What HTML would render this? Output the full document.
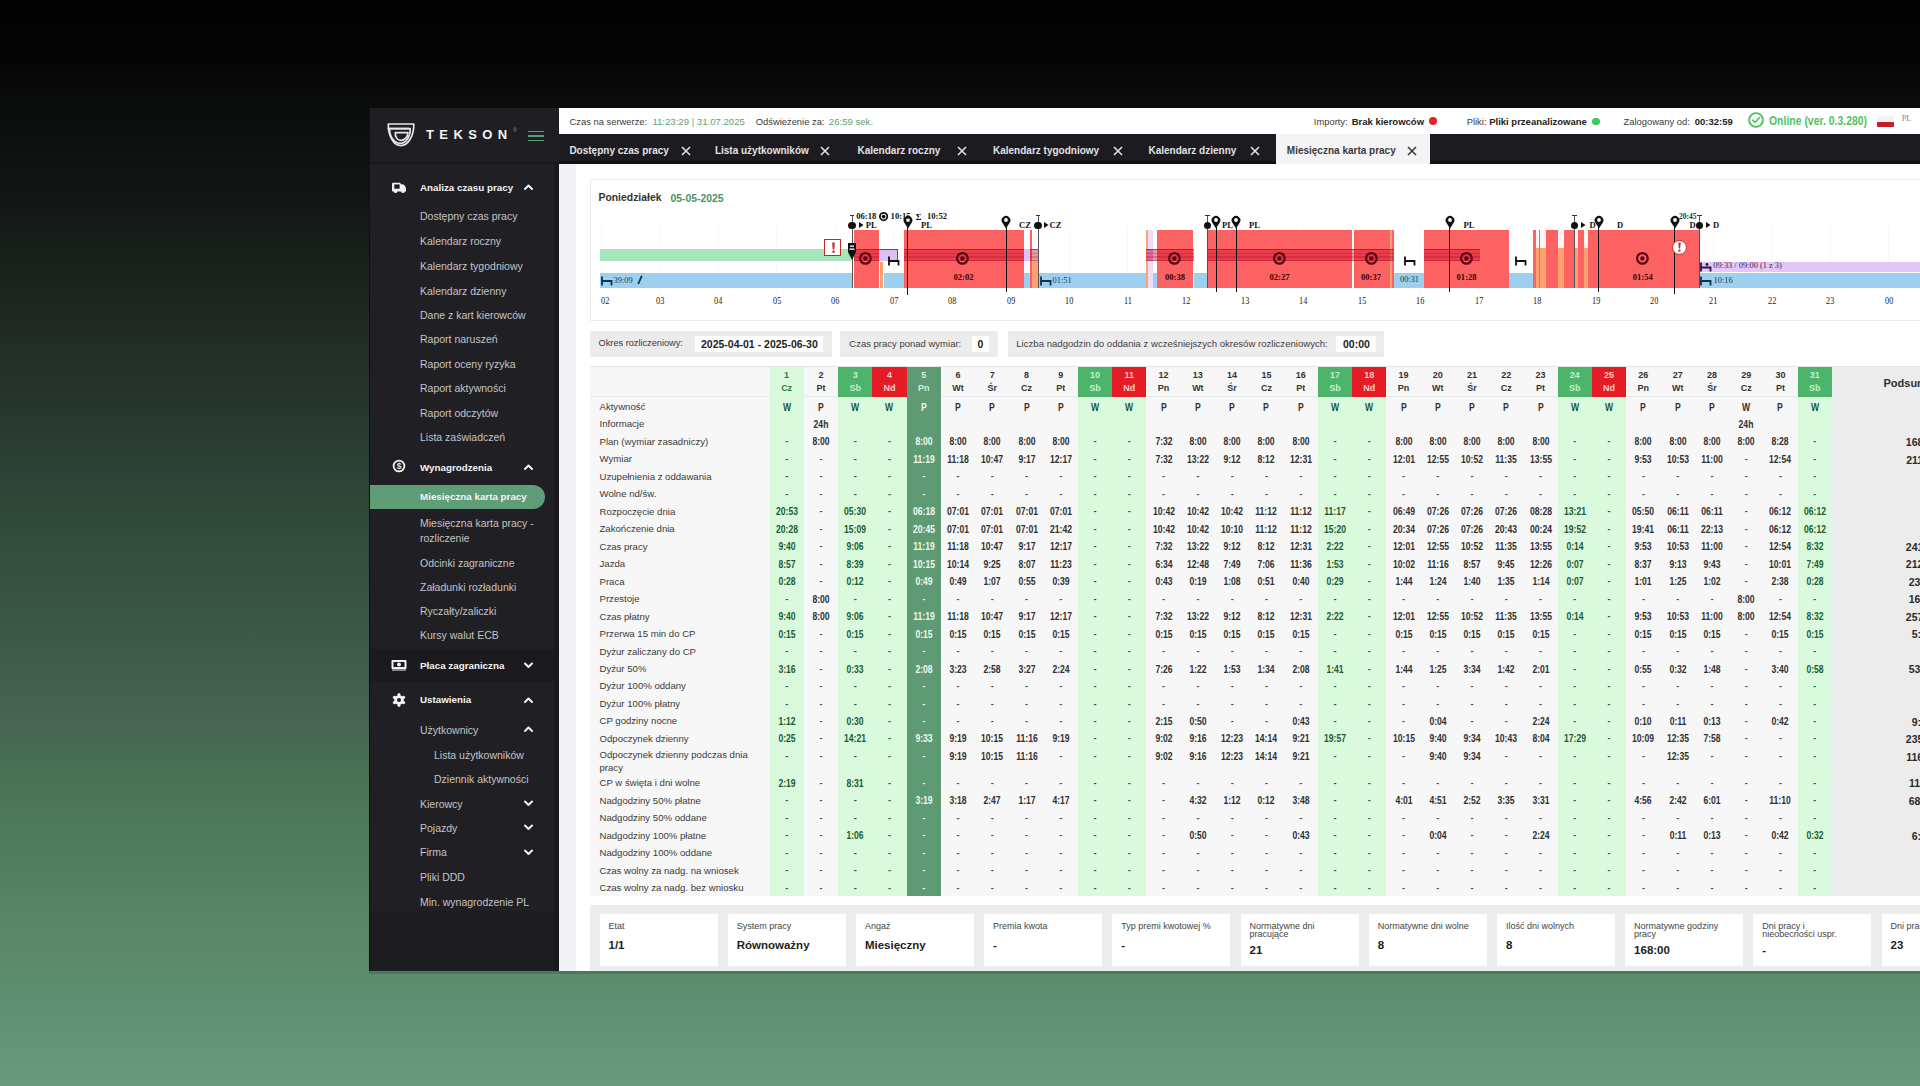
<!DOCTYPE html>
<html><head><meta charset="utf-8"><title>Tekson</title><style>
*{box-sizing:border-box;margin:0;padding:0}
html,body{width:1920px;height:1086px;overflow:hidden}
body{position:relative;font-family:"Liberation Sans",sans-serif;
background:linear-gradient(180deg,#020202 0px,#050505 60px,#0a0b0b 100px,#121714 200px,#1d2620 300px,#26352b 400px,#2f4739 500px,#385444 600px,#476552 725px,#466f53 762px,#4c765a 805px,#568364 900px,#5f8f71 1000px,#68997c 1086px);}
.a{position:absolute}
.t{position:absolute;white-space:nowrap;line-height:1}
</style></head><body>
<div class="a" style="left:369px;top:108px;width:190px;height:863px;background:#201f23"></div>
<div class="a" style="left:369px;top:108px;width:190px;height:55px;background:#1f1e22"></div>
<div class="a" style="left:369px;top:162px;width:190px;height:2px;background:#19181b"></div>
<div class="a" style="left:369px;top:649px;width:190px;height:32px;background:#1b1a1e"></div>
<div class="a" style="left:369px;top:911px;width:190px;height:60px;background:#1d1c20"></div>
<div class="a" style="left:369px;top:108px;width:1px;height:863px;background:#0f0f11"></div>
<div class="a" style="left:555px;top:164px;width:4px;height:807px;background:#19181c"></div>
<svg class="a" style="left:386px;top:121px" width="30" height="28" viewBox="0 0 30 28">
<g fill="none" stroke="#e6e6ea" stroke-width="1.7" stroke-linejoin="round">
<path d="M2.3 3.0 H27.8 C28.1 14.9 22.0 24.6 14.9 24.6 C7.8 24.6 2.0 14.9 2.3 3.0 Z"/>
<path d="M3.6 7.6 H24.2 C24.5 15.7 20.0 22.3 14.2 22.3 C8.4 22.3 3.3 15.7 3.6 7.6 Z"/>
<path d="M9.3 11.6 H21.9 C22.2 15.9 18.3 19.4 14.8 19.4 C11.3 19.4 9.0 15.9 9.3 11.6 Z"/>
<path d="M1.6 7.6 H23"/>
</g></svg>
<div class="t" style="left:426px;top:128px;font-size:13px;font-weight:bold;letter-spacing:5.4px;color:#f4f4f4">TEKSON</div>
<div class="t" style="left:513px;top:128px;font-size:5px;color:#9a9a9a">®</div>
<div class="a" style="left:528px;top:130.5px;width:16px;height:1.5px;background:#5e9c75"></div>
<div class="a" style="left:528px;top:135px;width:16px;height:1.5px;background:#5e9c75"></div>
<div class="a" style="left:528px;top:139.5px;width:16px;height:1.5px;background:#5e9c75"></div>
<svg class="a" style="left:391px;top:181px" width="16" height="13" viewBox="0 0 16 13">
<rect x="1" y="1.8" width="8.6" height="8.6" rx="1" fill="#f2f2f2"/>
<rect x="3.3" y="3.4" width="5.3" height="4.3" fill="#1f1e22"/>
<path d="M9 3.2 H12 Q15 4.8 15 8 V10.4 H9 Z" fill="#f2f2f2"/>
<circle cx="4.6" cy="10.4" r="1.7" fill="#f2f2f2"/>
<circle cx="12" cy="10.4" r="1.7" fill="#f2f2f2"/>
</svg>
<div class="t" style="left:420px;top:182.5px;font-size:9.8px;font-weight:bold;color:#f3f3f3">Analiza czasu pracy</div>
<svg class="a" style="left:523.5px;top:184.0px" width="9" height="7"><path d="M1 5 L4.5 1.5 L8 5" fill="none" stroke="#f0f0f0" stroke-width="2" stroke-linecap="round" stroke-linejoin="round"/></svg>
<div class="t" style="left:420px;top:211.0px;font-size:10.5px;color:#c4c4c6">Dostępny czas pracy</div>
<div class="t" style="left:420px;top:236.0px;font-size:10.5px;color:#c4c4c6">Kalendarz roczny</div>
<div class="t" style="left:420px;top:261.0px;font-size:10.5px;color:#c4c4c6">Kalendarz tygodniowy</div>
<div class="t" style="left:420px;top:285.5px;font-size:10.5px;color:#c4c4c6">Kalendarz dzienny</div>
<div class="t" style="left:420px;top:309.5px;font-size:10.5px;color:#c4c4c6">Dane z kart kierowców</div>
<div class="t" style="left:420px;top:334.3px;font-size:10.5px;color:#c4c4c6">Raport naruszeń</div>
<div class="t" style="left:420px;top:358.7px;font-size:10.5px;color:#c4c4c6">Raport oceny ryzyka</div>
<div class="t" style="left:420px;top:383.2px;font-size:10.5px;color:#c4c4c6">Raport aktywności</div>
<div class="t" style="left:420px;top:407.6px;font-size:10.5px;color:#c4c4c6">Raport odczytów</div>
<div class="t" style="left:420px;top:432.0px;font-size:10.5px;color:#c4c4c6">Lista zaświadczeń</div>
<svg class="a" style="left:391.9px;top:458.8px" width="14" height="14" viewBox="0 0 14 14">
<circle cx="7" cy="7" r="5.4" fill="none" stroke="#f0f0f2" stroke-width="1.8"/>
<text x="7" y="10" text-anchor="middle" font-size="8.5" font-weight="bold" font-family="Liberation Sans" fill="#e6e6e6">$</text>
</svg>
<div class="t" style="left:420px;top:462.5px;font-size:9.8px;font-weight:bold;color:#f3f3f3">Wynagrodzenia</div>
<svg class="a" style="left:523.5px;top:463.5px" width="9" height="7"><path d="M1 5 L4.5 1.5 L8 5" fill="none" stroke="#f0f0f0" stroke-width="2" stroke-linecap="round" stroke-linejoin="round"/></svg>
<div class="a" style="left:370px;top:484.5px;width:174.5px;height:24.5px;background:#5f9d76;border-radius:0 12.5px 12.5px 0"></div>
<div class="t" style="left:420px;top:491.5px;font-size:9.8px;font-weight:bold;color:#f4f4f4">Miesięczna karta pracy</div>
<div class="t" style="left:420px;top:517.5px;font-size:10.5px;color:#c4c4c6">Miesięczna karta pracy -</div>
<div class="t" style="left:420px;top:532.5px;font-size:10.5px;color:#c4c4c6">rozliczenie</div>
<div class="t" style="left:420px;top:557.5px;font-size:10.5px;color:#c4c4c6">Odcinki zagraniczne</div>
<div class="t" style="left:420px;top:581.8px;font-size:10.5px;color:#c4c4c6">Załadunki rozładunki</div>
<div class="t" style="left:420px;top:605.8px;font-size:10.5px;color:#c4c4c6">Ryczałty/zaliczki</div>
<div class="t" style="left:420px;top:630.4px;font-size:10.5px;color:#c4c4c6">Kursy walut ECB</div>
<svg class="a" style="left:391px;top:659px" width="16" height="12" viewBox="0 0 16 12">
<rect x="0.5" y="1" width="15" height="9" rx="1" fill="#f2f2f2"/>
<rect x="2.5" y="3" width="11" height="5" fill="#1b1a1e"/>
<circle cx="8" cy="5.5" r="2" fill="#f2f2f2"/>
<rect x="1" y="10.5" width="14" height="1" fill="#f2f2f2"/>
</svg>
<div class="t" style="left:420px;top:660.5px;font-size:9.8px;font-weight:bold;color:#f3f3f3">Płaca zagraniczna</div>
<svg class="a" style="left:523.5px;top:661.5px" width="9" height="7"><path d="M1 1.5 L4.5 5 L8 1.5" fill="none" stroke="#f0f0f0" stroke-width="2" stroke-linecap="round" stroke-linejoin="round"/></svg>
<svg class="a" style="left:392px;top:693px" width="14" height="14" viewBox="0 0 14 14">
<g fill="#f2f2f2"><circle cx="7" cy="7" r="4.8"/>
<rect x="5.6" y="0.3" width="2.8" height="13.4" rx="0.6"/>
<rect x="5.6" y="0.3" width="2.8" height="13.4" rx="0.6" transform="rotate(60 7 7)"/>
<rect x="5.6" y="0.3" width="2.8" height="13.4" rx="0.6" transform="rotate(120 7 7)"/></g>
<circle cx="7" cy="7" r="2" fill="#201f23"/>
</svg>
<div class="t" style="left:420px;top:695.3px;font-size:9.8px;font-weight:bold;color:#f3f3f3">Ustawienia</div>
<svg class="a" style="left:523.5px;top:696.5px" width="9" height="7"><path d="M1 5 L4.5 1.5 L8 5" fill="none" stroke="#f0f0f0" stroke-width="2" stroke-linecap="round" stroke-linejoin="round"/></svg>
<div class="t" style="left:420px;top:724.5px;font-size:10.5px;color:#c4c4c6">Użytkownicy</div>
<svg class="a" style="left:523.5px;top:725.5px" width="9" height="7"><path d="M1 5 L4.5 1.5 L8 5" fill="none" stroke="#f0f0f0" stroke-width="2" stroke-linecap="round" stroke-linejoin="round"/></svg>
<div class="t" style="left:434px;top:750.0px;font-size:10.5px;color:#c4c4c6">Lista użytkowników</div>
<div class="t" style="left:434px;top:774.2px;font-size:10.5px;color:#c4c4c6">Dziennik aktywności</div>
<div class="t" style="left:420px;top:798.5px;font-size:10.5px;color:#c4c4c6">Kierowcy</div>
<svg class="a" style="left:523.5px;top:799.8px" width="9" height="7"><path d="M1 1.5 L4.5 5 L8 1.5" fill="none" stroke="#f0f0f0" stroke-width="2" stroke-linecap="round" stroke-linejoin="round"/></svg>
<div class="t" style="left:420px;top:823.0px;font-size:10.5px;color:#c4c4c6">Pojazdy</div>
<svg class="a" style="left:523.5px;top:824.3px" width="9" height="7"><path d="M1 1.5 L4.5 5 L8 1.5" fill="none" stroke="#f0f0f0" stroke-width="2" stroke-linecap="round" stroke-linejoin="round"/></svg>
<div class="t" style="left:420px;top:847.2px;font-size:10.5px;color:#c4c4c6">Firma</div>
<svg class="a" style="left:523.5px;top:848.5px" width="9" height="7"><path d="M1 1.5 L4.5 5 L8 1.5" fill="none" stroke="#f0f0f0" stroke-width="2" stroke-linecap="round" stroke-linejoin="round"/></svg>
<div class="t" style="left:420px;top:872.0px;font-size:10.5px;color:#c4c4c6">Pliki DDD</div>
<div class="t" style="left:420px;top:896.7px;font-size:10.5px;color:#c4c4c6">Min. wynagrodzenie PL</div>
<div class="a" style="left:559px;top:108px;width:1361px;height:26px;background:#ffffff"></div>
<div class="t" style="left:569.5px;top:116.5px;font-size:9.4px;color:#3a3a3a">Czas na serwerze:</div>
<div class="t" style="left:652.4px;top:116.5px;font-size:9.6px;color:#5ea377">11:23:29 | 31.07.2025</div>
<div class="t" style="left:755.7px;top:116.5px;font-size:9.4px;color:#3a3a3a">Odświeżenie za:</div>
<div class="t" style="left:828.8px;top:116.5px;font-size:9.6px;color:#5ea377">26:59 sek.</div>
<div class="t" style="left:1313.8px;top:116.5px;font-size:9.4px;color:#3a3a3a">Importy:</div>
<div class="t" style="left:1351.7px;top:116.5px;font-size:9.5px;color:#222;font-weight:bold">Brak kierowców</div>
<div class="a" style="left:1428.5px;top:117.3px;width:8px;height:8px;border-radius:50%;background:#e8202a"></div>
<div class="t" style="left:1466.7px;top:116.5px;font-size:9.4px;color:#3a3a3a">Pliki:</div>
<div class="t" style="left:1489.2px;top:116.5px;font-size:9.5px;color:#222;font-weight:bold">Pliki przeanalizowane</div>
<div class="a" style="left:1592px;top:117.5px;width:7.5px;height:7.5px;border-radius:50%;background:#3cc95a"></div>
<div class="t" style="left:1623.6px;top:116.5px;font-size:9.4px;color:#3a3a3a">Zalogowany od:</div>
<div class="t" style="left:1694.8px;top:116.5px;font-size:9.5px;color:#222;font-weight:bold">00:32:59</div>
<svg class="a" style="left:1748.4px;top:112.4px" width="16" height="16" viewBox="0 0 16 16">
<circle cx="8" cy="8" r="6.9" fill="none" stroke="#4cc25c" stroke-width="1.9"/>
<path d="M4.6 8.2 L7 10.5 L11.4 5.6" fill="none" stroke="#4cc760" stroke-width="1.6" stroke-linecap="round" stroke-linejoin="round"/></svg>
<div class="t" style="left:1769px;top:114.6px;font-size:12px;font-weight:bold;color:#52c262;transform:scaleX(0.87);transform-origin:0 50%">Online (ver. 0.3.280)</div>
<div class="a" style="left:1877px;top:115.5px;width:17px;height:6px;background:#f3f3f3"></div>
<div class="a" style="left:1877px;top:121.5px;width:17px;height:5.8px;background:#c61d2d;border-radius:1px"></div>
<div class="t" style="left:1901.7px;top:115.4px;font-family:'Liberation Serif',serif;font-size:8.4px;color:#8a8a8a">PL</div>
<div class="a" style="left:559px;top:134px;width:1361px;height:30px;background:#1c1b1f"></div>
<div class="a" style="left:559px;top:161px;width:1361px;height:3px;background:#111113"></div>
<div class="a" style="left:1275.5px;top:134px;width:154.5px;height:30px;background:#f4f4f6"></div>
<div class="t" style="left:569.4px;top:146.0px;font-size:10px;font-weight:bold;color:#e2e2e4">Dostępny czas pracy</div>
<svg class="a" style="left:681.3px;top:145.5px" width="10" height="10"><path d="M1 1 L9 9 M9 1 L1 9" stroke="#e2e2e4" stroke-width="1.6"/></svg>
<div class="t" style="left:714.9px;top:146.0px;font-size:10px;font-weight:bold;color:#e2e2e4">Lista użytkowników</div>
<svg class="a" style="left:820.4px;top:145.5px" width="10" height="10"><path d="M1 1 L9 9 M9 1 L1 9" stroke="#e2e2e4" stroke-width="1.6"/></svg>
<div class="t" style="left:857.5px;top:146.0px;font-size:10px;font-weight:bold;color:#e2e2e4">Kalendarz roczny</div>
<svg class="a" style="left:957px;top:145.5px" width="10" height="10"><path d="M1 1 L9 9 M9 1 L1 9" stroke="#e2e2e4" stroke-width="1.6"/></svg>
<div class="t" style="left:993px;top:146.0px;font-size:10px;font-weight:bold;color:#e2e2e4">Kalendarz tygodniowy</div>
<svg class="a" style="left:1112.6px;top:145.5px" width="10" height="10"><path d="M1 1 L9 9 M9 1 L1 9" stroke="#e2e2e4" stroke-width="1.6"/></svg>
<div class="t" style="left:1148.5px;top:146.0px;font-size:10px;font-weight:bold;color:#e2e2e4">Kalendarz dzienny</div>
<svg class="a" style="left:1250.4px;top:145.5px" width="10" height="10"><path d="M1 1 L9 9 M9 1 L1 9" stroke="#e2e2e4" stroke-width="1.6"/></svg>
<div class="t" style="left:1286.8px;top:146.0px;font-size:10px;font-weight:bold;color:#3a3a3c">Miesięczna karta pracy</div>
<svg class="a" style="left:1407px;top:145.5px" width="10" height="10"><path d="M1 1 L9 9 M9 1 L1 9" stroke="#3a3a3c" stroke-width="1.6"/></svg>
<div class="a" style="left:369px;top:971px;width:1551px;height:2.5px;background:rgba(0,20,10,0.16)"></div><div class="a" style="left:559px;top:164px;width:1361px;height:807px;background:#f3f3f5"></div><div class="a" style="left:576px;top:164px;width:1344px;height:807px;background:#ffffff"></div>
<div class="a" style="left:590px;top:179px;width:1340px;height:141.5px;background:#fff;border:1px solid #ececec"></div>
<div class="t" style="left:598.5px;top:193.1px;font-size:10.4px;font-weight:bold;color:#333">Poniedziałek</div>
<div class="t" style="left:670.5px;top:194.0px;font-size:10.4px;font-weight:bold;color:#4f9168">05-05-2025</div>
<div class="a" style="left:601px;top:226px;width:1px;height:66px;background:#f8f8f8;"></div>
<div class="a" style="left:659px;top:226px;width:1px;height:66px;background:#f8f8f8;"></div>
<div class="a" style="left:718px;top:226px;width:1px;height:66px;background:#f8f8f8;"></div>
<div class="a" style="left:776px;top:226px;width:1px;height:66px;background:#f8f8f8;"></div>
<div class="a" style="left:835px;top:226px;width:1px;height:66px;background:#f8f8f8;"></div>
<div class="a" style="left:893px;top:226px;width:1px;height:66px;background:#f8f8f8;"></div>
<div class="a" style="left:952px;top:226px;width:1px;height:66px;background:#f8f8f8;"></div>
<div class="a" style="left:1010px;top:226px;width:1px;height:66px;background:#f8f8f8;"></div>
<div class="a" style="left:1069px;top:226px;width:1px;height:66px;background:#f8f8f8;"></div>
<div class="a" style="left:1127px;top:226px;width:1px;height:66px;background:#f8f8f8;"></div>
<div class="a" style="left:1186px;top:226px;width:1px;height:66px;background:#f8f8f8;"></div>
<div class="a" style="left:1244px;top:226px;width:1px;height:66px;background:#f8f8f8;"></div>
<div class="a" style="left:1303px;top:226px;width:1px;height:66px;background:#f8f8f8;"></div>
<div class="a" style="left:1361px;top:226px;width:1px;height:66px;background:#f8f8f8;"></div>
<div class="a" style="left:1420px;top:226px;width:1px;height:66px;background:#f8f8f8;"></div>
<div class="a" style="left:1478px;top:226px;width:2px;height:66px;background:#f8f8f8;"></div>
<div class="a" style="left:1537px;top:226px;width:1px;height:66px;background:#f8f8f8;"></div>
<div class="a" style="left:1596px;top:226px;width:1px;height:66px;background:#f8f8f8;"></div>
<div class="a" style="left:1654px;top:226px;width:1px;height:66px;background:#f8f8f8;"></div>
<div class="a" style="left:1713px;top:226px;width:1px;height:66px;background:#f8f8f8;"></div>
<div class="a" style="left:1771px;top:226px;width:1px;height:66px;background:#f8f8f8;"></div>
<div class="a" style="left:1830px;top:226px;width:1px;height:66px;background:#f8f8f8;"></div>
<div class="a" style="left:1888px;top:226px;width:1px;height:66px;background:#f8f8f8;"></div>
<div class="a" style="left:600px;top:249px;width:251px;height:12px;background:#a7e6bd;"></div>
<div class="a" style="left:600px;top:273px;width:252px;height:15px;background:#9dd0ef;"></div>
<div class="a" style="left:884px;top:273px;width:20px;height:15px;background:#9dd0ef;"></div>
<div class="a" style="left:1024px;top:273px;width:122px;height:15px;background:#9dd0ef;"></div>
<div class="a" style="left:1153px;top:273px;width:4px;height:15px;background:#9dd0ef;"></div>
<div class="a" style="left:1194px;top:273px;width:14px;height:15px;background:#9dd0ef;"></div>
<div class="a" style="left:1394px;top:273px;width:30px;height:15px;background:#9dd0ef;"></div>
<div class="a" style="left:1509px;top:273px;width:25px;height:15px;background:#9dd0ef;"></div>
<div class="a" style="left:1699px;top:273px;width:221px;height:15px;background:#9dd0ef;"></div>
<div class="a" style="left:1699px;top:262px;width:221px;height:10px;background:#e4c6f9;"></div>
<div class="a" style="left:854px;top:230px;width:25px;height:58px;background:#fd6262;"></div>
<div class="a" style="left:904px;top:230px;width:120px;height:58px;background:#fd6262;"></div>
<div class="a" style="left:1030px;top:230px;width:2px;height:58px;background:#fd6262;"></div>
<div class="a" style="left:1157px;top:230px;width:36px;height:58px;background:#fd6262;"></div>
<div class="a" style="left:1208px;top:230px;width:144px;height:58px;background:#fd6262;"></div>
<div class="a" style="left:1354px;top:230px;width:36px;height:58px;background:#fd6262;"></div>
<div class="a" style="left:1392px;top:230px;width:2px;height:58px;background:#fd6262;"></div>
<div class="a" style="left:1424px;top:230px;width:85px;height:58px;background:#fd6262;"></div>
<div class="a" style="left:1588px;top:230px;width:111px;height:58px;background:#fd6262;"></div>
<div class="a" style="left:1533px;top:230px;width:3px;height:58px;background:#fd6262;"></div>
<div class="a" style="left:1539px;top:230px;width:1px;height:58px;background:#fd6262;"></div>
<div class="a" style="left:1546px;top:230px;width:12px;height:58px;background:#fd6262;"></div>
<div class="a" style="left:1564px;top:230px;width:11px;height:58px;background:#fd6262;"></div>
<div class="a" style="left:1578px;top:230px;width:6px;height:58px;background:#fd6262;"></div>
<div class="a" style="left:1536px;top:230px;width:3px;height:18px;background:#fff4f2;"></div>
<div class="a" style="left:1536px;top:248px;width:3px;height:40px;background:#fea06f;"></div>
<div class="a" style="left:1540px;top:230px;width:6px;height:18px;background:#fff4f2;"></div>
<div class="a" style="left:1540px;top:248px;width:6px;height:40px;background:#fea06f;"></div>
<div class="a" style="left:1558px;top:230px;width:6px;height:18px;background:#fff4f2;"></div>
<div class="a" style="left:1558px;top:248px;width:6px;height:40px;background:#fea06f;"></div>
<div class="a" style="left:1575px;top:230px;width:3px;height:18px;background:#fff4f2;"></div>
<div class="a" style="left:1575px;top:248px;width:3px;height:40px;background:#fea06f;"></div>
<div class="a" style="left:1584px;top:230px;width:4px;height:18px;background:#fff4f2;"></div>
<div class="a" style="left:1584px;top:248px;width:4px;height:40px;background:#fea06f;"></div>
<div class="a" style="left:880px;top:262px;width:3px;height:26px;background:#fea06f;"></div>
<div class="a" style="left:1032px;top:261px;width:6px;height:27px;background:#fea06f;"></div>
<div class="a" style="left:1146px;top:230px;width:2px;height:58px;background:#fea06f;"></div>
<div class="a" style="left:1148px;top:230px;width:5px;height:58px;background:#ecdcf4;"></div>
<div class="a" style="left:1390px;top:230px;width:2px;height:58px;background:#fea06f;"></div>
<div class="a" style="left:879px;top:249px;width:19px;height:12px;background:#dcc0f6;border-top:1.2px solid #6a3aa8;border-right:1.2px solid #6a3aa8"></div>
<div class="a" style="left:1024px;top:249px;width:6px;height:12px;background:#dcc0f6;"></div>
<div class="a" style="left:1148px;top:249px;width:5px;height:12px;background:#d8b0e8;"></div>
<div class="a" style="left:854px;top:249px;width:25px;height:12px;background:rgba(205,10,45,0.42);border-top:1.2px solid rgba(150,0,20,0.55)"></div>
<div class="a" style="left:854px;top:253px;width:25px;height:1px;background:rgba(150,0,20,0.25);"></div>
<div class="a" style="left:854px;top:256px;width:25px;height:2px;background:rgba(150,0,20,0.22);"></div>
<div class="a" style="left:854px;top:260px;width:25px;height:1px;background:rgba(150,0,20,0.35);"></div>
<div class="a" style="left:904px;top:249px;width:120px;height:12px;background:rgba(205,10,45,0.42);border-top:1.2px solid rgba(150,0,20,0.55)"></div>
<div class="a" style="left:904px;top:253px;width:120px;height:1px;background:rgba(150,0,20,0.25);"></div>
<div class="a" style="left:904px;top:256px;width:120px;height:2px;background:rgba(150,0,20,0.22);"></div>
<div class="a" style="left:904px;top:260px;width:120px;height:1px;background:rgba(150,0,20,0.35);"></div>
<div class="a" style="left:1030px;top:249px;width:9px;height:12px;background:rgba(205,10,45,0.42);border-top:1.2px solid rgba(150,0,20,0.55)"></div>
<div class="a" style="left:1030px;top:253px;width:9px;height:1px;background:rgba(150,0,20,0.25);"></div>
<div class="a" style="left:1030px;top:256px;width:9px;height:2px;background:rgba(150,0,20,0.22);"></div>
<div class="a" style="left:1030px;top:260px;width:9px;height:1px;background:rgba(150,0,20,0.35);"></div>
<div class="a" style="left:1146px;top:249px;width:48px;height:12px;background:rgba(205,10,45,0.42);border-top:1.2px solid rgba(150,0,20,0.55)"></div>
<div class="a" style="left:1146px;top:253px;width:48px;height:1px;background:rgba(150,0,20,0.25);"></div>
<div class="a" style="left:1146px;top:256px;width:48px;height:2px;background:rgba(150,0,20,0.22);"></div>
<div class="a" style="left:1146px;top:260px;width:48px;height:1px;background:rgba(150,0,20,0.35);"></div>
<div class="a" style="left:1208px;top:249px;width:186px;height:12px;background:rgba(205,10,45,0.42);border-top:1.2px solid rgba(150,0,20,0.55)"></div>
<div class="a" style="left:1208px;top:253px;width:186px;height:1px;background:rgba(150,0,20,0.25);"></div>
<div class="a" style="left:1208px;top:256px;width:186px;height:2px;background:rgba(150,0,20,0.22);"></div>
<div class="a" style="left:1208px;top:260px;width:186px;height:1px;background:rgba(150,0,20,0.35);"></div>
<div class="a" style="left:1424px;top:249px;width:56px;height:12px;background:rgba(205,10,45,0.42);border-top:1.2px solid rgba(150,0,20,0.55)"></div>
<div class="a" style="left:1424px;top:253px;width:56px;height:1px;background:rgba(150,0,20,0.25);"></div>
<div class="a" style="left:1424px;top:256px;width:56px;height:2px;background:rgba(150,0,20,0.22);"></div>
<div class="a" style="left:1424px;top:260px;width:56px;height:1px;background:rgba(150,0,20,0.35);"></div>
<svg class="a" style="left:858.2px;top:250.6px" width="14.8" height="14.8"><circle cx="7.4" cy="7.4" r="5.30" fill="none" stroke="#5a0712" stroke-width="2.2"/><circle cx="7.4" cy="7.4" r="2.2" fill="#5a0712"/></svg>
<svg class="a" style="left:954.6px;top:250.6px" width="14.8" height="14.8"><circle cx="7.4" cy="7.4" r="5.30" fill="none" stroke="#5a0712" stroke-width="2.2"/><circle cx="7.4" cy="7.4" r="2.2" fill="#5a0712"/></svg>
<svg class="a" style="left:1166.6px;top:250.6px" width="14.8" height="14.8"><circle cx="7.4" cy="7.4" r="5.30" fill="none" stroke="#5a0712" stroke-width="2.2"/><circle cx="7.4" cy="7.4" r="2.2" fill="#5a0712"/></svg>
<svg class="a" style="left:1271.8px;top:250.6px" width="14.8" height="14.8"><circle cx="7.4" cy="7.4" r="5.30" fill="none" stroke="#5a0712" stroke-width="2.2"/><circle cx="7.4" cy="7.4" r="2.2" fill="#5a0712"/></svg>
<svg class="a" style="left:1363.6px;top:250.6px" width="14.8" height="14.8"><circle cx="7.4" cy="7.4" r="5.30" fill="none" stroke="#5a0712" stroke-width="2.2"/><circle cx="7.4" cy="7.4" r="2.2" fill="#5a0712"/></svg>
<svg class="a" style="left:1458.6px;top:250.6px" width="14.8" height="14.8"><circle cx="7.4" cy="7.4" r="5.30" fill="none" stroke="#5a0712" stroke-width="2.2"/><circle cx="7.4" cy="7.4" r="2.2" fill="#5a0712"/></svg>
<svg class="a" style="left:1634.5px;top:250.6px" width="14.8" height="14.8"><circle cx="7.4" cy="7.4" r="5.30" fill="none" stroke="#5a0712" stroke-width="2.2"/><circle cx="7.4" cy="7.4" r="2.2" fill="#5a0712"/></svg>
<svg class="a" style="left:877.9px;top:211.0px" width="11.2" height="11.2"><circle cx="5.6" cy="5.6" r="3.70" fill="none" stroke="#111" stroke-width="1.8"/><circle cx="5.6" cy="5.6" r="1.9" fill="#111"/></svg>
<div class="t" style="left:903.5px;width:120px;text-align:center;top:272.6px;font-family:'Liberation Serif',serif;font-size:8.6px;font-weight:bold;color:#3a0309">02:02</div>
<div class="t" style="left:1115.0px;width:120px;text-align:center;top:272.6px;font-family:'Liberation Serif',serif;font-size:8.6px;font-weight:bold;color:#3a0309">00:38</div>
<div class="t" style="left:1219.5px;width:120px;text-align:center;top:272.6px;font-family:'Liberation Serif',serif;font-size:8.6px;font-weight:bold;color:#3a0309">02:27</div>
<div class="t" style="left:1311.0px;width:120px;text-align:center;top:272.6px;font-family:'Liberation Serif',serif;font-size:8.6px;font-weight:bold;color:#3a0309">00:37</div>
<div class="t" style="left:1406.6px;width:120px;text-align:center;top:272.6px;font-family:'Liberation Serif',serif;font-size:8.6px;font-weight:bold;color:#3a0309">01:28</div>
<div class="t" style="left:1582.8px;width:120px;text-align:center;top:272.6px;font-family:'Liberation Serif',serif;font-size:8.6px;font-weight:bold;color:#3a0309">01:54</div>
<svg class="a" style="left:887.5px;top:255.5px" width="12" height="10" viewBox="0 0 12 10"><path d="M1 0.5 V9.5 M1 5 H10.5 V9.5" fill="none" stroke="#111" stroke-width="1.8"/></svg>
<svg class="a" style="left:1404px;top:255.8px" width="12" height="10" viewBox="0 0 12 10"><path d="M1 0.5 V9.5 M1 5 H10.5 V9.5" fill="none" stroke="#111" stroke-width="1.8"/></svg>
<svg class="a" style="left:1515.4px;top:255.8px" width="12" height="10" viewBox="0 0 12 10"><path d="M1 0.5 V9.5 M1 5 H10.5 V9.5" fill="none" stroke="#111" stroke-width="1.8"/></svg>
<svg class="a" style="left:601px;top:275.5px" width="12" height="10" viewBox="0 0 12 10"><path d="M1 0.5 V9.5 M1 5 H10.5 V9.5" fill="none" stroke="#10324a" stroke-width="1.8"/></svg>
<svg class="a" style="left:1040px;top:275.8px" width="12" height="10" viewBox="0 0 12 10"><path d="M1 0.5 V9.5 M1 5 H10.5 V9.5" fill="none" stroke="#10324a" stroke-width="1.8"/></svg>
<svg class="a" style="left:1700px;top:275.8px" width="12" height="10" viewBox="0 0 12 10"><path d="M1 0.5 V9.5 M1 5 H10.5 V9.5" fill="none" stroke="#10324a" stroke-width="1.8"/></svg>
<div class="t" style="left:613.5px;top:276.6px;font-family:'Liberation Serif',serif;font-size:8.4px;color:#1d3a52">39:09</div>
<svg class="a" style="left:637px;top:275px" width="6" height="10"><path d="M4.8 0.8 L1.2 9" stroke="#10324a" stroke-width="1.8"/></svg>
<div class="t" style="left:1052.5px;top:276.8px;font-family:'Liberation Serif',serif;font-size:8.4px;color:#1d3a52">01:51</div>
<div class="t" style="left:1349.5px;width:120px;text-align:center;top:276.4px;font-family:'Liberation Serif',serif;font-size:8.4px;color:#1d3a52">00:31</div>
<div class="t" style="left:1713.5px;top:276.8px;font-family:'Liberation Serif',serif;font-size:8.4px;color:#1d3a52">10:16</div>
<svg class="a" style="left:1700px;top:261.5px" width="12" height="10" viewBox="0 0 12 10"><path d="M1 0.5 V9.5 M1 5.5 H10.5 V9.5" fill="none" stroke="#2a1840" stroke-width="1.8"/><circle cx="7" cy="2.5" r="1.4" fill="#2a1840"/></svg>
<div class="t" style="left:1713.2px;top:262.4px;font-family:'Liberation Serif',serif;font-size:8.4px;color:#3a2450">09:33 / 09:00 (1 z 3)</div>
<div class="a" style="left:852px;top:216px;width:1px;height:72px;background:#555"></div>
<div class="a" style="left:850px;top:215px;width:4px;height:1px;background:#333;"></div>
<div class="a" style="left:848.4px;top:221.5px;width:7.2px;height:7.2px;border-radius:50%;background:#111"></div>
<svg class="a" style="left:848px;top:243px" width="8" height="17" viewBox="0 0 8 17"><rect x="0" y="0" width="8" height="9" fill="#111"/><rect x="2" y="2.5" width="4" height="1.3" fill="#fff"/><rect x="1.5" y="5.5" width="5" height="1.3" fill="#fff"/><path d="M0 9 H8 L4 17 Z" fill="#111"/></svg>
<div class="a" style="left:907px;top:226px;width:1px;height:69px;background:#111"></div>
<svg class="a" style="left:902.7px;top:215px" width="10" height="14" viewBox="0 0 10 14"><path d="M5 13.5 L1.2 7.5 A4.4 4.4 0 1 1 8.8 7.5 Z" fill="#111"/><circle cx="5" cy="5" r="1.9" fill="#fff"/></svg>
<div class="a" style="left:1006px;top:226px;width:1px;height:66px;background:#111"></div>
<svg class="a" style="left:1001.1px;top:215px" width="10" height="14" viewBox="0 0 10 14"><path d="M5 13.5 L1.2 7.5 A4.4 4.4 0 1 1 8.8 7.5 Z" fill="#111"/><circle cx="5" cy="5" r="1.9" fill="#fff"/></svg>
<div class="a" style="left:1038px;top:216px;width:1px;height:72px;background:#555"></div>
<div class="a" style="left:1036px;top:215px;width:4px;height:1px;background:#333;"></div>
<div class="a" style="left:1034.4px;top:221.5px;width:7.2px;height:7.2px;border-radius:50%;background:#111"></div>
<div class="a" style="left:1207px;top:216px;width:1px;height:72px;background:#555"></div>
<div class="a" style="left:1205px;top:215px;width:5px;height:1px;background:#333;"></div>
<div class="a" style="left:1203.7px;top:221.5px;width:7.2px;height:7.2px;border-radius:50%;background:#111"></div>
<div class="a" style="left:1216px;top:226px;width:1px;height:66px;background:#111"></div>
<svg class="a" style="left:1211.0px;top:215px" width="10" height="14" viewBox="0 0 10 14"><path d="M5 13.5 L1.2 7.5 A4.4 4.4 0 1 1 8.8 7.5 Z" fill="#111"/><circle cx="5" cy="5" r="1.9" fill="#fff"/></svg>
<div class="a" style="left:1236px;top:226px;width:1px;height:66px;background:#111"></div>
<svg class="a" style="left:1231.4px;top:215px" width="10" height="14" viewBox="0 0 10 14"><path d="M5 13.5 L1.2 7.5 A4.4 4.4 0 1 1 8.8 7.5 Z" fill="#111"/><circle cx="5" cy="5" r="1.9" fill="#fff"/></svg>
<div class="a" style="left:1449px;top:226px;width:1px;height:66px;background:#111"></div>
<svg class="a" style="left:1444.6px;top:215px" width="10" height="14" viewBox="0 0 10 14"><path d="M5 13.5 L1.2 7.5 A4.4 4.4 0 1 1 8.8 7.5 Z" fill="#111"/><circle cx="5" cy="5" r="1.9" fill="#fff"/></svg>
<div class="a" style="left:1574px;top:216px;width:1px;height:72px;background:#555"></div>
<div class="a" style="left:1572px;top:215px;width:5px;height:1px;background:#333;"></div>
<div class="a" style="left:1570.7px;top:221.5px;width:7.2px;height:7.2px;border-radius:50%;background:#111"></div>
<div class="a" style="left:1598px;top:226px;width:1px;height:66px;background:#111"></div>
<svg class="a" style="left:1594.0px;top:215px" width="10" height="14" viewBox="0 0 10 14"><path d="M5 13.5 L1.2 7.5 A4.4 4.4 0 1 1 8.8 7.5 Z" fill="#111"/><circle cx="5" cy="5" r="1.9" fill="#fff"/></svg>
<div class="a" style="left:1674px;top:226px;width:1px;height:68px;background:#111"></div>
<svg class="a" style="left:1669.5px;top:215px" width="10" height="14" viewBox="0 0 10 14"><path d="M5 13.5 L1.2 7.5 A4.4 4.4 0 1 1 8.8 7.5 Z" fill="#111"/><circle cx="5" cy="5" r="1.9" fill="#fff"/></svg>
<div class="a" style="left:1699px;top:216px;width:1px;height:72px;background:#555"></div>
<div class="a" style="left:1697px;top:215px;width:5px;height:1px;background:#333;"></div>
<div class="a" style="left:1695.9px;top:221.5px;width:7.2px;height:7.2px;border-radius:50%;background:#111"></div>
<div class="t" style="left:856.2px;top:212.3px;font-family:'Liberation Serif',serif;font-size:8.6px;font-weight:bold;color:#111">06:18</div>
<div class="t" style="left:890.6px;top:212.3px;font-family:'Liberation Serif',serif;font-size:8.6px;font-weight:bold;color:#111">10:15</div>
<div class="t" style="left:915.8px;top:212.5px;font-family:'Liberation Serif',serif;font-size:8.6px;font-weight:bold;color:#111">Σ</div>
<div class="t" style="left:927.0px;top:212.2px;font-family:'Liberation Serif',serif;font-size:8.6px;font-weight:bold;color:#111">10:52</div>
<svg class="a" style="left:859px;top:222.3px" width="5" height="6"><path d="M0 0 L4.5 3 L0 6 Z" fill="#111"/></svg>
<div class="t" style="left:865.7px;top:221.1px;font-family:'Liberation Serif',serif;font-size:8.6px;font-weight:bold;color:#111">PL</div>
<div class="t" style="left:921.0px;top:221.1px;font-family:'Liberation Serif',serif;font-size:8.6px;font-weight:bold;color:#111">PL</div>
<div class="t" style="left:1019.0px;top:221.1px;font-family:'Liberation Serif',serif;font-size:8.6px;font-weight:bold;color:#111">CZ</div>
<svg class="a" style="left:1043.5px;top:222.3px" width="5" height="6"><path d="M0 0 L4.5 3 L0 6 Z" fill="#111"/></svg>
<div class="t" style="left:1049.5px;top:221.1px;font-family:'Liberation Serif',serif;font-size:8.6px;font-weight:bold;color:#111">CZ</div>
<div class="t" style="left:1222.0px;top:221.1px;font-family:'Liberation Serif',serif;font-size:8.6px;font-weight:bold;color:#111">PL</div>
<div class="t" style="left:1249.0px;top:221.1px;font-family:'Liberation Serif',serif;font-size:8.6px;font-weight:bold;color:#111">PL</div>
<div class="t" style="left:1463.6px;top:221.1px;font-family:'Liberation Serif',serif;font-size:8.6px;font-weight:bold;color:#111">PL</div>
<svg class="a" style="left:1581px;top:222.3px" width="5" height="6"><path d="M0 0 L4.5 3 L0 6 Z" fill="#111"/></svg>
<div class="t" style="left:1589.5px;top:221.1px;font-family:'Liberation Serif',serif;font-size:8.6px;font-weight:bold;color:#111">D</div>
<div class="t" style="left:1617.0px;top:221.1px;font-family:'Liberation Serif',serif;font-size:8.6px;font-weight:bold;color:#111">D</div>
<div class="t" style="left:1679.0px;top:212.6px;font-family:'Liberation Serif',serif;font-size:7.5px;font-weight:bold;color:#333">20:45</div>
<div class="t" style="left:1689.5px;top:221.1px;font-family:'Liberation Serif',serif;font-size:8.6px;font-weight:bold;color:#111">D</div>
<svg class="a" style="left:1706px;top:222.3px" width="5" height="6"><path d="M0 0 L4.5 3 L0 6 Z" fill="#111"/></svg>
<div class="t" style="left:1713.0px;top:221.1px;font-family:'Liberation Serif',serif;font-size:8.6px;font-weight:bold;color:#111">D</div>
<div class="a" style="left:824.3px;top:238.8px;width:17px;height:16.8px;border:1.6px solid #c62828;background:#fff"></div>
<svg class="a" style="left:830.5px;top:241.5px" width="5" height="12"><path d="M1.2 0.5 H3.8 L3.3 7.5 H1.7 Z" fill="#c62828"/><rect x="1.4" y="8.6" width="2.2" height="2.2" fill="#c62828"/></svg>
<div class="a" style="left:1671.8px;top:239.5px;width:15px;height:15px;border-radius:50%;border:1.8px solid #c62828;background:#fff"></div>
<svg class="a" style="left:1676.8px;top:241.8px" width="5" height="11"><path d="M1.3 0.5 H3.7 L3.2 6.5 H1.8 Z" fill="#c62828"/><rect x="1.5" y="7.6" width="2" height="2" fill="#c62828"/></svg>
<div class="t" style="left:601.3px;top:297.2px;font-family:'Liberation Serif',serif;font-size:9.4px;color:#1a1a1a;transform:scaleX(0.88);transform-origin:0 50%">02</div>
<div class="t" style="left:655.6px;top:297.2px;font-family:'Liberation Serif',serif;font-size:9.4px;color:#1a1a1a;transform:scaleX(0.88);transform-origin:0 50%">03</div>
<div class="t" style="left:714.1px;top:297.2px;font-family:'Liberation Serif',serif;font-size:9.4px;color:#1a1a1a;transform:scaleX(0.88);transform-origin:0 50%">04</div>
<div class="t" style="left:772.6px;top:297.2px;font-family:'Liberation Serif',serif;font-size:9.4px;color:#1a1a1a;transform:scaleX(0.88);transform-origin:0 50%">05</div>
<div class="t" style="left:831.1px;top:297.2px;font-family:'Liberation Serif',serif;font-size:9.4px;color:#1a1a1a;transform:scaleX(0.88);transform-origin:0 50%">06</div>
<div class="t" style="left:889.7px;top:297.2px;font-family:'Liberation Serif',serif;font-size:9.4px;color:#1a1a1a;transform:scaleX(0.88);transform-origin:0 50%">07</div>
<div class="t" style="left:948.2px;top:297.2px;font-family:'Liberation Serif',serif;font-size:9.4px;color:#1a1a1a;transform:scaleX(0.88);transform-origin:0 50%">08</div>
<div class="t" style="left:1006.7px;top:297.2px;font-family:'Liberation Serif',serif;font-size:9.4px;color:#1a1a1a;transform:scaleX(0.88);transform-origin:0 50%">09</div>
<div class="t" style="left:1065.2px;top:297.2px;font-family:'Liberation Serif',serif;font-size:9.4px;color:#1a1a1a;transform:scaleX(0.88);transform-origin:0 50%">10</div>
<div class="t" style="left:1123.7px;top:297.2px;font-family:'Liberation Serif',serif;font-size:9.4px;color:#1a1a1a;transform:scaleX(0.88);transform-origin:0 50%">11</div>
<div class="t" style="left:1182.2px;top:297.2px;font-family:'Liberation Serif',serif;font-size:9.4px;color:#1a1a1a;transform:scaleX(0.88);transform-origin:0 50%">12</div>
<div class="t" style="left:1240.8px;top:297.2px;font-family:'Liberation Serif',serif;font-size:9.4px;color:#1a1a1a;transform:scaleX(0.88);transform-origin:0 50%">13</div>
<div class="t" style="left:1299.3px;top:297.2px;font-family:'Liberation Serif',serif;font-size:9.4px;color:#1a1a1a;transform:scaleX(0.88);transform-origin:0 50%">14</div>
<div class="t" style="left:1357.8px;top:297.2px;font-family:'Liberation Serif',serif;font-size:9.4px;color:#1a1a1a;transform:scaleX(0.88);transform-origin:0 50%">15</div>
<div class="t" style="left:1416.3px;top:297.2px;font-family:'Liberation Serif',serif;font-size:9.4px;color:#1a1a1a;transform:scaleX(0.88);transform-origin:0 50%">16</div>
<div class="t" style="left:1474.8px;top:297.2px;font-family:'Liberation Serif',serif;font-size:9.4px;color:#1a1a1a;transform:scaleX(0.88);transform-origin:0 50%">17</div>
<div class="t" style="left:1533.4px;top:297.2px;font-family:'Liberation Serif',serif;font-size:9.4px;color:#1a1a1a;transform:scaleX(0.88);transform-origin:0 50%">18</div>
<div class="t" style="left:1591.9px;top:297.2px;font-family:'Liberation Serif',serif;font-size:9.4px;color:#1a1a1a;transform:scaleX(0.88);transform-origin:0 50%">19</div>
<div class="t" style="left:1650.4px;top:297.2px;font-family:'Liberation Serif',serif;font-size:9.4px;color:#1a1a1a;transform:scaleX(0.88);transform-origin:0 50%">20</div>
<div class="t" style="left:1708.9px;top:297.2px;font-family:'Liberation Serif',serif;font-size:9.4px;color:#1a1a1a;transform:scaleX(0.88);transform-origin:0 50%">21</div>
<div class="t" style="left:1767.5px;top:297.2px;font-family:'Liberation Serif',serif;font-size:9.4px;color:#1a1a1a;transform:scaleX(0.88);transform-origin:0 50%">22</div>
<div class="t" style="left:1826.0px;top:297.2px;font-family:'Liberation Serif',serif;font-size:9.4px;color:#1a1a1a;transform:scaleX(0.88);transform-origin:0 50%">23</div>
<div class="t" style="left:1884.5px;top:297.2px;font-family:'Liberation Serif',serif;font-size:9.4px;color:#1a1a1a;transform:scaleX(0.88);transform-origin:0 50%">00</div>
<div class="a" style="left:589.80px;top:330.50px;width:241.80px;height:26.90px;background:#ececec;"></div>
<div class="t" style="left:598.60px;top:339.40px;font-size:9.2px;color:#3a3a3a">Okres rozliczeniowy:</div>
<div class="a" style="left:694.90px;top:336.40px;width:127.90px;height:15.40px;background:#ffffff;"></div>
<div class="t" style="left:701.00px;top:338.75px;font-size:10.5px;font-weight:bold;color:#222">2025-04-01 - 2025-06-30</div>
<div class="a" style="left:840.30px;top:330.50px;width:157.70px;height:26.90px;background:#ececec;"></div>
<div class="t" style="left:849.30px;top:339.25px;font-size:9.5px;color:#3e3e3e">Czas pracy ponad wymiar:</div>
<div class="a" style="left:971.60px;top:336.40px;width:17.40px;height:15.40px;background:#ffffff;"></div>
<div class="t" style="left:970.30px;width:20px;text-align:center;top:338.75px;font-size:10.5px;font-weight:bold;color:#222">0</div>
<div class="a" style="left:1007.90px;top:330.50px;width:375.90px;height:26.90px;background:#ececec;"></div>
<div class="t" style="left:1016.30px;top:339.21px;font-size:9.58px;color:#3e3e3e">Liczba nadgodzin do oddania z wcześniejszych okresów rozliczeniowych:</div>
<div class="a" style="left:1335.80px;top:336.40px;width:40.20px;height:15.40px;background:#ffffff;"></div>
<div class="t" style="left:1343.00px;top:338.75px;font-size:10.5px;font-weight:bold;color:#222">00:00</div>
<div class="a" style="left:590.00px;top:367.00px;width:179.50px;height:528.69px;background:#f7f7f7;"></div>
<div class="a" style="left:590.00px;top:366.20px;width:1330.00px;height:1.20px;background:#e4e4e4;"></div>
<div class="a" style="left:1831.87px;top:367.00px;width:88.13px;height:528.69px;background:#ececec;"></div>
<div class="a" style="left:769.50px;top:367.00px;width:34.27px;height:528.69px;background:#d9fadd;"></div>
<div class="a" style="left:803.77px;top:367.00px;width:34.27px;height:528.69px;background:#f7f7f7;"></div>
<div class="a" style="left:803.77px;top:396.00px;width:34.27px;height:1.00px;background:#e9e9e9;"></div>
<div class="a" style="left:838.04px;top:397.00px;width:34.27px;height:498.69px;background:#d9fadd;"></div>
<div class="a" style="left:838.04px;top:367.00px;width:34.27px;height:30.00px;background:#4cb46b;"></div>
<div class="a" style="left:872.31px;top:397.00px;width:34.27px;height:498.69px;background:#d9fadd;"></div>
<div class="a" style="left:872.31px;top:367.00px;width:34.27px;height:30.00px;background:#e31d23;"></div>
<div class="a" style="left:906.58px;top:367.00px;width:34.27px;height:528.69px;background:#5e9a73;"></div>
<div class="a" style="left:940.85px;top:367.00px;width:34.27px;height:528.69px;background:#f7f7f7;"></div>
<div class="a" style="left:940.85px;top:396.00px;width:34.27px;height:1.00px;background:#e9e9e9;"></div>
<div class="a" style="left:975.12px;top:367.00px;width:34.27px;height:528.69px;background:#f7f7f7;"></div>
<div class="a" style="left:975.12px;top:396.00px;width:34.27px;height:1.00px;background:#e9e9e9;"></div>
<div class="a" style="left:1009.39px;top:367.00px;width:34.27px;height:528.69px;background:#f7f7f7;"></div>
<div class="a" style="left:1009.39px;top:396.00px;width:34.27px;height:1.00px;background:#e9e9e9;"></div>
<div class="a" style="left:1043.66px;top:367.00px;width:34.27px;height:528.69px;background:#f7f7f7;"></div>
<div class="a" style="left:1043.66px;top:396.00px;width:34.27px;height:1.00px;background:#e9e9e9;"></div>
<div class="a" style="left:1077.93px;top:397.00px;width:34.27px;height:498.69px;background:#d9fadd;"></div>
<div class="a" style="left:1077.93px;top:367.00px;width:34.27px;height:30.00px;background:#4cb46b;"></div>
<div class="a" style="left:1112.20px;top:397.00px;width:34.27px;height:498.69px;background:#d9fadd;"></div>
<div class="a" style="left:1112.20px;top:367.00px;width:34.27px;height:30.00px;background:#e31d23;"></div>
<div class="a" style="left:1146.47px;top:367.00px;width:34.27px;height:528.69px;background:#f7f7f7;"></div>
<div class="a" style="left:1146.47px;top:396.00px;width:34.27px;height:1.00px;background:#e9e9e9;"></div>
<div class="a" style="left:1180.74px;top:367.00px;width:34.27px;height:528.69px;background:#f7f7f7;"></div>
<div class="a" style="left:1180.74px;top:396.00px;width:34.27px;height:1.00px;background:#e9e9e9;"></div>
<div class="a" style="left:1215.01px;top:367.00px;width:34.27px;height:528.69px;background:#f7f7f7;"></div>
<div class="a" style="left:1215.01px;top:396.00px;width:34.27px;height:1.00px;background:#e9e9e9;"></div>
<div class="a" style="left:1249.28px;top:367.00px;width:34.27px;height:528.69px;background:#f7f7f7;"></div>
<div class="a" style="left:1249.28px;top:396.00px;width:34.27px;height:1.00px;background:#e9e9e9;"></div>
<div class="a" style="left:1283.55px;top:367.00px;width:34.27px;height:528.69px;background:#f7f7f7;"></div>
<div class="a" style="left:1283.55px;top:396.00px;width:34.27px;height:1.00px;background:#e9e9e9;"></div>
<div class="a" style="left:1317.82px;top:397.00px;width:34.27px;height:498.69px;background:#d9fadd;"></div>
<div class="a" style="left:1317.82px;top:367.00px;width:34.27px;height:30.00px;background:#4cb46b;"></div>
<div class="a" style="left:1352.09px;top:397.00px;width:34.27px;height:498.69px;background:#d9fadd;"></div>
<div class="a" style="left:1352.09px;top:367.00px;width:34.27px;height:30.00px;background:#e31d23;"></div>
<div class="a" style="left:1386.36px;top:367.00px;width:34.27px;height:528.69px;background:#f7f7f7;"></div>
<div class="a" style="left:1386.36px;top:396.00px;width:34.27px;height:1.00px;background:#e9e9e9;"></div>
<div class="a" style="left:1420.63px;top:367.00px;width:34.27px;height:528.69px;background:#f7f7f7;"></div>
<div class="a" style="left:1420.63px;top:396.00px;width:34.27px;height:1.00px;background:#e9e9e9;"></div>
<div class="a" style="left:1454.90px;top:367.00px;width:34.27px;height:528.69px;background:#f7f7f7;"></div>
<div class="a" style="left:1454.90px;top:396.00px;width:34.27px;height:1.00px;background:#e9e9e9;"></div>
<div class="a" style="left:1489.17px;top:367.00px;width:34.27px;height:528.69px;background:#f7f7f7;"></div>
<div class="a" style="left:1489.17px;top:396.00px;width:34.27px;height:1.00px;background:#e9e9e9;"></div>
<div class="a" style="left:1523.44px;top:367.00px;width:34.27px;height:528.69px;background:#f7f7f7;"></div>
<div class="a" style="left:1523.44px;top:396.00px;width:34.27px;height:1.00px;background:#e9e9e9;"></div>
<div class="a" style="left:1557.71px;top:397.00px;width:34.27px;height:498.69px;background:#d9fadd;"></div>
<div class="a" style="left:1557.71px;top:367.00px;width:34.27px;height:30.00px;background:#4cb46b;"></div>
<div class="a" style="left:1591.98px;top:397.00px;width:34.27px;height:498.69px;background:#d9fadd;"></div>
<div class="a" style="left:1591.98px;top:367.00px;width:34.27px;height:30.00px;background:#e31d23;"></div>
<div class="a" style="left:1626.25px;top:367.00px;width:34.27px;height:528.69px;background:#f7f7f7;"></div>
<div class="a" style="left:1626.25px;top:396.00px;width:34.27px;height:1.00px;background:#e9e9e9;"></div>
<div class="a" style="left:1660.52px;top:367.00px;width:34.27px;height:528.69px;background:#f7f7f7;"></div>
<div class="a" style="left:1660.52px;top:396.00px;width:34.27px;height:1.00px;background:#e9e9e9;"></div>
<div class="a" style="left:1694.79px;top:367.00px;width:34.27px;height:528.69px;background:#f7f7f7;"></div>
<div class="a" style="left:1694.79px;top:396.00px;width:34.27px;height:1.00px;background:#e9e9e9;"></div>
<div class="a" style="left:1729.06px;top:367.00px;width:34.27px;height:528.69px;background:#f7f7f7;"></div>
<div class="a" style="left:1729.06px;top:396.00px;width:34.27px;height:1.00px;background:#e9e9e9;"></div>
<div class="a" style="left:1763.33px;top:367.00px;width:34.27px;height:528.69px;background:#f7f7f7;"></div>
<div class="a" style="left:1763.33px;top:396.00px;width:34.27px;height:1.00px;background:#e9e9e9;"></div>
<div class="a" style="left:1797.60px;top:397.00px;width:34.27px;height:498.69px;background:#d9fadd;"></div>
<div class="a" style="left:1797.60px;top:367.00px;width:34.27px;height:30.00px;background:#4cb46b;"></div>
<div class="a" style="left:590.00px;top:396.00px;width:179.50px;height:1.00px;background:#e9e9e9;"></div>
<div class="t" style="left:766.63px;width:40px;text-align:center;top:371.30px;font-size:9px;font-weight:bold;color:#2f7a45">1</div>
<div class="t" style="left:766.63px;width:40px;text-align:center;top:383.70px;font-size:9px;font-weight:bold;color:#2f7a45">Cz</div>
<div class="t" style="left:800.90px;width:40px;text-align:center;top:371.30px;font-size:9px;font-weight:bold;color:#333">2</div>
<div class="t" style="left:800.90px;width:40px;text-align:center;top:383.70px;font-size:9px;font-weight:bold;color:#333">Pt</div>
<div class="t" style="left:835.17px;width:40px;text-align:center;top:371.30px;font-size:9px;font-weight:bold;color:#c4f0cf">3</div>
<div class="t" style="left:835.17px;width:40px;text-align:center;top:383.70px;font-size:9px;font-weight:bold;color:#c4f0cf">Sb</div>
<div class="t" style="left:869.44px;width:40px;text-align:center;top:371.30px;font-size:9px;font-weight:bold;color:#ffc9c9">4</div>
<div class="t" style="left:869.44px;width:40px;text-align:center;top:383.70px;font-size:9px;font-weight:bold;color:#ffc9c9">Nd</div>
<div class="t" style="left:903.72px;width:40px;text-align:center;top:371.30px;font-size:9px;font-weight:bold;color:#d4f0dc">5</div>
<div class="t" style="left:903.72px;width:40px;text-align:center;top:383.70px;font-size:9px;font-weight:bold;color:#d4f0dc">Pn</div>
<div class="t" style="left:937.99px;width:40px;text-align:center;top:371.30px;font-size:9px;font-weight:bold;color:#333">6</div>
<div class="t" style="left:937.99px;width:40px;text-align:center;top:383.70px;font-size:9px;font-weight:bold;color:#333">Wt</div>
<div class="t" style="left:972.25px;width:40px;text-align:center;top:371.30px;font-size:9px;font-weight:bold;color:#333">7</div>
<div class="t" style="left:972.25px;width:40px;text-align:center;top:383.70px;font-size:9px;font-weight:bold;color:#333">Śr</div>
<div class="t" style="left:1006.53px;width:40px;text-align:center;top:371.30px;font-size:9px;font-weight:bold;color:#333">8</div>
<div class="t" style="left:1006.53px;width:40px;text-align:center;top:383.70px;font-size:9px;font-weight:bold;color:#333">Cz</div>
<div class="t" style="left:1040.80px;width:40px;text-align:center;top:371.30px;font-size:9px;font-weight:bold;color:#333">9</div>
<div class="t" style="left:1040.80px;width:40px;text-align:center;top:383.70px;font-size:9px;font-weight:bold;color:#333">Pt</div>
<div class="t" style="left:1075.07px;width:40px;text-align:center;top:371.30px;font-size:9px;font-weight:bold;color:#c4f0cf">10</div>
<div class="t" style="left:1075.07px;width:40px;text-align:center;top:383.70px;font-size:9px;font-weight:bold;color:#c4f0cf">Sb</div>
<div class="t" style="left:1109.34px;width:40px;text-align:center;top:371.30px;font-size:9px;font-weight:bold;color:#ffc9c9">11</div>
<div class="t" style="left:1109.34px;width:40px;text-align:center;top:383.70px;font-size:9px;font-weight:bold;color:#ffc9c9">Nd</div>
<div class="t" style="left:1143.61px;width:40px;text-align:center;top:371.30px;font-size:9px;font-weight:bold;color:#333">12</div>
<div class="t" style="left:1143.61px;width:40px;text-align:center;top:383.70px;font-size:9px;font-weight:bold;color:#333">Pn</div>
<div class="t" style="left:1177.88px;width:40px;text-align:center;top:371.30px;font-size:9px;font-weight:bold;color:#333">13</div>
<div class="t" style="left:1177.88px;width:40px;text-align:center;top:383.70px;font-size:9px;font-weight:bold;color:#333">Wt</div>
<div class="t" style="left:1212.14px;width:40px;text-align:center;top:371.30px;font-size:9px;font-weight:bold;color:#333">14</div>
<div class="t" style="left:1212.14px;width:40px;text-align:center;top:383.70px;font-size:9px;font-weight:bold;color:#333">Śr</div>
<div class="t" style="left:1246.41px;width:40px;text-align:center;top:371.30px;font-size:9px;font-weight:bold;color:#333">15</div>
<div class="t" style="left:1246.41px;width:40px;text-align:center;top:383.70px;font-size:9px;font-weight:bold;color:#333">Cz</div>
<div class="t" style="left:1280.69px;width:40px;text-align:center;top:371.30px;font-size:9px;font-weight:bold;color:#333">16</div>
<div class="t" style="left:1280.69px;width:40px;text-align:center;top:383.70px;font-size:9px;font-weight:bold;color:#333">Pt</div>
<div class="t" style="left:1314.96px;width:40px;text-align:center;top:371.30px;font-size:9px;font-weight:bold;color:#c4f0cf">17</div>
<div class="t" style="left:1314.96px;width:40px;text-align:center;top:383.70px;font-size:9px;font-weight:bold;color:#c4f0cf">Sb</div>
<div class="t" style="left:1349.23px;width:40px;text-align:center;top:371.30px;font-size:9px;font-weight:bold;color:#ffc9c9">18</div>
<div class="t" style="left:1349.23px;width:40px;text-align:center;top:383.70px;font-size:9px;font-weight:bold;color:#ffc9c9">Nd</div>
<div class="t" style="left:1383.50px;width:40px;text-align:center;top:371.30px;font-size:9px;font-weight:bold;color:#333">19</div>
<div class="t" style="left:1383.50px;width:40px;text-align:center;top:383.70px;font-size:9px;font-weight:bold;color:#333">Pn</div>
<div class="t" style="left:1417.77px;width:40px;text-align:center;top:371.30px;font-size:9px;font-weight:bold;color:#333">20</div>
<div class="t" style="left:1417.77px;width:40px;text-align:center;top:383.70px;font-size:9px;font-weight:bold;color:#333">Wt</div>
<div class="t" style="left:1452.04px;width:40px;text-align:center;top:371.30px;font-size:9px;font-weight:bold;color:#333">21</div>
<div class="t" style="left:1452.04px;width:40px;text-align:center;top:383.70px;font-size:9px;font-weight:bold;color:#333">Śr</div>
<div class="t" style="left:1486.31px;width:40px;text-align:center;top:371.30px;font-size:9px;font-weight:bold;color:#333">22</div>
<div class="t" style="left:1486.31px;width:40px;text-align:center;top:383.70px;font-size:9px;font-weight:bold;color:#333">Cz</div>
<div class="t" style="left:1520.58px;width:40px;text-align:center;top:371.30px;font-size:9px;font-weight:bold;color:#333">23</div>
<div class="t" style="left:1520.58px;width:40px;text-align:center;top:383.70px;font-size:9px;font-weight:bold;color:#333">Pt</div>
<div class="t" style="left:1554.85px;width:40px;text-align:center;top:371.30px;font-size:9px;font-weight:bold;color:#c4f0cf">24</div>
<div class="t" style="left:1554.85px;width:40px;text-align:center;top:383.70px;font-size:9px;font-weight:bold;color:#c4f0cf">Sb</div>
<div class="t" style="left:1589.12px;width:40px;text-align:center;top:371.30px;font-size:9px;font-weight:bold;color:#ffc9c9">25</div>
<div class="t" style="left:1589.12px;width:40px;text-align:center;top:383.70px;font-size:9px;font-weight:bold;color:#ffc9c9">Nd</div>
<div class="t" style="left:1623.38px;width:40px;text-align:center;top:371.30px;font-size:9px;font-weight:bold;color:#333">26</div>
<div class="t" style="left:1623.38px;width:40px;text-align:center;top:383.70px;font-size:9px;font-weight:bold;color:#333">Pn</div>
<div class="t" style="left:1657.65px;width:40px;text-align:center;top:371.30px;font-size:9px;font-weight:bold;color:#333">27</div>
<div class="t" style="left:1657.65px;width:40px;text-align:center;top:383.70px;font-size:9px;font-weight:bold;color:#333">Wt</div>
<div class="t" style="left:1691.92px;width:40px;text-align:center;top:371.30px;font-size:9px;font-weight:bold;color:#333">28</div>
<div class="t" style="left:1691.92px;width:40px;text-align:center;top:383.70px;font-size:9px;font-weight:bold;color:#333">Śr</div>
<div class="t" style="left:1726.19px;width:40px;text-align:center;top:371.30px;font-size:9px;font-weight:bold;color:#333">29</div>
<div class="t" style="left:1726.19px;width:40px;text-align:center;top:383.70px;font-size:9px;font-weight:bold;color:#333">Cz</div>
<div class="t" style="left:1760.46px;width:40px;text-align:center;top:371.30px;font-size:9px;font-weight:bold;color:#333">30</div>
<div class="t" style="left:1760.46px;width:40px;text-align:center;top:383.70px;font-size:9px;font-weight:bold;color:#333">Pt</div>
<div class="t" style="left:1794.74px;width:40px;text-align:center;top:371.30px;font-size:9px;font-weight:bold;color:#c4f0cf">31</div>
<div class="t" style="left:1794.74px;width:40px;text-align:center;top:383.70px;font-size:9px;font-weight:bold;color:#c4f0cf">Sb</div>
<div class="t" style="left:1883.50px;top:377.80px;font-size:11px;font-weight:bold;color:#2f2f2f">Podsumowanie</div>
<div class="t" style="left:599.50px;top:401.94px;font-size:9.6px;color:#3a3a3a">Aktywność</div>
<div class="t" style="left:766.63px;width:40px;text-align:center;top:402.54px;font-size:10px;font-weight:bold;transform:scaleX(0.86);color:#1f5a30">W</div>
<div class="t" style="left:800.90px;width:40px;text-align:center;top:402.54px;font-size:10px;font-weight:bold;transform:scaleX(0.86);color:#303030">P</div>
<div class="t" style="left:835.17px;width:40px;text-align:center;top:402.54px;font-size:10px;font-weight:bold;transform:scaleX(0.86);color:#1f5a30">W</div>
<div class="t" style="left:869.44px;width:40px;text-align:center;top:402.54px;font-size:10px;font-weight:bold;transform:scaleX(0.86);color:#1f5a30">W</div>
<div class="t" style="left:903.72px;width:40px;text-align:center;top:402.54px;font-size:10px;font-weight:bold;transform:scaleX(0.86);color:#eef8f1">P</div>
<div class="t" style="left:937.99px;width:40px;text-align:center;top:402.54px;font-size:10px;font-weight:bold;transform:scaleX(0.86);color:#303030">P</div>
<div class="t" style="left:972.25px;width:40px;text-align:center;top:402.54px;font-size:10px;font-weight:bold;transform:scaleX(0.86);color:#303030">P</div>
<div class="t" style="left:1006.53px;width:40px;text-align:center;top:402.54px;font-size:10px;font-weight:bold;transform:scaleX(0.86);color:#303030">P</div>
<div class="t" style="left:1040.80px;width:40px;text-align:center;top:402.54px;font-size:10px;font-weight:bold;transform:scaleX(0.86);color:#303030">P</div>
<div class="t" style="left:1075.07px;width:40px;text-align:center;top:402.54px;font-size:10px;font-weight:bold;transform:scaleX(0.86);color:#1f5a30">W</div>
<div class="t" style="left:1109.34px;width:40px;text-align:center;top:402.54px;font-size:10px;font-weight:bold;transform:scaleX(0.86);color:#1f5a30">W</div>
<div class="t" style="left:1143.61px;width:40px;text-align:center;top:402.54px;font-size:10px;font-weight:bold;transform:scaleX(0.86);color:#303030">P</div>
<div class="t" style="left:1177.88px;width:40px;text-align:center;top:402.54px;font-size:10px;font-weight:bold;transform:scaleX(0.86);color:#303030">P</div>
<div class="t" style="left:1212.14px;width:40px;text-align:center;top:402.54px;font-size:10px;font-weight:bold;transform:scaleX(0.86);color:#303030">P</div>
<div class="t" style="left:1246.41px;width:40px;text-align:center;top:402.54px;font-size:10px;font-weight:bold;transform:scaleX(0.86);color:#303030">P</div>
<div class="t" style="left:1280.69px;width:40px;text-align:center;top:402.54px;font-size:10px;font-weight:bold;transform:scaleX(0.86);color:#303030">P</div>
<div class="t" style="left:1314.96px;width:40px;text-align:center;top:402.54px;font-size:10px;font-weight:bold;transform:scaleX(0.86);color:#1f5a30">W</div>
<div class="t" style="left:1349.23px;width:40px;text-align:center;top:402.54px;font-size:10px;font-weight:bold;transform:scaleX(0.86);color:#1f5a30">W</div>
<div class="t" style="left:1383.50px;width:40px;text-align:center;top:402.54px;font-size:10px;font-weight:bold;transform:scaleX(0.86);color:#303030">P</div>
<div class="t" style="left:1417.77px;width:40px;text-align:center;top:402.54px;font-size:10px;font-weight:bold;transform:scaleX(0.86);color:#303030">P</div>
<div class="t" style="left:1452.04px;width:40px;text-align:center;top:402.54px;font-size:10px;font-weight:bold;transform:scaleX(0.86);color:#303030">P</div>
<div class="t" style="left:1486.31px;width:40px;text-align:center;top:402.54px;font-size:10px;font-weight:bold;transform:scaleX(0.86);color:#303030">P</div>
<div class="t" style="left:1520.58px;width:40px;text-align:center;top:402.54px;font-size:10px;font-weight:bold;transform:scaleX(0.86);color:#303030">P</div>
<div class="t" style="left:1554.85px;width:40px;text-align:center;top:402.54px;font-size:10px;font-weight:bold;transform:scaleX(0.86);color:#1f5a30">W</div>
<div class="t" style="left:1589.12px;width:40px;text-align:center;top:402.54px;font-size:10px;font-weight:bold;transform:scaleX(0.86);color:#1f5a30">W</div>
<div class="t" style="left:1623.38px;width:40px;text-align:center;top:402.54px;font-size:10px;font-weight:bold;transform:scaleX(0.86);color:#303030">P</div>
<div class="t" style="left:1657.65px;width:40px;text-align:center;top:402.54px;font-size:10px;font-weight:bold;transform:scaleX(0.86);color:#303030">P</div>
<div class="t" style="left:1691.92px;width:40px;text-align:center;top:402.54px;font-size:10px;font-weight:bold;transform:scaleX(0.86);color:#303030">P</div>
<div class="t" style="left:1726.19px;width:40px;text-align:center;top:402.54px;font-size:10px;font-weight:bold;transform:scaleX(0.86);color:#303030">W</div>
<div class="t" style="left:1760.46px;width:40px;text-align:center;top:402.54px;font-size:10px;font-weight:bold;transform:scaleX(0.86);color:#303030">P</div>
<div class="t" style="left:1794.74px;width:40px;text-align:center;top:402.54px;font-size:10px;font-weight:bold;transform:scaleX(0.86);color:#1f5a30">W</div>
<div class="t" style="left:599.50px;top:419.41px;font-size:9.6px;color:#3a3a3a">Informacje</div>
<div class="t" style="left:800.90px;width:40px;text-align:center;top:420.01px;font-size:10px;font-weight:bold;transform:scaleX(0.86);color:#303030">24h</div>
<div class="t" style="left:1726.19px;width:40px;text-align:center;top:420.01px;font-size:10px;font-weight:bold;transform:scaleX(0.86);color:#303030">24h</div>
<div class="t" style="left:599.50px;top:436.88px;font-size:9.6px;color:#3a3a3a">Plan (wymiar zasadniczy)</div>
<div class="t" style="left:766.63px;width:40px;text-align:center;top:437.48px;font-size:9px;font-weight:bold;color:#1f5a30">-</div>
<div class="t" style="left:800.90px;width:40px;text-align:center;top:437.48px;font-size:10px;font-weight:bold;transform:scaleX(0.86);color:#303030">8:00</div>
<div class="t" style="left:835.17px;width:40px;text-align:center;top:437.48px;font-size:9px;font-weight:bold;color:#1f5a30">-</div>
<div class="t" style="left:869.44px;width:40px;text-align:center;top:437.48px;font-size:9px;font-weight:bold;color:#1f5a30">-</div>
<div class="t" style="left:903.72px;width:40px;text-align:center;top:437.48px;font-size:10px;font-weight:bold;transform:scaleX(0.86);color:#eef8f1">8:00</div>
<div class="t" style="left:937.99px;width:40px;text-align:center;top:437.48px;font-size:10px;font-weight:bold;transform:scaleX(0.86);color:#303030">8:00</div>
<div class="t" style="left:972.25px;width:40px;text-align:center;top:437.48px;font-size:10px;font-weight:bold;transform:scaleX(0.86);color:#303030">8:00</div>
<div class="t" style="left:1006.53px;width:40px;text-align:center;top:437.48px;font-size:10px;font-weight:bold;transform:scaleX(0.86);color:#303030">8:00</div>
<div class="t" style="left:1040.80px;width:40px;text-align:center;top:437.48px;font-size:10px;font-weight:bold;transform:scaleX(0.86);color:#303030">8:00</div>
<div class="t" style="left:1075.07px;width:40px;text-align:center;top:437.48px;font-size:9px;font-weight:bold;color:#1f5a30">-</div>
<div class="t" style="left:1109.34px;width:40px;text-align:center;top:437.48px;font-size:9px;font-weight:bold;color:#1f5a30">-</div>
<div class="t" style="left:1143.61px;width:40px;text-align:center;top:437.48px;font-size:10px;font-weight:bold;transform:scaleX(0.86);color:#303030">7:32</div>
<div class="t" style="left:1177.88px;width:40px;text-align:center;top:437.48px;font-size:10px;font-weight:bold;transform:scaleX(0.86);color:#303030">8:00</div>
<div class="t" style="left:1212.14px;width:40px;text-align:center;top:437.48px;font-size:10px;font-weight:bold;transform:scaleX(0.86);color:#303030">8:00</div>
<div class="t" style="left:1246.41px;width:40px;text-align:center;top:437.48px;font-size:10px;font-weight:bold;transform:scaleX(0.86);color:#303030">8:00</div>
<div class="t" style="left:1280.69px;width:40px;text-align:center;top:437.48px;font-size:10px;font-weight:bold;transform:scaleX(0.86);color:#303030">8:00</div>
<div class="t" style="left:1314.96px;width:40px;text-align:center;top:437.48px;font-size:9px;font-weight:bold;color:#1f5a30">-</div>
<div class="t" style="left:1349.23px;width:40px;text-align:center;top:437.48px;font-size:9px;font-weight:bold;color:#1f5a30">-</div>
<div class="t" style="left:1383.50px;width:40px;text-align:center;top:437.48px;font-size:10px;font-weight:bold;transform:scaleX(0.86);color:#303030">8:00</div>
<div class="t" style="left:1417.77px;width:40px;text-align:center;top:437.48px;font-size:10px;font-weight:bold;transform:scaleX(0.86);color:#303030">8:00</div>
<div class="t" style="left:1452.04px;width:40px;text-align:center;top:437.48px;font-size:10px;font-weight:bold;transform:scaleX(0.86);color:#303030">8:00</div>
<div class="t" style="left:1486.31px;width:40px;text-align:center;top:437.48px;font-size:10px;font-weight:bold;transform:scaleX(0.86);color:#303030">8:00</div>
<div class="t" style="left:1520.58px;width:40px;text-align:center;top:437.48px;font-size:10px;font-weight:bold;transform:scaleX(0.86);color:#303030">8:00</div>
<div class="t" style="left:1554.85px;width:40px;text-align:center;top:437.48px;font-size:9px;font-weight:bold;color:#1f5a30">-</div>
<div class="t" style="left:1589.12px;width:40px;text-align:center;top:437.48px;font-size:9px;font-weight:bold;color:#1f5a30">-</div>
<div class="t" style="left:1623.38px;width:40px;text-align:center;top:437.48px;font-size:10px;font-weight:bold;transform:scaleX(0.86);color:#303030">8:00</div>
<div class="t" style="left:1657.65px;width:40px;text-align:center;top:437.48px;font-size:10px;font-weight:bold;transform:scaleX(0.86);color:#303030">8:00</div>
<div class="t" style="left:1691.92px;width:40px;text-align:center;top:437.48px;font-size:10px;font-weight:bold;transform:scaleX(0.86);color:#303030">8:00</div>
<div class="t" style="left:1726.19px;width:40px;text-align:center;top:437.48px;font-size:10px;font-weight:bold;transform:scaleX(0.86);color:#303030">8:00</div>
<div class="t" style="left:1760.46px;width:40px;text-align:center;top:437.48px;font-size:10px;font-weight:bold;transform:scaleX(0.86);color:#303030">8:28</div>
<div class="t" style="left:1794.74px;width:40px;text-align:center;top:437.48px;font-size:9px;font-weight:bold;color:#1f5a30">-</div>
<div class="t" style="left:1892.20px;width:60px;text-align:center;top:437.03px;font-size:10.5px;font-weight:bold;color:#2a2a2a">168:00</div>
<div class="t" style="left:599.50px;top:454.35px;font-size:9.6px;color:#3a3a3a">Wymiar</div>
<div class="t" style="left:766.63px;width:40px;text-align:center;top:454.95px;font-size:9px;font-weight:bold;color:#1f5a30">-</div>
<div class="t" style="left:800.90px;width:40px;text-align:center;top:454.95px;font-size:9px;font-weight:bold;color:#4a4a4a">-</div>
<div class="t" style="left:835.17px;width:40px;text-align:center;top:454.95px;font-size:9px;font-weight:bold;color:#1f5a30">-</div>
<div class="t" style="left:869.44px;width:40px;text-align:center;top:454.95px;font-size:9px;font-weight:bold;color:#1f5a30">-</div>
<div class="t" style="left:903.72px;width:40px;text-align:center;top:454.95px;font-size:10px;font-weight:bold;transform:scaleX(0.86);color:#eef8f1">11:19</div>
<div class="t" style="left:937.99px;width:40px;text-align:center;top:454.95px;font-size:10px;font-weight:bold;transform:scaleX(0.86);color:#303030">11:18</div>
<div class="t" style="left:972.25px;width:40px;text-align:center;top:454.95px;font-size:10px;font-weight:bold;transform:scaleX(0.86);color:#303030">10:47</div>
<div class="t" style="left:1006.53px;width:40px;text-align:center;top:454.95px;font-size:10px;font-weight:bold;transform:scaleX(0.86);color:#303030">9:17</div>
<div class="t" style="left:1040.80px;width:40px;text-align:center;top:454.95px;font-size:10px;font-weight:bold;transform:scaleX(0.86);color:#303030">12:17</div>
<div class="t" style="left:1075.07px;width:40px;text-align:center;top:454.95px;font-size:9px;font-weight:bold;color:#1f5a30">-</div>
<div class="t" style="left:1109.34px;width:40px;text-align:center;top:454.95px;font-size:9px;font-weight:bold;color:#1f5a30">-</div>
<div class="t" style="left:1143.61px;width:40px;text-align:center;top:454.95px;font-size:10px;font-weight:bold;transform:scaleX(0.86);color:#303030">7:32</div>
<div class="t" style="left:1177.88px;width:40px;text-align:center;top:454.95px;font-size:10px;font-weight:bold;transform:scaleX(0.86);color:#303030">13:22</div>
<div class="t" style="left:1212.14px;width:40px;text-align:center;top:454.95px;font-size:10px;font-weight:bold;transform:scaleX(0.86);color:#303030">9:12</div>
<div class="t" style="left:1246.41px;width:40px;text-align:center;top:454.95px;font-size:10px;font-weight:bold;transform:scaleX(0.86);color:#303030">8:12</div>
<div class="t" style="left:1280.69px;width:40px;text-align:center;top:454.95px;font-size:10px;font-weight:bold;transform:scaleX(0.86);color:#303030">12:31</div>
<div class="t" style="left:1314.96px;width:40px;text-align:center;top:454.95px;font-size:9px;font-weight:bold;color:#1f5a30">-</div>
<div class="t" style="left:1349.23px;width:40px;text-align:center;top:454.95px;font-size:9px;font-weight:bold;color:#1f5a30">-</div>
<div class="t" style="left:1383.50px;width:40px;text-align:center;top:454.95px;font-size:10px;font-weight:bold;transform:scaleX(0.86);color:#303030">12:01</div>
<div class="t" style="left:1417.77px;width:40px;text-align:center;top:454.95px;font-size:10px;font-weight:bold;transform:scaleX(0.86);color:#303030">12:55</div>
<div class="t" style="left:1452.04px;width:40px;text-align:center;top:454.95px;font-size:10px;font-weight:bold;transform:scaleX(0.86);color:#303030">10:52</div>
<div class="t" style="left:1486.31px;width:40px;text-align:center;top:454.95px;font-size:10px;font-weight:bold;transform:scaleX(0.86);color:#303030">11:35</div>
<div class="t" style="left:1520.58px;width:40px;text-align:center;top:454.95px;font-size:10px;font-weight:bold;transform:scaleX(0.86);color:#303030">13:55</div>
<div class="t" style="left:1554.85px;width:40px;text-align:center;top:454.95px;font-size:9px;font-weight:bold;color:#1f5a30">-</div>
<div class="t" style="left:1589.12px;width:40px;text-align:center;top:454.95px;font-size:9px;font-weight:bold;color:#1f5a30">-</div>
<div class="t" style="left:1623.38px;width:40px;text-align:center;top:454.95px;font-size:10px;font-weight:bold;transform:scaleX(0.86);color:#303030">9:53</div>
<div class="t" style="left:1657.65px;width:40px;text-align:center;top:454.95px;font-size:10px;font-weight:bold;transform:scaleX(0.86);color:#303030">10:53</div>
<div class="t" style="left:1691.92px;width:40px;text-align:center;top:454.95px;font-size:10px;font-weight:bold;transform:scaleX(0.86);color:#303030">11:00</div>
<div class="t" style="left:1726.19px;width:40px;text-align:center;top:454.95px;font-size:9px;font-weight:bold;color:#4a4a4a">-</div>
<div class="t" style="left:1760.46px;width:40px;text-align:center;top:454.95px;font-size:10px;font-weight:bold;transform:scaleX(0.86);color:#303030">12:54</div>
<div class="t" style="left:1794.74px;width:40px;text-align:center;top:454.95px;font-size:9px;font-weight:bold;color:#1f5a30">-</div>
<div class="t" style="left:1892.20px;width:60px;text-align:center;top:454.50px;font-size:10.5px;font-weight:bold;color:#2a2a2a">211:22</div>
<div class="t" style="left:599.50px;top:471.82px;font-size:9.6px;color:#3a3a3a">Uzupełnienia z oddawania</div>
<div class="t" style="left:766.63px;width:40px;text-align:center;top:472.42px;font-size:9px;font-weight:bold;color:#1f5a30">-</div>
<div class="t" style="left:800.90px;width:40px;text-align:center;top:472.42px;font-size:9px;font-weight:bold;color:#4a4a4a">-</div>
<div class="t" style="left:835.17px;width:40px;text-align:center;top:472.42px;font-size:9px;font-weight:bold;color:#1f5a30">-</div>
<div class="t" style="left:869.44px;width:40px;text-align:center;top:472.42px;font-size:9px;font-weight:bold;color:#1f5a30">-</div>
<div class="t" style="left:903.72px;width:40px;text-align:center;top:472.42px;font-size:9px;font-weight:bold;color:#eef8f1">-</div>
<div class="t" style="left:937.99px;width:40px;text-align:center;top:472.42px;font-size:9px;font-weight:bold;color:#4a4a4a">-</div>
<div class="t" style="left:972.25px;width:40px;text-align:center;top:472.42px;font-size:9px;font-weight:bold;color:#4a4a4a">-</div>
<div class="t" style="left:1006.53px;width:40px;text-align:center;top:472.42px;font-size:9px;font-weight:bold;color:#4a4a4a">-</div>
<div class="t" style="left:1040.80px;width:40px;text-align:center;top:472.42px;font-size:9px;font-weight:bold;color:#4a4a4a">-</div>
<div class="t" style="left:1075.07px;width:40px;text-align:center;top:472.42px;font-size:9px;font-weight:bold;color:#1f5a30">-</div>
<div class="t" style="left:1109.34px;width:40px;text-align:center;top:472.42px;font-size:9px;font-weight:bold;color:#1f5a30">-</div>
<div class="t" style="left:1143.61px;width:40px;text-align:center;top:472.42px;font-size:9px;font-weight:bold;color:#4a4a4a">-</div>
<div class="t" style="left:1177.88px;width:40px;text-align:center;top:472.42px;font-size:9px;font-weight:bold;color:#4a4a4a">-</div>
<div class="t" style="left:1212.14px;width:40px;text-align:center;top:472.42px;font-size:9px;font-weight:bold;color:#4a4a4a">-</div>
<div class="t" style="left:1246.41px;width:40px;text-align:center;top:472.42px;font-size:9px;font-weight:bold;color:#4a4a4a">-</div>
<div class="t" style="left:1280.69px;width:40px;text-align:center;top:472.42px;font-size:9px;font-weight:bold;color:#4a4a4a">-</div>
<div class="t" style="left:1314.96px;width:40px;text-align:center;top:472.42px;font-size:9px;font-weight:bold;color:#1f5a30">-</div>
<div class="t" style="left:1349.23px;width:40px;text-align:center;top:472.42px;font-size:9px;font-weight:bold;color:#1f5a30">-</div>
<div class="t" style="left:1383.50px;width:40px;text-align:center;top:472.42px;font-size:9px;font-weight:bold;color:#4a4a4a">-</div>
<div class="t" style="left:1417.77px;width:40px;text-align:center;top:472.42px;font-size:9px;font-weight:bold;color:#4a4a4a">-</div>
<div class="t" style="left:1452.04px;width:40px;text-align:center;top:472.42px;font-size:9px;font-weight:bold;color:#4a4a4a">-</div>
<div class="t" style="left:1486.31px;width:40px;text-align:center;top:472.42px;font-size:9px;font-weight:bold;color:#4a4a4a">-</div>
<div class="t" style="left:1520.58px;width:40px;text-align:center;top:472.42px;font-size:9px;font-weight:bold;color:#4a4a4a">-</div>
<div class="t" style="left:1554.85px;width:40px;text-align:center;top:472.42px;font-size:9px;font-weight:bold;color:#1f5a30">-</div>
<div class="t" style="left:1589.12px;width:40px;text-align:center;top:472.42px;font-size:9px;font-weight:bold;color:#1f5a30">-</div>
<div class="t" style="left:1623.38px;width:40px;text-align:center;top:472.42px;font-size:9px;font-weight:bold;color:#4a4a4a">-</div>
<div class="t" style="left:1657.65px;width:40px;text-align:center;top:472.42px;font-size:9px;font-weight:bold;color:#4a4a4a">-</div>
<div class="t" style="left:1691.92px;width:40px;text-align:center;top:472.42px;font-size:9px;font-weight:bold;color:#4a4a4a">-</div>
<div class="t" style="left:1726.19px;width:40px;text-align:center;top:472.42px;font-size:9px;font-weight:bold;color:#4a4a4a">-</div>
<div class="t" style="left:1760.46px;width:40px;text-align:center;top:472.42px;font-size:9px;font-weight:bold;color:#4a4a4a">-</div>
<div class="t" style="left:1794.74px;width:40px;text-align:center;top:472.42px;font-size:9px;font-weight:bold;color:#1f5a30">-</div>
<div class="t" style="left:599.50px;top:489.29px;font-size:9.6px;color:#3a3a3a">Wolne nd/św.</div>
<div class="t" style="left:766.63px;width:40px;text-align:center;top:489.89px;font-size:9px;font-weight:bold;color:#1f5a30">-</div>
<div class="t" style="left:800.90px;width:40px;text-align:center;top:489.89px;font-size:9px;font-weight:bold;color:#4a4a4a">-</div>
<div class="t" style="left:835.17px;width:40px;text-align:center;top:489.89px;font-size:9px;font-weight:bold;color:#1f5a30">-</div>
<div class="t" style="left:869.44px;width:40px;text-align:center;top:489.89px;font-size:9px;font-weight:bold;color:#1f5a30">-</div>
<div class="t" style="left:903.72px;width:40px;text-align:center;top:489.89px;font-size:9px;font-weight:bold;color:#eef8f1">-</div>
<div class="t" style="left:937.99px;width:40px;text-align:center;top:489.89px;font-size:9px;font-weight:bold;color:#4a4a4a">-</div>
<div class="t" style="left:972.25px;width:40px;text-align:center;top:489.89px;font-size:9px;font-weight:bold;color:#4a4a4a">-</div>
<div class="t" style="left:1006.53px;width:40px;text-align:center;top:489.89px;font-size:9px;font-weight:bold;color:#4a4a4a">-</div>
<div class="t" style="left:1040.80px;width:40px;text-align:center;top:489.89px;font-size:9px;font-weight:bold;color:#4a4a4a">-</div>
<div class="t" style="left:1075.07px;width:40px;text-align:center;top:489.89px;font-size:9px;font-weight:bold;color:#1f5a30">-</div>
<div class="t" style="left:1109.34px;width:40px;text-align:center;top:489.89px;font-size:9px;font-weight:bold;color:#1f5a30">-</div>
<div class="t" style="left:1143.61px;width:40px;text-align:center;top:489.89px;font-size:9px;font-weight:bold;color:#4a4a4a">-</div>
<div class="t" style="left:1177.88px;width:40px;text-align:center;top:489.89px;font-size:9px;font-weight:bold;color:#4a4a4a">-</div>
<div class="t" style="left:1212.14px;width:40px;text-align:center;top:489.89px;font-size:9px;font-weight:bold;color:#4a4a4a">-</div>
<div class="t" style="left:1246.41px;width:40px;text-align:center;top:489.89px;font-size:9px;font-weight:bold;color:#4a4a4a">-</div>
<div class="t" style="left:1280.69px;width:40px;text-align:center;top:489.89px;font-size:9px;font-weight:bold;color:#4a4a4a">-</div>
<div class="t" style="left:1314.96px;width:40px;text-align:center;top:489.89px;font-size:9px;font-weight:bold;color:#1f5a30">-</div>
<div class="t" style="left:1349.23px;width:40px;text-align:center;top:489.89px;font-size:9px;font-weight:bold;color:#1f5a30">-</div>
<div class="t" style="left:1383.50px;width:40px;text-align:center;top:489.89px;font-size:9px;font-weight:bold;color:#4a4a4a">-</div>
<div class="t" style="left:1417.77px;width:40px;text-align:center;top:489.89px;font-size:9px;font-weight:bold;color:#4a4a4a">-</div>
<div class="t" style="left:1452.04px;width:40px;text-align:center;top:489.89px;font-size:9px;font-weight:bold;color:#4a4a4a">-</div>
<div class="t" style="left:1486.31px;width:40px;text-align:center;top:489.89px;font-size:9px;font-weight:bold;color:#4a4a4a">-</div>
<div class="t" style="left:1520.58px;width:40px;text-align:center;top:489.89px;font-size:9px;font-weight:bold;color:#4a4a4a">-</div>
<div class="t" style="left:1554.85px;width:40px;text-align:center;top:489.89px;font-size:9px;font-weight:bold;color:#1f5a30">-</div>
<div class="t" style="left:1589.12px;width:40px;text-align:center;top:489.89px;font-size:9px;font-weight:bold;color:#1f5a30">-</div>
<div class="t" style="left:1623.38px;width:40px;text-align:center;top:489.89px;font-size:9px;font-weight:bold;color:#4a4a4a">-</div>
<div class="t" style="left:1657.65px;width:40px;text-align:center;top:489.89px;font-size:9px;font-weight:bold;color:#4a4a4a">-</div>
<div class="t" style="left:1691.92px;width:40px;text-align:center;top:489.89px;font-size:9px;font-weight:bold;color:#4a4a4a">-</div>
<div class="t" style="left:1726.19px;width:40px;text-align:center;top:489.89px;font-size:9px;font-weight:bold;color:#4a4a4a">-</div>
<div class="t" style="left:1760.46px;width:40px;text-align:center;top:489.89px;font-size:9px;font-weight:bold;color:#4a4a4a">-</div>
<div class="t" style="left:1794.74px;width:40px;text-align:center;top:489.89px;font-size:9px;font-weight:bold;color:#1f5a30">-</div>
<div class="t" style="left:599.50px;top:506.76px;font-size:9.6px;color:#3a3a3a">Rozpoczęcie dnia</div>
<div class="t" style="left:766.63px;width:40px;text-align:center;top:507.36px;font-size:10px;font-weight:bold;transform:scaleX(0.86);color:#1f5a30">20:53</div>
<div class="t" style="left:800.90px;width:40px;text-align:center;top:507.36px;font-size:9px;font-weight:bold;color:#4a4a4a">-</div>
<div class="t" style="left:835.17px;width:40px;text-align:center;top:507.36px;font-size:10px;font-weight:bold;transform:scaleX(0.86);color:#1f5a30">05:30</div>
<div class="t" style="left:869.44px;width:40px;text-align:center;top:507.36px;font-size:9px;font-weight:bold;color:#1f5a30">-</div>
<div class="t" style="left:903.72px;width:40px;text-align:center;top:507.36px;font-size:10px;font-weight:bold;transform:scaleX(0.86);color:#eef8f1">06:18</div>
<div class="t" style="left:937.99px;width:40px;text-align:center;top:507.36px;font-size:10px;font-weight:bold;transform:scaleX(0.86);color:#303030">07:01</div>
<div class="t" style="left:972.25px;width:40px;text-align:center;top:507.36px;font-size:10px;font-weight:bold;transform:scaleX(0.86);color:#303030">07:01</div>
<div class="t" style="left:1006.53px;width:40px;text-align:center;top:507.36px;font-size:10px;font-weight:bold;transform:scaleX(0.86);color:#303030">07:01</div>
<div class="t" style="left:1040.80px;width:40px;text-align:center;top:507.36px;font-size:10px;font-weight:bold;transform:scaleX(0.86);color:#303030">07:01</div>
<div class="t" style="left:1075.07px;width:40px;text-align:center;top:507.36px;font-size:9px;font-weight:bold;color:#1f5a30">-</div>
<div class="t" style="left:1109.34px;width:40px;text-align:center;top:507.36px;font-size:9px;font-weight:bold;color:#1f5a30">-</div>
<div class="t" style="left:1143.61px;width:40px;text-align:center;top:507.36px;font-size:10px;font-weight:bold;transform:scaleX(0.86);color:#303030">10:42</div>
<div class="t" style="left:1177.88px;width:40px;text-align:center;top:507.36px;font-size:10px;font-weight:bold;transform:scaleX(0.86);color:#303030">10:42</div>
<div class="t" style="left:1212.14px;width:40px;text-align:center;top:507.36px;font-size:10px;font-weight:bold;transform:scaleX(0.86);color:#303030">10:42</div>
<div class="t" style="left:1246.41px;width:40px;text-align:center;top:507.36px;font-size:10px;font-weight:bold;transform:scaleX(0.86);color:#303030">11:12</div>
<div class="t" style="left:1280.69px;width:40px;text-align:center;top:507.36px;font-size:10px;font-weight:bold;transform:scaleX(0.86);color:#303030">11:12</div>
<div class="t" style="left:1314.96px;width:40px;text-align:center;top:507.36px;font-size:10px;font-weight:bold;transform:scaleX(0.86);color:#1f5a30">11:17</div>
<div class="t" style="left:1349.23px;width:40px;text-align:center;top:507.36px;font-size:9px;font-weight:bold;color:#1f5a30">-</div>
<div class="t" style="left:1383.50px;width:40px;text-align:center;top:507.36px;font-size:10px;font-weight:bold;transform:scaleX(0.86);color:#303030">06:49</div>
<div class="t" style="left:1417.77px;width:40px;text-align:center;top:507.36px;font-size:10px;font-weight:bold;transform:scaleX(0.86);color:#303030">07:26</div>
<div class="t" style="left:1452.04px;width:40px;text-align:center;top:507.36px;font-size:10px;font-weight:bold;transform:scaleX(0.86);color:#303030">07:26</div>
<div class="t" style="left:1486.31px;width:40px;text-align:center;top:507.36px;font-size:10px;font-weight:bold;transform:scaleX(0.86);color:#303030">07:26</div>
<div class="t" style="left:1520.58px;width:40px;text-align:center;top:507.36px;font-size:10px;font-weight:bold;transform:scaleX(0.86);color:#303030">08:28</div>
<div class="t" style="left:1554.85px;width:40px;text-align:center;top:507.36px;font-size:10px;font-weight:bold;transform:scaleX(0.86);color:#1f5a30">13:21</div>
<div class="t" style="left:1589.12px;width:40px;text-align:center;top:507.36px;font-size:9px;font-weight:bold;color:#1f5a30">-</div>
<div class="t" style="left:1623.38px;width:40px;text-align:center;top:507.36px;font-size:10px;font-weight:bold;transform:scaleX(0.86);color:#303030">05:50</div>
<div class="t" style="left:1657.65px;width:40px;text-align:center;top:507.36px;font-size:10px;font-weight:bold;transform:scaleX(0.86);color:#303030">06:11</div>
<div class="t" style="left:1691.92px;width:40px;text-align:center;top:507.36px;font-size:10px;font-weight:bold;transform:scaleX(0.86);color:#303030">06:11</div>
<div class="t" style="left:1726.19px;width:40px;text-align:center;top:507.36px;font-size:9px;font-weight:bold;color:#4a4a4a">-</div>
<div class="t" style="left:1760.46px;width:40px;text-align:center;top:507.36px;font-size:10px;font-weight:bold;transform:scaleX(0.86);color:#303030">06:12</div>
<div class="t" style="left:1794.74px;width:40px;text-align:center;top:507.36px;font-size:10px;font-weight:bold;transform:scaleX(0.86);color:#1f5a30">06:12</div>
<div class="t" style="left:599.50px;top:524.23px;font-size:9.6px;color:#3a3a3a">Zakończenie dnia</div>
<div class="t" style="left:766.63px;width:40px;text-align:center;top:524.83px;font-size:10px;font-weight:bold;transform:scaleX(0.86);color:#1f5a30">20:28</div>
<div class="t" style="left:800.90px;width:40px;text-align:center;top:524.83px;font-size:9px;font-weight:bold;color:#4a4a4a">-</div>
<div class="t" style="left:835.17px;width:40px;text-align:center;top:524.83px;font-size:10px;font-weight:bold;transform:scaleX(0.86);color:#1f5a30">15:09</div>
<div class="t" style="left:869.44px;width:40px;text-align:center;top:524.83px;font-size:9px;font-weight:bold;color:#1f5a30">-</div>
<div class="t" style="left:903.72px;width:40px;text-align:center;top:524.83px;font-size:10px;font-weight:bold;transform:scaleX(0.86);color:#eef8f1">20:45</div>
<div class="t" style="left:937.99px;width:40px;text-align:center;top:524.83px;font-size:10px;font-weight:bold;transform:scaleX(0.86);color:#303030">07:01</div>
<div class="t" style="left:972.25px;width:40px;text-align:center;top:524.83px;font-size:10px;font-weight:bold;transform:scaleX(0.86);color:#303030">07:01</div>
<div class="t" style="left:1006.53px;width:40px;text-align:center;top:524.83px;font-size:10px;font-weight:bold;transform:scaleX(0.86);color:#303030">07:01</div>
<div class="t" style="left:1040.80px;width:40px;text-align:center;top:524.83px;font-size:10px;font-weight:bold;transform:scaleX(0.86);color:#303030">21:42</div>
<div class="t" style="left:1075.07px;width:40px;text-align:center;top:524.83px;font-size:9px;font-weight:bold;color:#1f5a30">-</div>
<div class="t" style="left:1109.34px;width:40px;text-align:center;top:524.83px;font-size:9px;font-weight:bold;color:#1f5a30">-</div>
<div class="t" style="left:1143.61px;width:40px;text-align:center;top:524.83px;font-size:10px;font-weight:bold;transform:scaleX(0.86);color:#303030">10:42</div>
<div class="t" style="left:1177.88px;width:40px;text-align:center;top:524.83px;font-size:10px;font-weight:bold;transform:scaleX(0.86);color:#303030">10:42</div>
<div class="t" style="left:1212.14px;width:40px;text-align:center;top:524.83px;font-size:10px;font-weight:bold;transform:scaleX(0.86);color:#303030">10:10</div>
<div class="t" style="left:1246.41px;width:40px;text-align:center;top:524.83px;font-size:10px;font-weight:bold;transform:scaleX(0.86);color:#303030">11:12</div>
<div class="t" style="left:1280.69px;width:40px;text-align:center;top:524.83px;font-size:10px;font-weight:bold;transform:scaleX(0.86);color:#303030">11:12</div>
<div class="t" style="left:1314.96px;width:40px;text-align:center;top:524.83px;font-size:10px;font-weight:bold;transform:scaleX(0.86);color:#1f5a30">15:20</div>
<div class="t" style="left:1349.23px;width:40px;text-align:center;top:524.83px;font-size:9px;font-weight:bold;color:#1f5a30">-</div>
<div class="t" style="left:1383.50px;width:40px;text-align:center;top:524.83px;font-size:10px;font-weight:bold;transform:scaleX(0.86);color:#303030">20:34</div>
<div class="t" style="left:1417.77px;width:40px;text-align:center;top:524.83px;font-size:10px;font-weight:bold;transform:scaleX(0.86);color:#303030">07:26</div>
<div class="t" style="left:1452.04px;width:40px;text-align:center;top:524.83px;font-size:10px;font-weight:bold;transform:scaleX(0.86);color:#303030">07:26</div>
<div class="t" style="left:1486.31px;width:40px;text-align:center;top:524.83px;font-size:10px;font-weight:bold;transform:scaleX(0.86);color:#303030">20:43</div>
<div class="t" style="left:1520.58px;width:40px;text-align:center;top:524.83px;font-size:10px;font-weight:bold;transform:scaleX(0.86);color:#303030">00:24</div>
<div class="t" style="left:1554.85px;width:40px;text-align:center;top:524.83px;font-size:10px;font-weight:bold;transform:scaleX(0.86);color:#1f5a30">19:52</div>
<div class="t" style="left:1589.12px;width:40px;text-align:center;top:524.83px;font-size:9px;font-weight:bold;color:#1f5a30">-</div>
<div class="t" style="left:1623.38px;width:40px;text-align:center;top:524.83px;font-size:10px;font-weight:bold;transform:scaleX(0.86);color:#303030">19:41</div>
<div class="t" style="left:1657.65px;width:40px;text-align:center;top:524.83px;font-size:10px;font-weight:bold;transform:scaleX(0.86);color:#303030">06:11</div>
<div class="t" style="left:1691.92px;width:40px;text-align:center;top:524.83px;font-size:10px;font-weight:bold;transform:scaleX(0.86);color:#303030">22:13</div>
<div class="t" style="left:1726.19px;width:40px;text-align:center;top:524.83px;font-size:9px;font-weight:bold;color:#4a4a4a">-</div>
<div class="t" style="left:1760.46px;width:40px;text-align:center;top:524.83px;font-size:10px;font-weight:bold;transform:scaleX(0.86);color:#303030">06:12</div>
<div class="t" style="left:1794.74px;width:40px;text-align:center;top:524.83px;font-size:10px;font-weight:bold;transform:scaleX(0.86);color:#1f5a30">06:12</div>
<div class="t" style="left:599.50px;top:541.70px;font-size:9.6px;color:#3a3a3a">Czas pracy</div>
<div class="t" style="left:766.63px;width:40px;text-align:center;top:542.30px;font-size:10px;font-weight:bold;transform:scaleX(0.86);color:#1f5a30">9:40</div>
<div class="t" style="left:800.90px;width:40px;text-align:center;top:542.30px;font-size:9px;font-weight:bold;color:#4a4a4a">-</div>
<div class="t" style="left:835.17px;width:40px;text-align:center;top:542.30px;font-size:10px;font-weight:bold;transform:scaleX(0.86);color:#1f5a30">9:06</div>
<div class="t" style="left:869.44px;width:40px;text-align:center;top:542.30px;font-size:9px;font-weight:bold;color:#1f5a30">-</div>
<div class="t" style="left:903.72px;width:40px;text-align:center;top:542.30px;font-size:10px;font-weight:bold;transform:scaleX(0.86);color:#eef8f1">11:19</div>
<div class="t" style="left:937.99px;width:40px;text-align:center;top:542.30px;font-size:10px;font-weight:bold;transform:scaleX(0.86);color:#303030">11:18</div>
<div class="t" style="left:972.25px;width:40px;text-align:center;top:542.30px;font-size:10px;font-weight:bold;transform:scaleX(0.86);color:#303030">10:47</div>
<div class="t" style="left:1006.53px;width:40px;text-align:center;top:542.30px;font-size:10px;font-weight:bold;transform:scaleX(0.86);color:#303030">9:17</div>
<div class="t" style="left:1040.80px;width:40px;text-align:center;top:542.30px;font-size:10px;font-weight:bold;transform:scaleX(0.86);color:#303030">12:17</div>
<div class="t" style="left:1075.07px;width:40px;text-align:center;top:542.30px;font-size:9px;font-weight:bold;color:#1f5a30">-</div>
<div class="t" style="left:1109.34px;width:40px;text-align:center;top:542.30px;font-size:9px;font-weight:bold;color:#1f5a30">-</div>
<div class="t" style="left:1143.61px;width:40px;text-align:center;top:542.30px;font-size:10px;font-weight:bold;transform:scaleX(0.86);color:#303030">7:32</div>
<div class="t" style="left:1177.88px;width:40px;text-align:center;top:542.30px;font-size:10px;font-weight:bold;transform:scaleX(0.86);color:#303030">13:22</div>
<div class="t" style="left:1212.14px;width:40px;text-align:center;top:542.30px;font-size:10px;font-weight:bold;transform:scaleX(0.86);color:#303030">9:12</div>
<div class="t" style="left:1246.41px;width:40px;text-align:center;top:542.30px;font-size:10px;font-weight:bold;transform:scaleX(0.86);color:#303030">8:12</div>
<div class="t" style="left:1280.69px;width:40px;text-align:center;top:542.30px;font-size:10px;font-weight:bold;transform:scaleX(0.86);color:#303030">12:31</div>
<div class="t" style="left:1314.96px;width:40px;text-align:center;top:542.30px;font-size:10px;font-weight:bold;transform:scaleX(0.86);color:#1f5a30">2:22</div>
<div class="t" style="left:1349.23px;width:40px;text-align:center;top:542.30px;font-size:9px;font-weight:bold;color:#1f5a30">-</div>
<div class="t" style="left:1383.50px;width:40px;text-align:center;top:542.30px;font-size:10px;font-weight:bold;transform:scaleX(0.86);color:#303030">12:01</div>
<div class="t" style="left:1417.77px;width:40px;text-align:center;top:542.30px;font-size:10px;font-weight:bold;transform:scaleX(0.86);color:#303030">12:55</div>
<div class="t" style="left:1452.04px;width:40px;text-align:center;top:542.30px;font-size:10px;font-weight:bold;transform:scaleX(0.86);color:#303030">10:52</div>
<div class="t" style="left:1486.31px;width:40px;text-align:center;top:542.30px;font-size:10px;font-weight:bold;transform:scaleX(0.86);color:#303030">11:35</div>
<div class="t" style="left:1520.58px;width:40px;text-align:center;top:542.30px;font-size:10px;font-weight:bold;transform:scaleX(0.86);color:#303030">13:55</div>
<div class="t" style="left:1554.85px;width:40px;text-align:center;top:542.30px;font-size:10px;font-weight:bold;transform:scaleX(0.86);color:#1f5a30">0:14</div>
<div class="t" style="left:1589.12px;width:40px;text-align:center;top:542.30px;font-size:9px;font-weight:bold;color:#1f5a30">-</div>
<div class="t" style="left:1623.38px;width:40px;text-align:center;top:542.30px;font-size:10px;font-weight:bold;transform:scaleX(0.86);color:#303030">9:53</div>
<div class="t" style="left:1657.65px;width:40px;text-align:center;top:542.30px;font-size:10px;font-weight:bold;transform:scaleX(0.86);color:#303030">10:53</div>
<div class="t" style="left:1691.92px;width:40px;text-align:center;top:542.30px;font-size:10px;font-weight:bold;transform:scaleX(0.86);color:#303030">11:00</div>
<div class="t" style="left:1726.19px;width:40px;text-align:center;top:542.30px;font-size:9px;font-weight:bold;color:#4a4a4a">-</div>
<div class="t" style="left:1760.46px;width:40px;text-align:center;top:542.30px;font-size:10px;font-weight:bold;transform:scaleX(0.86);color:#303030">12:54</div>
<div class="t" style="left:1794.74px;width:40px;text-align:center;top:542.30px;font-size:10px;font-weight:bold;transform:scaleX(0.86);color:#1f5a30">8:32</div>
<div class="t" style="left:1892.20px;width:60px;text-align:center;top:541.85px;font-size:10.5px;font-weight:bold;color:#2a2a2a">241:42</div>
<div class="t" style="left:599.50px;top:559.17px;font-size:9.6px;color:#3a3a3a">Jazda</div>
<div class="t" style="left:766.63px;width:40px;text-align:center;top:559.77px;font-size:10px;font-weight:bold;transform:scaleX(0.86);color:#1f5a30">8:57</div>
<div class="t" style="left:800.90px;width:40px;text-align:center;top:559.77px;font-size:9px;font-weight:bold;color:#4a4a4a">-</div>
<div class="t" style="left:835.17px;width:40px;text-align:center;top:559.77px;font-size:10px;font-weight:bold;transform:scaleX(0.86);color:#1f5a30">8:39</div>
<div class="t" style="left:869.44px;width:40px;text-align:center;top:559.77px;font-size:9px;font-weight:bold;color:#1f5a30">-</div>
<div class="t" style="left:903.72px;width:40px;text-align:center;top:559.77px;font-size:10px;font-weight:bold;transform:scaleX(0.86);color:#eef8f1">10:15</div>
<div class="t" style="left:937.99px;width:40px;text-align:center;top:559.77px;font-size:10px;font-weight:bold;transform:scaleX(0.86);color:#303030">10:14</div>
<div class="t" style="left:972.25px;width:40px;text-align:center;top:559.77px;font-size:10px;font-weight:bold;transform:scaleX(0.86);color:#303030">9:25</div>
<div class="t" style="left:1006.53px;width:40px;text-align:center;top:559.77px;font-size:10px;font-weight:bold;transform:scaleX(0.86);color:#303030">8:07</div>
<div class="t" style="left:1040.80px;width:40px;text-align:center;top:559.77px;font-size:10px;font-weight:bold;transform:scaleX(0.86);color:#303030">11:23</div>
<div class="t" style="left:1075.07px;width:40px;text-align:center;top:559.77px;font-size:9px;font-weight:bold;color:#1f5a30">-</div>
<div class="t" style="left:1109.34px;width:40px;text-align:center;top:559.77px;font-size:9px;font-weight:bold;color:#1f5a30">-</div>
<div class="t" style="left:1143.61px;width:40px;text-align:center;top:559.77px;font-size:10px;font-weight:bold;transform:scaleX(0.86);color:#303030">6:34</div>
<div class="t" style="left:1177.88px;width:40px;text-align:center;top:559.77px;font-size:10px;font-weight:bold;transform:scaleX(0.86);color:#303030">12:48</div>
<div class="t" style="left:1212.14px;width:40px;text-align:center;top:559.77px;font-size:10px;font-weight:bold;transform:scaleX(0.86);color:#303030">7:49</div>
<div class="t" style="left:1246.41px;width:40px;text-align:center;top:559.77px;font-size:10px;font-weight:bold;transform:scaleX(0.86);color:#303030">7:06</div>
<div class="t" style="left:1280.69px;width:40px;text-align:center;top:559.77px;font-size:10px;font-weight:bold;transform:scaleX(0.86);color:#303030">11:36</div>
<div class="t" style="left:1314.96px;width:40px;text-align:center;top:559.77px;font-size:10px;font-weight:bold;transform:scaleX(0.86);color:#1f5a30">1:53</div>
<div class="t" style="left:1349.23px;width:40px;text-align:center;top:559.77px;font-size:9px;font-weight:bold;color:#1f5a30">-</div>
<div class="t" style="left:1383.50px;width:40px;text-align:center;top:559.77px;font-size:10px;font-weight:bold;transform:scaleX(0.86);color:#303030">10:02</div>
<div class="t" style="left:1417.77px;width:40px;text-align:center;top:559.77px;font-size:10px;font-weight:bold;transform:scaleX(0.86);color:#303030">11:16</div>
<div class="t" style="left:1452.04px;width:40px;text-align:center;top:559.77px;font-size:10px;font-weight:bold;transform:scaleX(0.86);color:#303030">8:57</div>
<div class="t" style="left:1486.31px;width:40px;text-align:center;top:559.77px;font-size:10px;font-weight:bold;transform:scaleX(0.86);color:#303030">9:45</div>
<div class="t" style="left:1520.58px;width:40px;text-align:center;top:559.77px;font-size:10px;font-weight:bold;transform:scaleX(0.86);color:#303030">12:26</div>
<div class="t" style="left:1554.85px;width:40px;text-align:center;top:559.77px;font-size:10px;font-weight:bold;transform:scaleX(0.86);color:#1f5a30">0:07</div>
<div class="t" style="left:1589.12px;width:40px;text-align:center;top:559.77px;font-size:9px;font-weight:bold;color:#1f5a30">-</div>
<div class="t" style="left:1623.38px;width:40px;text-align:center;top:559.77px;font-size:10px;font-weight:bold;transform:scaleX(0.86);color:#303030">8:37</div>
<div class="t" style="left:1657.65px;width:40px;text-align:center;top:559.77px;font-size:10px;font-weight:bold;transform:scaleX(0.86);color:#303030">9:13</div>
<div class="t" style="left:1691.92px;width:40px;text-align:center;top:559.77px;font-size:10px;font-weight:bold;transform:scaleX(0.86);color:#303030">9:43</div>
<div class="t" style="left:1726.19px;width:40px;text-align:center;top:559.77px;font-size:9px;font-weight:bold;color:#4a4a4a">-</div>
<div class="t" style="left:1760.46px;width:40px;text-align:center;top:559.77px;font-size:10px;font-weight:bold;transform:scaleX(0.86);color:#303030">10:01</div>
<div class="t" style="left:1794.74px;width:40px;text-align:center;top:559.77px;font-size:10px;font-weight:bold;transform:scaleX(0.86);color:#1f5a30">7:49</div>
<div class="t" style="left:1892.20px;width:60px;text-align:center;top:559.32px;font-size:10.5px;font-weight:bold;color:#2a2a2a">212:33</div>
<div class="t" style="left:599.50px;top:576.64px;font-size:9.6px;color:#3a3a3a">Praca</div>
<div class="t" style="left:766.63px;width:40px;text-align:center;top:577.24px;font-size:10px;font-weight:bold;transform:scaleX(0.86);color:#1f5a30">0:28</div>
<div class="t" style="left:800.90px;width:40px;text-align:center;top:577.24px;font-size:9px;font-weight:bold;color:#4a4a4a">-</div>
<div class="t" style="left:835.17px;width:40px;text-align:center;top:577.24px;font-size:10px;font-weight:bold;transform:scaleX(0.86);color:#1f5a30">0:12</div>
<div class="t" style="left:869.44px;width:40px;text-align:center;top:577.24px;font-size:9px;font-weight:bold;color:#1f5a30">-</div>
<div class="t" style="left:903.72px;width:40px;text-align:center;top:577.24px;font-size:10px;font-weight:bold;transform:scaleX(0.86);color:#eef8f1">0:49</div>
<div class="t" style="left:937.99px;width:40px;text-align:center;top:577.24px;font-size:10px;font-weight:bold;transform:scaleX(0.86);color:#303030">0:49</div>
<div class="t" style="left:972.25px;width:40px;text-align:center;top:577.24px;font-size:10px;font-weight:bold;transform:scaleX(0.86);color:#303030">1:07</div>
<div class="t" style="left:1006.53px;width:40px;text-align:center;top:577.24px;font-size:10px;font-weight:bold;transform:scaleX(0.86);color:#303030">0:55</div>
<div class="t" style="left:1040.80px;width:40px;text-align:center;top:577.24px;font-size:10px;font-weight:bold;transform:scaleX(0.86);color:#303030">0:39</div>
<div class="t" style="left:1075.07px;width:40px;text-align:center;top:577.24px;font-size:9px;font-weight:bold;color:#1f5a30">-</div>
<div class="t" style="left:1109.34px;width:40px;text-align:center;top:577.24px;font-size:9px;font-weight:bold;color:#1f5a30">-</div>
<div class="t" style="left:1143.61px;width:40px;text-align:center;top:577.24px;font-size:10px;font-weight:bold;transform:scaleX(0.86);color:#303030">0:43</div>
<div class="t" style="left:1177.88px;width:40px;text-align:center;top:577.24px;font-size:10px;font-weight:bold;transform:scaleX(0.86);color:#303030">0:19</div>
<div class="t" style="left:1212.14px;width:40px;text-align:center;top:577.24px;font-size:10px;font-weight:bold;transform:scaleX(0.86);color:#303030">1:08</div>
<div class="t" style="left:1246.41px;width:40px;text-align:center;top:577.24px;font-size:10px;font-weight:bold;transform:scaleX(0.86);color:#303030">0:51</div>
<div class="t" style="left:1280.69px;width:40px;text-align:center;top:577.24px;font-size:10px;font-weight:bold;transform:scaleX(0.86);color:#303030">0:40</div>
<div class="t" style="left:1314.96px;width:40px;text-align:center;top:577.24px;font-size:10px;font-weight:bold;transform:scaleX(0.86);color:#1f5a30">0:29</div>
<div class="t" style="left:1349.23px;width:40px;text-align:center;top:577.24px;font-size:9px;font-weight:bold;color:#1f5a30">-</div>
<div class="t" style="left:1383.50px;width:40px;text-align:center;top:577.24px;font-size:10px;font-weight:bold;transform:scaleX(0.86);color:#303030">1:44</div>
<div class="t" style="left:1417.77px;width:40px;text-align:center;top:577.24px;font-size:10px;font-weight:bold;transform:scaleX(0.86);color:#303030">1:24</div>
<div class="t" style="left:1452.04px;width:40px;text-align:center;top:577.24px;font-size:10px;font-weight:bold;transform:scaleX(0.86);color:#303030">1:40</div>
<div class="t" style="left:1486.31px;width:40px;text-align:center;top:577.24px;font-size:10px;font-weight:bold;transform:scaleX(0.86);color:#303030">1:35</div>
<div class="t" style="left:1520.58px;width:40px;text-align:center;top:577.24px;font-size:10px;font-weight:bold;transform:scaleX(0.86);color:#303030">1:14</div>
<div class="t" style="left:1554.85px;width:40px;text-align:center;top:577.24px;font-size:10px;font-weight:bold;transform:scaleX(0.86);color:#1f5a30">0:07</div>
<div class="t" style="left:1589.12px;width:40px;text-align:center;top:577.24px;font-size:9px;font-weight:bold;color:#1f5a30">-</div>
<div class="t" style="left:1623.38px;width:40px;text-align:center;top:577.24px;font-size:10px;font-weight:bold;transform:scaleX(0.86);color:#303030">1:01</div>
<div class="t" style="left:1657.65px;width:40px;text-align:center;top:577.24px;font-size:10px;font-weight:bold;transform:scaleX(0.86);color:#303030">1:25</div>
<div class="t" style="left:1691.92px;width:40px;text-align:center;top:577.24px;font-size:10px;font-weight:bold;transform:scaleX(0.86);color:#303030">1:02</div>
<div class="t" style="left:1726.19px;width:40px;text-align:center;top:577.24px;font-size:9px;font-weight:bold;color:#4a4a4a">-</div>
<div class="t" style="left:1760.46px;width:40px;text-align:center;top:577.24px;font-size:10px;font-weight:bold;transform:scaleX(0.86);color:#303030">2:38</div>
<div class="t" style="left:1794.74px;width:40px;text-align:center;top:577.24px;font-size:10px;font-weight:bold;transform:scaleX(0.86);color:#1f5a30">0:28</div>
<div class="t" style="left:1892.20px;width:60px;text-align:center;top:576.79px;font-size:10.5px;font-weight:bold;color:#2a2a2a">23:49</div>
<div class="t" style="left:599.50px;top:594.11px;font-size:9.6px;color:#3a3a3a">Przestoje</div>
<div class="t" style="left:766.63px;width:40px;text-align:center;top:594.71px;font-size:9px;font-weight:bold;color:#1f5a30">-</div>
<div class="t" style="left:800.90px;width:40px;text-align:center;top:594.71px;font-size:10px;font-weight:bold;transform:scaleX(0.86);color:#303030">8:00</div>
<div class="t" style="left:835.17px;width:40px;text-align:center;top:594.71px;font-size:9px;font-weight:bold;color:#1f5a30">-</div>
<div class="t" style="left:869.44px;width:40px;text-align:center;top:594.71px;font-size:9px;font-weight:bold;color:#1f5a30">-</div>
<div class="t" style="left:903.72px;width:40px;text-align:center;top:594.71px;font-size:9px;font-weight:bold;color:#eef8f1">-</div>
<div class="t" style="left:937.99px;width:40px;text-align:center;top:594.71px;font-size:9px;font-weight:bold;color:#4a4a4a">-</div>
<div class="t" style="left:972.25px;width:40px;text-align:center;top:594.71px;font-size:9px;font-weight:bold;color:#4a4a4a">-</div>
<div class="t" style="left:1006.53px;width:40px;text-align:center;top:594.71px;font-size:9px;font-weight:bold;color:#4a4a4a">-</div>
<div class="t" style="left:1040.80px;width:40px;text-align:center;top:594.71px;font-size:9px;font-weight:bold;color:#4a4a4a">-</div>
<div class="t" style="left:1075.07px;width:40px;text-align:center;top:594.71px;font-size:9px;font-weight:bold;color:#1f5a30">-</div>
<div class="t" style="left:1109.34px;width:40px;text-align:center;top:594.71px;font-size:9px;font-weight:bold;color:#1f5a30">-</div>
<div class="t" style="left:1143.61px;width:40px;text-align:center;top:594.71px;font-size:9px;font-weight:bold;color:#4a4a4a">-</div>
<div class="t" style="left:1177.88px;width:40px;text-align:center;top:594.71px;font-size:9px;font-weight:bold;color:#4a4a4a">-</div>
<div class="t" style="left:1212.14px;width:40px;text-align:center;top:594.71px;font-size:9px;font-weight:bold;color:#4a4a4a">-</div>
<div class="t" style="left:1246.41px;width:40px;text-align:center;top:594.71px;font-size:9px;font-weight:bold;color:#4a4a4a">-</div>
<div class="t" style="left:1280.69px;width:40px;text-align:center;top:594.71px;font-size:9px;font-weight:bold;color:#4a4a4a">-</div>
<div class="t" style="left:1314.96px;width:40px;text-align:center;top:594.71px;font-size:9px;font-weight:bold;color:#1f5a30">-</div>
<div class="t" style="left:1349.23px;width:40px;text-align:center;top:594.71px;font-size:9px;font-weight:bold;color:#1f5a30">-</div>
<div class="t" style="left:1383.50px;width:40px;text-align:center;top:594.71px;font-size:9px;font-weight:bold;color:#4a4a4a">-</div>
<div class="t" style="left:1417.77px;width:40px;text-align:center;top:594.71px;font-size:9px;font-weight:bold;color:#4a4a4a">-</div>
<div class="t" style="left:1452.04px;width:40px;text-align:center;top:594.71px;font-size:9px;font-weight:bold;color:#4a4a4a">-</div>
<div class="t" style="left:1486.31px;width:40px;text-align:center;top:594.71px;font-size:9px;font-weight:bold;color:#4a4a4a">-</div>
<div class="t" style="left:1520.58px;width:40px;text-align:center;top:594.71px;font-size:9px;font-weight:bold;color:#4a4a4a">-</div>
<div class="t" style="left:1554.85px;width:40px;text-align:center;top:594.71px;font-size:9px;font-weight:bold;color:#1f5a30">-</div>
<div class="t" style="left:1589.12px;width:40px;text-align:center;top:594.71px;font-size:9px;font-weight:bold;color:#1f5a30">-</div>
<div class="t" style="left:1623.38px;width:40px;text-align:center;top:594.71px;font-size:9px;font-weight:bold;color:#4a4a4a">-</div>
<div class="t" style="left:1657.65px;width:40px;text-align:center;top:594.71px;font-size:9px;font-weight:bold;color:#4a4a4a">-</div>
<div class="t" style="left:1691.92px;width:40px;text-align:center;top:594.71px;font-size:9px;font-weight:bold;color:#4a4a4a">-</div>
<div class="t" style="left:1726.19px;width:40px;text-align:center;top:594.71px;font-size:10px;font-weight:bold;transform:scaleX(0.86);color:#303030">8:00</div>
<div class="t" style="left:1760.46px;width:40px;text-align:center;top:594.71px;font-size:9px;font-weight:bold;color:#4a4a4a">-</div>
<div class="t" style="left:1794.74px;width:40px;text-align:center;top:594.71px;font-size:9px;font-weight:bold;color:#1f5a30">-</div>
<div class="t" style="left:1892.20px;width:60px;text-align:center;top:594.26px;font-size:10.5px;font-weight:bold;color:#2a2a2a">16:00</div>
<div class="t" style="left:599.50px;top:611.58px;font-size:9.6px;color:#3a3a3a">Czas płatny</div>
<div class="t" style="left:766.63px;width:40px;text-align:center;top:612.18px;font-size:10px;font-weight:bold;transform:scaleX(0.86);color:#1f5a30">9:40</div>
<div class="t" style="left:800.90px;width:40px;text-align:center;top:612.18px;font-size:10px;font-weight:bold;transform:scaleX(0.86);color:#303030">8:00</div>
<div class="t" style="left:835.17px;width:40px;text-align:center;top:612.18px;font-size:10px;font-weight:bold;transform:scaleX(0.86);color:#1f5a30">9:06</div>
<div class="t" style="left:869.44px;width:40px;text-align:center;top:612.18px;font-size:9px;font-weight:bold;color:#1f5a30">-</div>
<div class="t" style="left:903.72px;width:40px;text-align:center;top:612.18px;font-size:10px;font-weight:bold;transform:scaleX(0.86);color:#eef8f1">11:19</div>
<div class="t" style="left:937.99px;width:40px;text-align:center;top:612.18px;font-size:10px;font-weight:bold;transform:scaleX(0.86);color:#303030">11:18</div>
<div class="t" style="left:972.25px;width:40px;text-align:center;top:612.18px;font-size:10px;font-weight:bold;transform:scaleX(0.86);color:#303030">10:47</div>
<div class="t" style="left:1006.53px;width:40px;text-align:center;top:612.18px;font-size:10px;font-weight:bold;transform:scaleX(0.86);color:#303030">9:17</div>
<div class="t" style="left:1040.80px;width:40px;text-align:center;top:612.18px;font-size:10px;font-weight:bold;transform:scaleX(0.86);color:#303030">12:17</div>
<div class="t" style="left:1075.07px;width:40px;text-align:center;top:612.18px;font-size:9px;font-weight:bold;color:#1f5a30">-</div>
<div class="t" style="left:1109.34px;width:40px;text-align:center;top:612.18px;font-size:9px;font-weight:bold;color:#1f5a30">-</div>
<div class="t" style="left:1143.61px;width:40px;text-align:center;top:612.18px;font-size:10px;font-weight:bold;transform:scaleX(0.86);color:#303030">7:32</div>
<div class="t" style="left:1177.88px;width:40px;text-align:center;top:612.18px;font-size:10px;font-weight:bold;transform:scaleX(0.86);color:#303030">13:22</div>
<div class="t" style="left:1212.14px;width:40px;text-align:center;top:612.18px;font-size:10px;font-weight:bold;transform:scaleX(0.86);color:#303030">9:12</div>
<div class="t" style="left:1246.41px;width:40px;text-align:center;top:612.18px;font-size:10px;font-weight:bold;transform:scaleX(0.86);color:#303030">8:12</div>
<div class="t" style="left:1280.69px;width:40px;text-align:center;top:612.18px;font-size:10px;font-weight:bold;transform:scaleX(0.86);color:#303030">12:31</div>
<div class="t" style="left:1314.96px;width:40px;text-align:center;top:612.18px;font-size:10px;font-weight:bold;transform:scaleX(0.86);color:#1f5a30">2:22</div>
<div class="t" style="left:1349.23px;width:40px;text-align:center;top:612.18px;font-size:9px;font-weight:bold;color:#1f5a30">-</div>
<div class="t" style="left:1383.50px;width:40px;text-align:center;top:612.18px;font-size:10px;font-weight:bold;transform:scaleX(0.86);color:#303030">12:01</div>
<div class="t" style="left:1417.77px;width:40px;text-align:center;top:612.18px;font-size:10px;font-weight:bold;transform:scaleX(0.86);color:#303030">12:55</div>
<div class="t" style="left:1452.04px;width:40px;text-align:center;top:612.18px;font-size:10px;font-weight:bold;transform:scaleX(0.86);color:#303030">10:52</div>
<div class="t" style="left:1486.31px;width:40px;text-align:center;top:612.18px;font-size:10px;font-weight:bold;transform:scaleX(0.86);color:#303030">11:35</div>
<div class="t" style="left:1520.58px;width:40px;text-align:center;top:612.18px;font-size:10px;font-weight:bold;transform:scaleX(0.86);color:#303030">13:55</div>
<div class="t" style="left:1554.85px;width:40px;text-align:center;top:612.18px;font-size:10px;font-weight:bold;transform:scaleX(0.86);color:#1f5a30">0:14</div>
<div class="t" style="left:1589.12px;width:40px;text-align:center;top:612.18px;font-size:9px;font-weight:bold;color:#1f5a30">-</div>
<div class="t" style="left:1623.38px;width:40px;text-align:center;top:612.18px;font-size:10px;font-weight:bold;transform:scaleX(0.86);color:#303030">9:53</div>
<div class="t" style="left:1657.65px;width:40px;text-align:center;top:612.18px;font-size:10px;font-weight:bold;transform:scaleX(0.86);color:#303030">10:53</div>
<div class="t" style="left:1691.92px;width:40px;text-align:center;top:612.18px;font-size:10px;font-weight:bold;transform:scaleX(0.86);color:#303030">11:00</div>
<div class="t" style="left:1726.19px;width:40px;text-align:center;top:612.18px;font-size:10px;font-weight:bold;transform:scaleX(0.86);color:#303030">8:00</div>
<div class="t" style="left:1760.46px;width:40px;text-align:center;top:612.18px;font-size:10px;font-weight:bold;transform:scaleX(0.86);color:#303030">12:54</div>
<div class="t" style="left:1794.74px;width:40px;text-align:center;top:612.18px;font-size:10px;font-weight:bold;transform:scaleX(0.86);color:#1f5a30">8:32</div>
<div class="t" style="left:1892.20px;width:60px;text-align:center;top:611.73px;font-size:10.5px;font-weight:bold;color:#2a2a2a">257:42</div>
<div class="t" style="left:599.50px;top:629.05px;font-size:9.6px;color:#3a3a3a">Przerwa 15 min do CP</div>
<div class="t" style="left:766.63px;width:40px;text-align:center;top:629.65px;font-size:10px;font-weight:bold;transform:scaleX(0.86);color:#1f5a30">0:15</div>
<div class="t" style="left:800.90px;width:40px;text-align:center;top:629.65px;font-size:9px;font-weight:bold;color:#4a4a4a">-</div>
<div class="t" style="left:835.17px;width:40px;text-align:center;top:629.65px;font-size:10px;font-weight:bold;transform:scaleX(0.86);color:#1f5a30">0:15</div>
<div class="t" style="left:869.44px;width:40px;text-align:center;top:629.65px;font-size:9px;font-weight:bold;color:#1f5a30">-</div>
<div class="t" style="left:903.72px;width:40px;text-align:center;top:629.65px;font-size:10px;font-weight:bold;transform:scaleX(0.86);color:#eef8f1">0:15</div>
<div class="t" style="left:937.99px;width:40px;text-align:center;top:629.65px;font-size:10px;font-weight:bold;transform:scaleX(0.86);color:#303030">0:15</div>
<div class="t" style="left:972.25px;width:40px;text-align:center;top:629.65px;font-size:10px;font-weight:bold;transform:scaleX(0.86);color:#303030">0:15</div>
<div class="t" style="left:1006.53px;width:40px;text-align:center;top:629.65px;font-size:10px;font-weight:bold;transform:scaleX(0.86);color:#303030">0:15</div>
<div class="t" style="left:1040.80px;width:40px;text-align:center;top:629.65px;font-size:10px;font-weight:bold;transform:scaleX(0.86);color:#303030">0:15</div>
<div class="t" style="left:1075.07px;width:40px;text-align:center;top:629.65px;font-size:9px;font-weight:bold;color:#1f5a30">-</div>
<div class="t" style="left:1109.34px;width:40px;text-align:center;top:629.65px;font-size:9px;font-weight:bold;color:#1f5a30">-</div>
<div class="t" style="left:1143.61px;width:40px;text-align:center;top:629.65px;font-size:10px;font-weight:bold;transform:scaleX(0.86);color:#303030">0:15</div>
<div class="t" style="left:1177.88px;width:40px;text-align:center;top:629.65px;font-size:10px;font-weight:bold;transform:scaleX(0.86);color:#303030">0:15</div>
<div class="t" style="left:1212.14px;width:40px;text-align:center;top:629.65px;font-size:10px;font-weight:bold;transform:scaleX(0.86);color:#303030">0:15</div>
<div class="t" style="left:1246.41px;width:40px;text-align:center;top:629.65px;font-size:10px;font-weight:bold;transform:scaleX(0.86);color:#303030">0:15</div>
<div class="t" style="left:1280.69px;width:40px;text-align:center;top:629.65px;font-size:10px;font-weight:bold;transform:scaleX(0.86);color:#303030">0:15</div>
<div class="t" style="left:1314.96px;width:40px;text-align:center;top:629.65px;font-size:9px;font-weight:bold;color:#1f5a30">-</div>
<div class="t" style="left:1349.23px;width:40px;text-align:center;top:629.65px;font-size:9px;font-weight:bold;color:#1f5a30">-</div>
<div class="t" style="left:1383.50px;width:40px;text-align:center;top:629.65px;font-size:10px;font-weight:bold;transform:scaleX(0.86);color:#303030">0:15</div>
<div class="t" style="left:1417.77px;width:40px;text-align:center;top:629.65px;font-size:10px;font-weight:bold;transform:scaleX(0.86);color:#303030">0:15</div>
<div class="t" style="left:1452.04px;width:40px;text-align:center;top:629.65px;font-size:10px;font-weight:bold;transform:scaleX(0.86);color:#303030">0:15</div>
<div class="t" style="left:1486.31px;width:40px;text-align:center;top:629.65px;font-size:10px;font-weight:bold;transform:scaleX(0.86);color:#303030">0:15</div>
<div class="t" style="left:1520.58px;width:40px;text-align:center;top:629.65px;font-size:10px;font-weight:bold;transform:scaleX(0.86);color:#303030">0:15</div>
<div class="t" style="left:1554.85px;width:40px;text-align:center;top:629.65px;font-size:9px;font-weight:bold;color:#1f5a30">-</div>
<div class="t" style="left:1589.12px;width:40px;text-align:center;top:629.65px;font-size:9px;font-weight:bold;color:#1f5a30">-</div>
<div class="t" style="left:1623.38px;width:40px;text-align:center;top:629.65px;font-size:10px;font-weight:bold;transform:scaleX(0.86);color:#303030">0:15</div>
<div class="t" style="left:1657.65px;width:40px;text-align:center;top:629.65px;font-size:10px;font-weight:bold;transform:scaleX(0.86);color:#303030">0:15</div>
<div class="t" style="left:1691.92px;width:40px;text-align:center;top:629.65px;font-size:10px;font-weight:bold;transform:scaleX(0.86);color:#303030">0:15</div>
<div class="t" style="left:1726.19px;width:40px;text-align:center;top:629.65px;font-size:9px;font-weight:bold;color:#4a4a4a">-</div>
<div class="t" style="left:1760.46px;width:40px;text-align:center;top:629.65px;font-size:10px;font-weight:bold;transform:scaleX(0.86);color:#303030">0:15</div>
<div class="t" style="left:1794.74px;width:40px;text-align:center;top:629.65px;font-size:10px;font-weight:bold;transform:scaleX(0.86);color:#1f5a30">0:15</div>
<div class="t" style="left:1892.20px;width:60px;text-align:center;top:629.20px;font-size:10.5px;font-weight:bold;color:#2a2a2a">5:15</div>
<div class="t" style="left:599.50px;top:646.52px;font-size:9.6px;color:#3a3a3a">Dyżur zaliczany do CP</div>
<div class="t" style="left:766.63px;width:40px;text-align:center;top:647.12px;font-size:9px;font-weight:bold;color:#1f5a30">-</div>
<div class="t" style="left:800.90px;width:40px;text-align:center;top:647.12px;font-size:9px;font-weight:bold;color:#4a4a4a">-</div>
<div class="t" style="left:835.17px;width:40px;text-align:center;top:647.12px;font-size:9px;font-weight:bold;color:#1f5a30">-</div>
<div class="t" style="left:869.44px;width:40px;text-align:center;top:647.12px;font-size:9px;font-weight:bold;color:#1f5a30">-</div>
<div class="t" style="left:903.72px;width:40px;text-align:center;top:647.12px;font-size:9px;font-weight:bold;color:#eef8f1">-</div>
<div class="t" style="left:937.99px;width:40px;text-align:center;top:647.12px;font-size:9px;font-weight:bold;color:#4a4a4a">-</div>
<div class="t" style="left:972.25px;width:40px;text-align:center;top:647.12px;font-size:9px;font-weight:bold;color:#4a4a4a">-</div>
<div class="t" style="left:1006.53px;width:40px;text-align:center;top:647.12px;font-size:9px;font-weight:bold;color:#4a4a4a">-</div>
<div class="t" style="left:1040.80px;width:40px;text-align:center;top:647.12px;font-size:9px;font-weight:bold;color:#4a4a4a">-</div>
<div class="t" style="left:1075.07px;width:40px;text-align:center;top:647.12px;font-size:9px;font-weight:bold;color:#1f5a30">-</div>
<div class="t" style="left:1109.34px;width:40px;text-align:center;top:647.12px;font-size:9px;font-weight:bold;color:#1f5a30">-</div>
<div class="t" style="left:1143.61px;width:40px;text-align:center;top:647.12px;font-size:9px;font-weight:bold;color:#4a4a4a">-</div>
<div class="t" style="left:1177.88px;width:40px;text-align:center;top:647.12px;font-size:9px;font-weight:bold;color:#4a4a4a">-</div>
<div class="t" style="left:1212.14px;width:40px;text-align:center;top:647.12px;font-size:9px;font-weight:bold;color:#4a4a4a">-</div>
<div class="t" style="left:1246.41px;width:40px;text-align:center;top:647.12px;font-size:9px;font-weight:bold;color:#4a4a4a">-</div>
<div class="t" style="left:1280.69px;width:40px;text-align:center;top:647.12px;font-size:9px;font-weight:bold;color:#4a4a4a">-</div>
<div class="t" style="left:1314.96px;width:40px;text-align:center;top:647.12px;font-size:9px;font-weight:bold;color:#1f5a30">-</div>
<div class="t" style="left:1349.23px;width:40px;text-align:center;top:647.12px;font-size:9px;font-weight:bold;color:#1f5a30">-</div>
<div class="t" style="left:1383.50px;width:40px;text-align:center;top:647.12px;font-size:9px;font-weight:bold;color:#4a4a4a">-</div>
<div class="t" style="left:1417.77px;width:40px;text-align:center;top:647.12px;font-size:9px;font-weight:bold;color:#4a4a4a">-</div>
<div class="t" style="left:1452.04px;width:40px;text-align:center;top:647.12px;font-size:9px;font-weight:bold;color:#4a4a4a">-</div>
<div class="t" style="left:1486.31px;width:40px;text-align:center;top:647.12px;font-size:9px;font-weight:bold;color:#4a4a4a">-</div>
<div class="t" style="left:1520.58px;width:40px;text-align:center;top:647.12px;font-size:9px;font-weight:bold;color:#4a4a4a">-</div>
<div class="t" style="left:1554.85px;width:40px;text-align:center;top:647.12px;font-size:9px;font-weight:bold;color:#1f5a30">-</div>
<div class="t" style="left:1589.12px;width:40px;text-align:center;top:647.12px;font-size:9px;font-weight:bold;color:#1f5a30">-</div>
<div class="t" style="left:1623.38px;width:40px;text-align:center;top:647.12px;font-size:9px;font-weight:bold;color:#4a4a4a">-</div>
<div class="t" style="left:1657.65px;width:40px;text-align:center;top:647.12px;font-size:9px;font-weight:bold;color:#4a4a4a">-</div>
<div class="t" style="left:1691.92px;width:40px;text-align:center;top:647.12px;font-size:9px;font-weight:bold;color:#4a4a4a">-</div>
<div class="t" style="left:1726.19px;width:40px;text-align:center;top:647.12px;font-size:9px;font-weight:bold;color:#4a4a4a">-</div>
<div class="t" style="left:1760.46px;width:40px;text-align:center;top:647.12px;font-size:9px;font-weight:bold;color:#4a4a4a">-</div>
<div class="t" style="left:1794.74px;width:40px;text-align:center;top:647.12px;font-size:9px;font-weight:bold;color:#1f5a30">-</div>
<div class="t" style="left:599.50px;top:663.99px;font-size:9.6px;color:#3a3a3a">Dyżur 50%</div>
<div class="t" style="left:766.63px;width:40px;text-align:center;top:664.59px;font-size:10px;font-weight:bold;transform:scaleX(0.86);color:#1f5a30">3:16</div>
<div class="t" style="left:800.90px;width:40px;text-align:center;top:664.59px;font-size:9px;font-weight:bold;color:#4a4a4a">-</div>
<div class="t" style="left:835.17px;width:40px;text-align:center;top:664.59px;font-size:10px;font-weight:bold;transform:scaleX(0.86);color:#1f5a30">0:33</div>
<div class="t" style="left:869.44px;width:40px;text-align:center;top:664.59px;font-size:9px;font-weight:bold;color:#1f5a30">-</div>
<div class="t" style="left:903.72px;width:40px;text-align:center;top:664.59px;font-size:10px;font-weight:bold;transform:scaleX(0.86);color:#eef8f1">2:08</div>
<div class="t" style="left:937.99px;width:40px;text-align:center;top:664.59px;font-size:10px;font-weight:bold;transform:scaleX(0.86);color:#303030">3:23</div>
<div class="t" style="left:972.25px;width:40px;text-align:center;top:664.59px;font-size:10px;font-weight:bold;transform:scaleX(0.86);color:#303030">2:58</div>
<div class="t" style="left:1006.53px;width:40px;text-align:center;top:664.59px;font-size:10px;font-weight:bold;transform:scaleX(0.86);color:#303030">3:27</div>
<div class="t" style="left:1040.80px;width:40px;text-align:center;top:664.59px;font-size:10px;font-weight:bold;transform:scaleX(0.86);color:#303030">2:24</div>
<div class="t" style="left:1075.07px;width:40px;text-align:center;top:664.59px;font-size:9px;font-weight:bold;color:#1f5a30">-</div>
<div class="t" style="left:1109.34px;width:40px;text-align:center;top:664.59px;font-size:9px;font-weight:bold;color:#1f5a30">-</div>
<div class="t" style="left:1143.61px;width:40px;text-align:center;top:664.59px;font-size:10px;font-weight:bold;transform:scaleX(0.86);color:#303030">7:26</div>
<div class="t" style="left:1177.88px;width:40px;text-align:center;top:664.59px;font-size:10px;font-weight:bold;transform:scaleX(0.86);color:#303030">1:22</div>
<div class="t" style="left:1212.14px;width:40px;text-align:center;top:664.59px;font-size:10px;font-weight:bold;transform:scaleX(0.86);color:#303030">1:53</div>
<div class="t" style="left:1246.41px;width:40px;text-align:center;top:664.59px;font-size:10px;font-weight:bold;transform:scaleX(0.86);color:#303030">1:34</div>
<div class="t" style="left:1280.69px;width:40px;text-align:center;top:664.59px;font-size:10px;font-weight:bold;transform:scaleX(0.86);color:#303030">2:08</div>
<div class="t" style="left:1314.96px;width:40px;text-align:center;top:664.59px;font-size:10px;font-weight:bold;transform:scaleX(0.86);color:#1f5a30">1:41</div>
<div class="t" style="left:1349.23px;width:40px;text-align:center;top:664.59px;font-size:9px;font-weight:bold;color:#1f5a30">-</div>
<div class="t" style="left:1383.50px;width:40px;text-align:center;top:664.59px;font-size:10px;font-weight:bold;transform:scaleX(0.86);color:#303030">1:44</div>
<div class="t" style="left:1417.77px;width:40px;text-align:center;top:664.59px;font-size:10px;font-weight:bold;transform:scaleX(0.86);color:#303030">1:25</div>
<div class="t" style="left:1452.04px;width:40px;text-align:center;top:664.59px;font-size:10px;font-weight:bold;transform:scaleX(0.86);color:#303030">3:34</div>
<div class="t" style="left:1486.31px;width:40px;text-align:center;top:664.59px;font-size:10px;font-weight:bold;transform:scaleX(0.86);color:#303030">1:42</div>
<div class="t" style="left:1520.58px;width:40px;text-align:center;top:664.59px;font-size:10px;font-weight:bold;transform:scaleX(0.86);color:#303030">2:01</div>
<div class="t" style="left:1554.85px;width:40px;text-align:center;top:664.59px;font-size:9px;font-weight:bold;color:#1f5a30">-</div>
<div class="t" style="left:1589.12px;width:40px;text-align:center;top:664.59px;font-size:9px;font-weight:bold;color:#1f5a30">-</div>
<div class="t" style="left:1623.38px;width:40px;text-align:center;top:664.59px;font-size:10px;font-weight:bold;transform:scaleX(0.86);color:#303030">0:55</div>
<div class="t" style="left:1657.65px;width:40px;text-align:center;top:664.59px;font-size:10px;font-weight:bold;transform:scaleX(0.86);color:#303030">0:32</div>
<div class="t" style="left:1691.92px;width:40px;text-align:center;top:664.59px;font-size:10px;font-weight:bold;transform:scaleX(0.86);color:#303030">1:48</div>
<div class="t" style="left:1726.19px;width:40px;text-align:center;top:664.59px;font-size:9px;font-weight:bold;color:#4a4a4a">-</div>
<div class="t" style="left:1760.46px;width:40px;text-align:center;top:664.59px;font-size:10px;font-weight:bold;transform:scaleX(0.86);color:#303030">3:40</div>
<div class="t" style="left:1794.74px;width:40px;text-align:center;top:664.59px;font-size:10px;font-weight:bold;transform:scaleX(0.86);color:#1f5a30">0:58</div>
<div class="t" style="left:1892.20px;width:60px;text-align:center;top:664.14px;font-size:10.5px;font-weight:bold;color:#2a2a2a">53:19</div>
<div class="t" style="left:599.50px;top:681.46px;font-size:9.6px;color:#3a3a3a">Dyżur 100% oddany</div>
<div class="t" style="left:766.63px;width:40px;text-align:center;top:682.06px;font-size:9px;font-weight:bold;color:#1f5a30">-</div>
<div class="t" style="left:800.90px;width:40px;text-align:center;top:682.06px;font-size:9px;font-weight:bold;color:#4a4a4a">-</div>
<div class="t" style="left:835.17px;width:40px;text-align:center;top:682.06px;font-size:9px;font-weight:bold;color:#1f5a30">-</div>
<div class="t" style="left:869.44px;width:40px;text-align:center;top:682.06px;font-size:9px;font-weight:bold;color:#1f5a30">-</div>
<div class="t" style="left:903.72px;width:40px;text-align:center;top:682.06px;font-size:9px;font-weight:bold;color:#eef8f1">-</div>
<div class="t" style="left:937.99px;width:40px;text-align:center;top:682.06px;font-size:9px;font-weight:bold;color:#4a4a4a">-</div>
<div class="t" style="left:972.25px;width:40px;text-align:center;top:682.06px;font-size:9px;font-weight:bold;color:#4a4a4a">-</div>
<div class="t" style="left:1006.53px;width:40px;text-align:center;top:682.06px;font-size:9px;font-weight:bold;color:#4a4a4a">-</div>
<div class="t" style="left:1040.80px;width:40px;text-align:center;top:682.06px;font-size:9px;font-weight:bold;color:#4a4a4a">-</div>
<div class="t" style="left:1075.07px;width:40px;text-align:center;top:682.06px;font-size:9px;font-weight:bold;color:#1f5a30">-</div>
<div class="t" style="left:1109.34px;width:40px;text-align:center;top:682.06px;font-size:9px;font-weight:bold;color:#1f5a30">-</div>
<div class="t" style="left:1143.61px;width:40px;text-align:center;top:682.06px;font-size:9px;font-weight:bold;color:#4a4a4a">-</div>
<div class="t" style="left:1177.88px;width:40px;text-align:center;top:682.06px;font-size:9px;font-weight:bold;color:#4a4a4a">-</div>
<div class="t" style="left:1212.14px;width:40px;text-align:center;top:682.06px;font-size:9px;font-weight:bold;color:#4a4a4a">-</div>
<div class="t" style="left:1246.41px;width:40px;text-align:center;top:682.06px;font-size:9px;font-weight:bold;color:#4a4a4a">-</div>
<div class="t" style="left:1280.69px;width:40px;text-align:center;top:682.06px;font-size:9px;font-weight:bold;color:#4a4a4a">-</div>
<div class="t" style="left:1314.96px;width:40px;text-align:center;top:682.06px;font-size:9px;font-weight:bold;color:#1f5a30">-</div>
<div class="t" style="left:1349.23px;width:40px;text-align:center;top:682.06px;font-size:9px;font-weight:bold;color:#1f5a30">-</div>
<div class="t" style="left:1383.50px;width:40px;text-align:center;top:682.06px;font-size:9px;font-weight:bold;color:#4a4a4a">-</div>
<div class="t" style="left:1417.77px;width:40px;text-align:center;top:682.06px;font-size:9px;font-weight:bold;color:#4a4a4a">-</div>
<div class="t" style="left:1452.04px;width:40px;text-align:center;top:682.06px;font-size:9px;font-weight:bold;color:#4a4a4a">-</div>
<div class="t" style="left:1486.31px;width:40px;text-align:center;top:682.06px;font-size:9px;font-weight:bold;color:#4a4a4a">-</div>
<div class="t" style="left:1520.58px;width:40px;text-align:center;top:682.06px;font-size:9px;font-weight:bold;color:#4a4a4a">-</div>
<div class="t" style="left:1554.85px;width:40px;text-align:center;top:682.06px;font-size:9px;font-weight:bold;color:#1f5a30">-</div>
<div class="t" style="left:1589.12px;width:40px;text-align:center;top:682.06px;font-size:9px;font-weight:bold;color:#1f5a30">-</div>
<div class="t" style="left:1623.38px;width:40px;text-align:center;top:682.06px;font-size:9px;font-weight:bold;color:#4a4a4a">-</div>
<div class="t" style="left:1657.65px;width:40px;text-align:center;top:682.06px;font-size:9px;font-weight:bold;color:#4a4a4a">-</div>
<div class="t" style="left:1691.92px;width:40px;text-align:center;top:682.06px;font-size:9px;font-weight:bold;color:#4a4a4a">-</div>
<div class="t" style="left:1726.19px;width:40px;text-align:center;top:682.06px;font-size:9px;font-weight:bold;color:#4a4a4a">-</div>
<div class="t" style="left:1760.46px;width:40px;text-align:center;top:682.06px;font-size:9px;font-weight:bold;color:#4a4a4a">-</div>
<div class="t" style="left:1794.74px;width:40px;text-align:center;top:682.06px;font-size:9px;font-weight:bold;color:#1f5a30">-</div>
<div class="t" style="left:599.50px;top:698.93px;font-size:9.6px;color:#3a3a3a">Dyżur 100% płatny</div>
<div class="t" style="left:766.63px;width:40px;text-align:center;top:699.53px;font-size:9px;font-weight:bold;color:#1f5a30">-</div>
<div class="t" style="left:800.90px;width:40px;text-align:center;top:699.53px;font-size:9px;font-weight:bold;color:#4a4a4a">-</div>
<div class="t" style="left:835.17px;width:40px;text-align:center;top:699.53px;font-size:9px;font-weight:bold;color:#1f5a30">-</div>
<div class="t" style="left:869.44px;width:40px;text-align:center;top:699.53px;font-size:9px;font-weight:bold;color:#1f5a30">-</div>
<div class="t" style="left:903.72px;width:40px;text-align:center;top:699.53px;font-size:9px;font-weight:bold;color:#eef8f1">-</div>
<div class="t" style="left:937.99px;width:40px;text-align:center;top:699.53px;font-size:9px;font-weight:bold;color:#4a4a4a">-</div>
<div class="t" style="left:972.25px;width:40px;text-align:center;top:699.53px;font-size:9px;font-weight:bold;color:#4a4a4a">-</div>
<div class="t" style="left:1006.53px;width:40px;text-align:center;top:699.53px;font-size:9px;font-weight:bold;color:#4a4a4a">-</div>
<div class="t" style="left:1040.80px;width:40px;text-align:center;top:699.53px;font-size:9px;font-weight:bold;color:#4a4a4a">-</div>
<div class="t" style="left:1075.07px;width:40px;text-align:center;top:699.53px;font-size:9px;font-weight:bold;color:#1f5a30">-</div>
<div class="t" style="left:1109.34px;width:40px;text-align:center;top:699.53px;font-size:9px;font-weight:bold;color:#1f5a30">-</div>
<div class="t" style="left:1143.61px;width:40px;text-align:center;top:699.53px;font-size:9px;font-weight:bold;color:#4a4a4a">-</div>
<div class="t" style="left:1177.88px;width:40px;text-align:center;top:699.53px;font-size:9px;font-weight:bold;color:#4a4a4a">-</div>
<div class="t" style="left:1212.14px;width:40px;text-align:center;top:699.53px;font-size:9px;font-weight:bold;color:#4a4a4a">-</div>
<div class="t" style="left:1246.41px;width:40px;text-align:center;top:699.53px;font-size:9px;font-weight:bold;color:#4a4a4a">-</div>
<div class="t" style="left:1280.69px;width:40px;text-align:center;top:699.53px;font-size:9px;font-weight:bold;color:#4a4a4a">-</div>
<div class="t" style="left:1314.96px;width:40px;text-align:center;top:699.53px;font-size:9px;font-weight:bold;color:#1f5a30">-</div>
<div class="t" style="left:1349.23px;width:40px;text-align:center;top:699.53px;font-size:9px;font-weight:bold;color:#1f5a30">-</div>
<div class="t" style="left:1383.50px;width:40px;text-align:center;top:699.53px;font-size:9px;font-weight:bold;color:#4a4a4a">-</div>
<div class="t" style="left:1417.77px;width:40px;text-align:center;top:699.53px;font-size:9px;font-weight:bold;color:#4a4a4a">-</div>
<div class="t" style="left:1452.04px;width:40px;text-align:center;top:699.53px;font-size:9px;font-weight:bold;color:#4a4a4a">-</div>
<div class="t" style="left:1486.31px;width:40px;text-align:center;top:699.53px;font-size:9px;font-weight:bold;color:#4a4a4a">-</div>
<div class="t" style="left:1520.58px;width:40px;text-align:center;top:699.53px;font-size:9px;font-weight:bold;color:#4a4a4a">-</div>
<div class="t" style="left:1554.85px;width:40px;text-align:center;top:699.53px;font-size:9px;font-weight:bold;color:#1f5a30">-</div>
<div class="t" style="left:1589.12px;width:40px;text-align:center;top:699.53px;font-size:9px;font-weight:bold;color:#1f5a30">-</div>
<div class="t" style="left:1623.38px;width:40px;text-align:center;top:699.53px;font-size:9px;font-weight:bold;color:#4a4a4a">-</div>
<div class="t" style="left:1657.65px;width:40px;text-align:center;top:699.53px;font-size:9px;font-weight:bold;color:#4a4a4a">-</div>
<div class="t" style="left:1691.92px;width:40px;text-align:center;top:699.53px;font-size:9px;font-weight:bold;color:#4a4a4a">-</div>
<div class="t" style="left:1726.19px;width:40px;text-align:center;top:699.53px;font-size:9px;font-weight:bold;color:#4a4a4a">-</div>
<div class="t" style="left:1760.46px;width:40px;text-align:center;top:699.53px;font-size:9px;font-weight:bold;color:#4a4a4a">-</div>
<div class="t" style="left:1794.74px;width:40px;text-align:center;top:699.53px;font-size:9px;font-weight:bold;color:#1f5a30">-</div>
<div class="t" style="left:599.50px;top:716.40px;font-size:9.6px;color:#3a3a3a">CP godziny nocne</div>
<div class="t" style="left:766.63px;width:40px;text-align:center;top:717.00px;font-size:10px;font-weight:bold;transform:scaleX(0.86);color:#1f5a30">1:12</div>
<div class="t" style="left:800.90px;width:40px;text-align:center;top:717.00px;font-size:9px;font-weight:bold;color:#4a4a4a">-</div>
<div class="t" style="left:835.17px;width:40px;text-align:center;top:717.00px;font-size:10px;font-weight:bold;transform:scaleX(0.86);color:#1f5a30">0:30</div>
<div class="t" style="left:869.44px;width:40px;text-align:center;top:717.00px;font-size:9px;font-weight:bold;color:#1f5a30">-</div>
<div class="t" style="left:903.72px;width:40px;text-align:center;top:717.00px;font-size:9px;font-weight:bold;color:#eef8f1">-</div>
<div class="t" style="left:937.99px;width:40px;text-align:center;top:717.00px;font-size:9px;font-weight:bold;color:#4a4a4a">-</div>
<div class="t" style="left:972.25px;width:40px;text-align:center;top:717.00px;font-size:9px;font-weight:bold;color:#4a4a4a">-</div>
<div class="t" style="left:1006.53px;width:40px;text-align:center;top:717.00px;font-size:9px;font-weight:bold;color:#4a4a4a">-</div>
<div class="t" style="left:1040.80px;width:40px;text-align:center;top:717.00px;font-size:9px;font-weight:bold;color:#4a4a4a">-</div>
<div class="t" style="left:1075.07px;width:40px;text-align:center;top:717.00px;font-size:9px;font-weight:bold;color:#1f5a30">-</div>
<div class="t" style="left:1109.34px;width:40px;text-align:center;top:717.00px;font-size:9px;font-weight:bold;color:#1f5a30">-</div>
<div class="t" style="left:1143.61px;width:40px;text-align:center;top:717.00px;font-size:10px;font-weight:bold;transform:scaleX(0.86);color:#303030">2:15</div>
<div class="t" style="left:1177.88px;width:40px;text-align:center;top:717.00px;font-size:10px;font-weight:bold;transform:scaleX(0.86);color:#303030">0:50</div>
<div class="t" style="left:1212.14px;width:40px;text-align:center;top:717.00px;font-size:9px;font-weight:bold;color:#4a4a4a">-</div>
<div class="t" style="left:1246.41px;width:40px;text-align:center;top:717.00px;font-size:9px;font-weight:bold;color:#4a4a4a">-</div>
<div class="t" style="left:1280.69px;width:40px;text-align:center;top:717.00px;font-size:10px;font-weight:bold;transform:scaleX(0.86);color:#303030">0:43</div>
<div class="t" style="left:1314.96px;width:40px;text-align:center;top:717.00px;font-size:9px;font-weight:bold;color:#1f5a30">-</div>
<div class="t" style="left:1349.23px;width:40px;text-align:center;top:717.00px;font-size:9px;font-weight:bold;color:#1f5a30">-</div>
<div class="t" style="left:1383.50px;width:40px;text-align:center;top:717.00px;font-size:9px;font-weight:bold;color:#4a4a4a">-</div>
<div class="t" style="left:1417.77px;width:40px;text-align:center;top:717.00px;font-size:10px;font-weight:bold;transform:scaleX(0.86);color:#303030">0:04</div>
<div class="t" style="left:1452.04px;width:40px;text-align:center;top:717.00px;font-size:9px;font-weight:bold;color:#4a4a4a">-</div>
<div class="t" style="left:1486.31px;width:40px;text-align:center;top:717.00px;font-size:9px;font-weight:bold;color:#4a4a4a">-</div>
<div class="t" style="left:1520.58px;width:40px;text-align:center;top:717.00px;font-size:10px;font-weight:bold;transform:scaleX(0.86);color:#303030">2:24</div>
<div class="t" style="left:1554.85px;width:40px;text-align:center;top:717.00px;font-size:9px;font-weight:bold;color:#1f5a30">-</div>
<div class="t" style="left:1589.12px;width:40px;text-align:center;top:717.00px;font-size:9px;font-weight:bold;color:#1f5a30">-</div>
<div class="t" style="left:1623.38px;width:40px;text-align:center;top:717.00px;font-size:10px;font-weight:bold;transform:scaleX(0.86);color:#303030">0:10</div>
<div class="t" style="left:1657.65px;width:40px;text-align:center;top:717.00px;font-size:10px;font-weight:bold;transform:scaleX(0.86);color:#303030">0:11</div>
<div class="t" style="left:1691.92px;width:40px;text-align:center;top:717.00px;font-size:10px;font-weight:bold;transform:scaleX(0.86);color:#303030">0:13</div>
<div class="t" style="left:1726.19px;width:40px;text-align:center;top:717.00px;font-size:9px;font-weight:bold;color:#4a4a4a">-</div>
<div class="t" style="left:1760.46px;width:40px;text-align:center;top:717.00px;font-size:10px;font-weight:bold;transform:scaleX(0.86);color:#303030">0:42</div>
<div class="t" style="left:1794.74px;width:40px;text-align:center;top:717.00px;font-size:9px;font-weight:bold;color:#1f5a30">-</div>
<div class="t" style="left:1892.20px;width:60px;text-align:center;top:716.55px;font-size:10.5px;font-weight:bold;color:#2a2a2a">9:24</div>
<div class="t" style="left:599.50px;top:733.87px;font-size:9.6px;color:#3a3a3a">Odpoczynek dzienny</div>
<div class="t" style="left:766.63px;width:40px;text-align:center;top:734.47px;font-size:10px;font-weight:bold;transform:scaleX(0.86);color:#1f5a30">0:25</div>
<div class="t" style="left:800.90px;width:40px;text-align:center;top:734.47px;font-size:9px;font-weight:bold;color:#4a4a4a">-</div>
<div class="t" style="left:835.17px;width:40px;text-align:center;top:734.47px;font-size:10px;font-weight:bold;transform:scaleX(0.86);color:#1f5a30">14:21</div>
<div class="t" style="left:869.44px;width:40px;text-align:center;top:734.47px;font-size:9px;font-weight:bold;color:#1f5a30">-</div>
<div class="t" style="left:903.72px;width:40px;text-align:center;top:734.47px;font-size:10px;font-weight:bold;transform:scaleX(0.86);color:#eef8f1">9:33</div>
<div class="t" style="left:937.99px;width:40px;text-align:center;top:734.47px;font-size:10px;font-weight:bold;transform:scaleX(0.86);color:#303030">9:19</div>
<div class="t" style="left:972.25px;width:40px;text-align:center;top:734.47px;font-size:10px;font-weight:bold;transform:scaleX(0.86);color:#303030">10:15</div>
<div class="t" style="left:1006.53px;width:40px;text-align:center;top:734.47px;font-size:10px;font-weight:bold;transform:scaleX(0.86);color:#303030">11:16</div>
<div class="t" style="left:1040.80px;width:40px;text-align:center;top:734.47px;font-size:10px;font-weight:bold;transform:scaleX(0.86);color:#303030">9:19</div>
<div class="t" style="left:1075.07px;width:40px;text-align:center;top:734.47px;font-size:9px;font-weight:bold;color:#1f5a30">-</div>
<div class="t" style="left:1109.34px;width:40px;text-align:center;top:734.47px;font-size:9px;font-weight:bold;color:#1f5a30">-</div>
<div class="t" style="left:1143.61px;width:40px;text-align:center;top:734.47px;font-size:10px;font-weight:bold;transform:scaleX(0.86);color:#303030">9:02</div>
<div class="t" style="left:1177.88px;width:40px;text-align:center;top:734.47px;font-size:10px;font-weight:bold;transform:scaleX(0.86);color:#303030">9:16</div>
<div class="t" style="left:1212.14px;width:40px;text-align:center;top:734.47px;font-size:10px;font-weight:bold;transform:scaleX(0.86);color:#303030">12:23</div>
<div class="t" style="left:1246.41px;width:40px;text-align:center;top:734.47px;font-size:10px;font-weight:bold;transform:scaleX(0.86);color:#303030">14:14</div>
<div class="t" style="left:1280.69px;width:40px;text-align:center;top:734.47px;font-size:10px;font-weight:bold;transform:scaleX(0.86);color:#303030">9:21</div>
<div class="t" style="left:1314.96px;width:40px;text-align:center;top:734.47px;font-size:10px;font-weight:bold;transform:scaleX(0.86);color:#1f5a30">19:57</div>
<div class="t" style="left:1349.23px;width:40px;text-align:center;top:734.47px;font-size:9px;font-weight:bold;color:#1f5a30">-</div>
<div class="t" style="left:1383.50px;width:40px;text-align:center;top:734.47px;font-size:10px;font-weight:bold;transform:scaleX(0.86);color:#303030">10:15</div>
<div class="t" style="left:1417.77px;width:40px;text-align:center;top:734.47px;font-size:10px;font-weight:bold;transform:scaleX(0.86);color:#303030">9:40</div>
<div class="t" style="left:1452.04px;width:40px;text-align:center;top:734.47px;font-size:10px;font-weight:bold;transform:scaleX(0.86);color:#303030">9:34</div>
<div class="t" style="left:1486.31px;width:40px;text-align:center;top:734.47px;font-size:10px;font-weight:bold;transform:scaleX(0.86);color:#303030">10:43</div>
<div class="t" style="left:1520.58px;width:40px;text-align:center;top:734.47px;font-size:10px;font-weight:bold;transform:scaleX(0.86);color:#303030">8:04</div>
<div class="t" style="left:1554.85px;width:40px;text-align:center;top:734.47px;font-size:10px;font-weight:bold;transform:scaleX(0.86);color:#1f5a30">17:29</div>
<div class="t" style="left:1589.12px;width:40px;text-align:center;top:734.47px;font-size:9px;font-weight:bold;color:#1f5a30">-</div>
<div class="t" style="left:1623.38px;width:40px;text-align:center;top:734.47px;font-size:10px;font-weight:bold;transform:scaleX(0.86);color:#303030">10:09</div>
<div class="t" style="left:1657.65px;width:40px;text-align:center;top:734.47px;font-size:10px;font-weight:bold;transform:scaleX(0.86);color:#303030">12:35</div>
<div class="t" style="left:1691.92px;width:40px;text-align:center;top:734.47px;font-size:10px;font-weight:bold;transform:scaleX(0.86);color:#303030">7:58</div>
<div class="t" style="left:1726.19px;width:40px;text-align:center;top:734.47px;font-size:9px;font-weight:bold;color:#4a4a4a">-</div>
<div class="t" style="left:1760.46px;width:40px;text-align:center;top:734.47px;font-size:9px;font-weight:bold;color:#4a4a4a">-</div>
<div class="t" style="left:1794.74px;width:40px;text-align:center;top:734.47px;font-size:9px;font-weight:bold;color:#1f5a30">-</div>
<div class="t" style="left:1892.20px;width:60px;text-align:center;top:734.02px;font-size:10.5px;font-weight:bold;color:#2a2a2a">235:13</div>
<div class="t" style="left:599.50px;top:750.00px;font-size:9.6px;color:#3a3a3a">Odpoczynek dzienny podczas dnia</div>
<div class="t" style="left:599.50px;top:763.20px;font-size:9.6px;color:#3a3a3a">pracy</div>
<div class="t" style="left:766.63px;width:40px;text-align:center;top:752.10px;font-size:9px;font-weight:bold;color:#1f5a30">-</div>
<div class="t" style="left:800.90px;width:40px;text-align:center;top:752.10px;font-size:9px;font-weight:bold;color:#4a4a4a">-</div>
<div class="t" style="left:835.17px;width:40px;text-align:center;top:752.10px;font-size:9px;font-weight:bold;color:#1f5a30">-</div>
<div class="t" style="left:869.44px;width:40px;text-align:center;top:752.10px;font-size:9px;font-weight:bold;color:#1f5a30">-</div>
<div class="t" style="left:903.72px;width:40px;text-align:center;top:752.10px;font-size:9px;font-weight:bold;color:#eef8f1">-</div>
<div class="t" style="left:937.99px;width:40px;text-align:center;top:752.10px;font-size:10px;font-weight:bold;transform:scaleX(0.86);color:#303030">9:19</div>
<div class="t" style="left:972.25px;width:40px;text-align:center;top:752.10px;font-size:10px;font-weight:bold;transform:scaleX(0.86);color:#303030">10:15</div>
<div class="t" style="left:1006.53px;width:40px;text-align:center;top:752.10px;font-size:10px;font-weight:bold;transform:scaleX(0.86);color:#303030">11:16</div>
<div class="t" style="left:1040.80px;width:40px;text-align:center;top:752.10px;font-size:9px;font-weight:bold;color:#4a4a4a">-</div>
<div class="t" style="left:1075.07px;width:40px;text-align:center;top:752.10px;font-size:9px;font-weight:bold;color:#1f5a30">-</div>
<div class="t" style="left:1109.34px;width:40px;text-align:center;top:752.10px;font-size:9px;font-weight:bold;color:#1f5a30">-</div>
<div class="t" style="left:1143.61px;width:40px;text-align:center;top:752.10px;font-size:10px;font-weight:bold;transform:scaleX(0.86);color:#303030">9:02</div>
<div class="t" style="left:1177.88px;width:40px;text-align:center;top:752.10px;font-size:10px;font-weight:bold;transform:scaleX(0.86);color:#303030">9:16</div>
<div class="t" style="left:1212.14px;width:40px;text-align:center;top:752.10px;font-size:10px;font-weight:bold;transform:scaleX(0.86);color:#303030">12:23</div>
<div class="t" style="left:1246.41px;width:40px;text-align:center;top:752.10px;font-size:10px;font-weight:bold;transform:scaleX(0.86);color:#303030">14:14</div>
<div class="t" style="left:1280.69px;width:40px;text-align:center;top:752.10px;font-size:10px;font-weight:bold;transform:scaleX(0.86);color:#303030">9:21</div>
<div class="t" style="left:1314.96px;width:40px;text-align:center;top:752.10px;font-size:9px;font-weight:bold;color:#1f5a30">-</div>
<div class="t" style="left:1349.23px;width:40px;text-align:center;top:752.10px;font-size:9px;font-weight:bold;color:#1f5a30">-</div>
<div class="t" style="left:1383.50px;width:40px;text-align:center;top:752.10px;font-size:9px;font-weight:bold;color:#4a4a4a">-</div>
<div class="t" style="left:1417.77px;width:40px;text-align:center;top:752.10px;font-size:10px;font-weight:bold;transform:scaleX(0.86);color:#303030">9:40</div>
<div class="t" style="left:1452.04px;width:40px;text-align:center;top:752.10px;font-size:10px;font-weight:bold;transform:scaleX(0.86);color:#303030">9:34</div>
<div class="t" style="left:1486.31px;width:40px;text-align:center;top:752.10px;font-size:9px;font-weight:bold;color:#4a4a4a">-</div>
<div class="t" style="left:1520.58px;width:40px;text-align:center;top:752.10px;font-size:9px;font-weight:bold;color:#4a4a4a">-</div>
<div class="t" style="left:1554.85px;width:40px;text-align:center;top:752.10px;font-size:9px;font-weight:bold;color:#1f5a30">-</div>
<div class="t" style="left:1589.12px;width:40px;text-align:center;top:752.10px;font-size:9px;font-weight:bold;color:#1f5a30">-</div>
<div class="t" style="left:1623.38px;width:40px;text-align:center;top:752.10px;font-size:9px;font-weight:bold;color:#4a4a4a">-</div>
<div class="t" style="left:1657.65px;width:40px;text-align:center;top:752.10px;font-size:10px;font-weight:bold;transform:scaleX(0.86);color:#303030">12:35</div>
<div class="t" style="left:1691.92px;width:40px;text-align:center;top:752.10px;font-size:9px;font-weight:bold;color:#4a4a4a">-</div>
<div class="t" style="left:1726.19px;width:40px;text-align:center;top:752.10px;font-size:9px;font-weight:bold;color:#4a4a4a">-</div>
<div class="t" style="left:1760.46px;width:40px;text-align:center;top:752.10px;font-size:9px;font-weight:bold;color:#4a4a4a">-</div>
<div class="t" style="left:1794.74px;width:40px;text-align:center;top:752.10px;font-size:9px;font-weight:bold;color:#1f5a30">-</div>
<div class="t" style="left:1892.20px;width:60px;text-align:center;top:751.65px;font-size:10.5px;font-weight:bold;color:#2a2a2a">116:52</div>
<div class="t" style="left:599.50px;top:778.34px;font-size:9.6px;color:#3a3a3a">CP w święta i dni wolne</div>
<div class="t" style="left:766.63px;width:40px;text-align:center;top:778.94px;font-size:10px;font-weight:bold;transform:scaleX(0.86);color:#1f5a30">2:19</div>
<div class="t" style="left:800.90px;width:40px;text-align:center;top:778.94px;font-size:9px;font-weight:bold;color:#4a4a4a">-</div>
<div class="t" style="left:835.17px;width:40px;text-align:center;top:778.94px;font-size:10px;font-weight:bold;transform:scaleX(0.86);color:#1f5a30">8:31</div>
<div class="t" style="left:869.44px;width:40px;text-align:center;top:778.94px;font-size:9px;font-weight:bold;color:#1f5a30">-</div>
<div class="t" style="left:903.72px;width:40px;text-align:center;top:778.94px;font-size:9px;font-weight:bold;color:#eef8f1">-</div>
<div class="t" style="left:937.99px;width:40px;text-align:center;top:778.94px;font-size:9px;font-weight:bold;color:#4a4a4a">-</div>
<div class="t" style="left:972.25px;width:40px;text-align:center;top:778.94px;font-size:9px;font-weight:bold;color:#4a4a4a">-</div>
<div class="t" style="left:1006.53px;width:40px;text-align:center;top:778.94px;font-size:9px;font-weight:bold;color:#4a4a4a">-</div>
<div class="t" style="left:1040.80px;width:40px;text-align:center;top:778.94px;font-size:9px;font-weight:bold;color:#4a4a4a">-</div>
<div class="t" style="left:1075.07px;width:40px;text-align:center;top:778.94px;font-size:9px;font-weight:bold;color:#1f5a30">-</div>
<div class="t" style="left:1109.34px;width:40px;text-align:center;top:778.94px;font-size:9px;font-weight:bold;color:#1f5a30">-</div>
<div class="t" style="left:1143.61px;width:40px;text-align:center;top:778.94px;font-size:9px;font-weight:bold;color:#4a4a4a">-</div>
<div class="t" style="left:1177.88px;width:40px;text-align:center;top:778.94px;font-size:9px;font-weight:bold;color:#4a4a4a">-</div>
<div class="t" style="left:1212.14px;width:40px;text-align:center;top:778.94px;font-size:9px;font-weight:bold;color:#4a4a4a">-</div>
<div class="t" style="left:1246.41px;width:40px;text-align:center;top:778.94px;font-size:9px;font-weight:bold;color:#4a4a4a">-</div>
<div class="t" style="left:1280.69px;width:40px;text-align:center;top:778.94px;font-size:9px;font-weight:bold;color:#4a4a4a">-</div>
<div class="t" style="left:1314.96px;width:40px;text-align:center;top:778.94px;font-size:9px;font-weight:bold;color:#1f5a30">-</div>
<div class="t" style="left:1349.23px;width:40px;text-align:center;top:778.94px;font-size:9px;font-weight:bold;color:#1f5a30">-</div>
<div class="t" style="left:1383.50px;width:40px;text-align:center;top:778.94px;font-size:9px;font-weight:bold;color:#4a4a4a">-</div>
<div class="t" style="left:1417.77px;width:40px;text-align:center;top:778.94px;font-size:9px;font-weight:bold;color:#4a4a4a">-</div>
<div class="t" style="left:1452.04px;width:40px;text-align:center;top:778.94px;font-size:9px;font-weight:bold;color:#4a4a4a">-</div>
<div class="t" style="left:1486.31px;width:40px;text-align:center;top:778.94px;font-size:9px;font-weight:bold;color:#4a4a4a">-</div>
<div class="t" style="left:1520.58px;width:40px;text-align:center;top:778.94px;font-size:9px;font-weight:bold;color:#4a4a4a">-</div>
<div class="t" style="left:1554.85px;width:40px;text-align:center;top:778.94px;font-size:9px;font-weight:bold;color:#1f5a30">-</div>
<div class="t" style="left:1589.12px;width:40px;text-align:center;top:778.94px;font-size:9px;font-weight:bold;color:#1f5a30">-</div>
<div class="t" style="left:1623.38px;width:40px;text-align:center;top:778.94px;font-size:9px;font-weight:bold;color:#4a4a4a">-</div>
<div class="t" style="left:1657.65px;width:40px;text-align:center;top:778.94px;font-size:9px;font-weight:bold;color:#4a4a4a">-</div>
<div class="t" style="left:1691.92px;width:40px;text-align:center;top:778.94px;font-size:9px;font-weight:bold;color:#4a4a4a">-</div>
<div class="t" style="left:1726.19px;width:40px;text-align:center;top:778.94px;font-size:9px;font-weight:bold;color:#4a4a4a">-</div>
<div class="t" style="left:1760.46px;width:40px;text-align:center;top:778.94px;font-size:9px;font-weight:bold;color:#4a4a4a">-</div>
<div class="t" style="left:1794.74px;width:40px;text-align:center;top:778.94px;font-size:9px;font-weight:bold;color:#1f5a30">-</div>
<div class="t" style="left:1892.20px;width:60px;text-align:center;top:778.49px;font-size:10.5px;font-weight:bold;color:#2a2a2a">11:50</div>
<div class="t" style="left:599.50px;top:795.81px;font-size:9.6px;color:#3a3a3a">Nadgodziny 50% płatne</div>
<div class="t" style="left:766.63px;width:40px;text-align:center;top:796.41px;font-size:9px;font-weight:bold;color:#1f5a30">-</div>
<div class="t" style="left:800.90px;width:40px;text-align:center;top:796.41px;font-size:9px;font-weight:bold;color:#4a4a4a">-</div>
<div class="t" style="left:835.17px;width:40px;text-align:center;top:796.41px;font-size:9px;font-weight:bold;color:#1f5a30">-</div>
<div class="t" style="left:869.44px;width:40px;text-align:center;top:796.41px;font-size:9px;font-weight:bold;color:#1f5a30">-</div>
<div class="t" style="left:903.72px;width:40px;text-align:center;top:796.41px;font-size:10px;font-weight:bold;transform:scaleX(0.86);color:#eef8f1">3:19</div>
<div class="t" style="left:937.99px;width:40px;text-align:center;top:796.41px;font-size:10px;font-weight:bold;transform:scaleX(0.86);color:#303030">3:18</div>
<div class="t" style="left:972.25px;width:40px;text-align:center;top:796.41px;font-size:10px;font-weight:bold;transform:scaleX(0.86);color:#303030">2:47</div>
<div class="t" style="left:1006.53px;width:40px;text-align:center;top:796.41px;font-size:10px;font-weight:bold;transform:scaleX(0.86);color:#303030">1:17</div>
<div class="t" style="left:1040.80px;width:40px;text-align:center;top:796.41px;font-size:10px;font-weight:bold;transform:scaleX(0.86);color:#303030">4:17</div>
<div class="t" style="left:1075.07px;width:40px;text-align:center;top:796.41px;font-size:9px;font-weight:bold;color:#1f5a30">-</div>
<div class="t" style="left:1109.34px;width:40px;text-align:center;top:796.41px;font-size:9px;font-weight:bold;color:#1f5a30">-</div>
<div class="t" style="left:1143.61px;width:40px;text-align:center;top:796.41px;font-size:9px;font-weight:bold;color:#4a4a4a">-</div>
<div class="t" style="left:1177.88px;width:40px;text-align:center;top:796.41px;font-size:10px;font-weight:bold;transform:scaleX(0.86);color:#303030">4:32</div>
<div class="t" style="left:1212.14px;width:40px;text-align:center;top:796.41px;font-size:10px;font-weight:bold;transform:scaleX(0.86);color:#303030">1:12</div>
<div class="t" style="left:1246.41px;width:40px;text-align:center;top:796.41px;font-size:10px;font-weight:bold;transform:scaleX(0.86);color:#303030">0:12</div>
<div class="t" style="left:1280.69px;width:40px;text-align:center;top:796.41px;font-size:10px;font-weight:bold;transform:scaleX(0.86);color:#303030">3:48</div>
<div class="t" style="left:1314.96px;width:40px;text-align:center;top:796.41px;font-size:9px;font-weight:bold;color:#1f5a30">-</div>
<div class="t" style="left:1349.23px;width:40px;text-align:center;top:796.41px;font-size:9px;font-weight:bold;color:#1f5a30">-</div>
<div class="t" style="left:1383.50px;width:40px;text-align:center;top:796.41px;font-size:10px;font-weight:bold;transform:scaleX(0.86);color:#303030">4:01</div>
<div class="t" style="left:1417.77px;width:40px;text-align:center;top:796.41px;font-size:10px;font-weight:bold;transform:scaleX(0.86);color:#303030">4:51</div>
<div class="t" style="left:1452.04px;width:40px;text-align:center;top:796.41px;font-size:10px;font-weight:bold;transform:scaleX(0.86);color:#303030">2:52</div>
<div class="t" style="left:1486.31px;width:40px;text-align:center;top:796.41px;font-size:10px;font-weight:bold;transform:scaleX(0.86);color:#303030">3:35</div>
<div class="t" style="left:1520.58px;width:40px;text-align:center;top:796.41px;font-size:10px;font-weight:bold;transform:scaleX(0.86);color:#303030">3:31</div>
<div class="t" style="left:1554.85px;width:40px;text-align:center;top:796.41px;font-size:9px;font-weight:bold;color:#1f5a30">-</div>
<div class="t" style="left:1589.12px;width:40px;text-align:center;top:796.41px;font-size:9px;font-weight:bold;color:#1f5a30">-</div>
<div class="t" style="left:1623.38px;width:40px;text-align:center;top:796.41px;font-size:10px;font-weight:bold;transform:scaleX(0.86);color:#303030">4:56</div>
<div class="t" style="left:1657.65px;width:40px;text-align:center;top:796.41px;font-size:10px;font-weight:bold;transform:scaleX(0.86);color:#303030">2:42</div>
<div class="t" style="left:1691.92px;width:40px;text-align:center;top:796.41px;font-size:10px;font-weight:bold;transform:scaleX(0.86);color:#303030">6:01</div>
<div class="t" style="left:1726.19px;width:40px;text-align:center;top:796.41px;font-size:9px;font-weight:bold;color:#4a4a4a">-</div>
<div class="t" style="left:1760.46px;width:40px;text-align:center;top:796.41px;font-size:10px;font-weight:bold;transform:scaleX(0.86);color:#303030">11:10</div>
<div class="t" style="left:1794.74px;width:40px;text-align:center;top:796.41px;font-size:9px;font-weight:bold;color:#1f5a30">-</div>
<div class="t" style="left:1892.20px;width:60px;text-align:center;top:795.96px;font-size:10.5px;font-weight:bold;color:#2a2a2a">68:44</div>
<div class="t" style="left:599.50px;top:813.28px;font-size:9.6px;color:#3a3a3a">Nadgodziny 50% oddane</div>
<div class="t" style="left:766.63px;width:40px;text-align:center;top:813.88px;font-size:9px;font-weight:bold;color:#1f5a30">-</div>
<div class="t" style="left:800.90px;width:40px;text-align:center;top:813.88px;font-size:9px;font-weight:bold;color:#4a4a4a">-</div>
<div class="t" style="left:835.17px;width:40px;text-align:center;top:813.88px;font-size:9px;font-weight:bold;color:#1f5a30">-</div>
<div class="t" style="left:869.44px;width:40px;text-align:center;top:813.88px;font-size:9px;font-weight:bold;color:#1f5a30">-</div>
<div class="t" style="left:903.72px;width:40px;text-align:center;top:813.88px;font-size:9px;font-weight:bold;color:#eef8f1">-</div>
<div class="t" style="left:937.99px;width:40px;text-align:center;top:813.88px;font-size:9px;font-weight:bold;color:#4a4a4a">-</div>
<div class="t" style="left:972.25px;width:40px;text-align:center;top:813.88px;font-size:9px;font-weight:bold;color:#4a4a4a">-</div>
<div class="t" style="left:1006.53px;width:40px;text-align:center;top:813.88px;font-size:9px;font-weight:bold;color:#4a4a4a">-</div>
<div class="t" style="left:1040.80px;width:40px;text-align:center;top:813.88px;font-size:9px;font-weight:bold;color:#4a4a4a">-</div>
<div class="t" style="left:1075.07px;width:40px;text-align:center;top:813.88px;font-size:9px;font-weight:bold;color:#1f5a30">-</div>
<div class="t" style="left:1109.34px;width:40px;text-align:center;top:813.88px;font-size:9px;font-weight:bold;color:#1f5a30">-</div>
<div class="t" style="left:1143.61px;width:40px;text-align:center;top:813.88px;font-size:9px;font-weight:bold;color:#4a4a4a">-</div>
<div class="t" style="left:1177.88px;width:40px;text-align:center;top:813.88px;font-size:9px;font-weight:bold;color:#4a4a4a">-</div>
<div class="t" style="left:1212.14px;width:40px;text-align:center;top:813.88px;font-size:9px;font-weight:bold;color:#4a4a4a">-</div>
<div class="t" style="left:1246.41px;width:40px;text-align:center;top:813.88px;font-size:9px;font-weight:bold;color:#4a4a4a">-</div>
<div class="t" style="left:1280.69px;width:40px;text-align:center;top:813.88px;font-size:9px;font-weight:bold;color:#4a4a4a">-</div>
<div class="t" style="left:1314.96px;width:40px;text-align:center;top:813.88px;font-size:9px;font-weight:bold;color:#1f5a30">-</div>
<div class="t" style="left:1349.23px;width:40px;text-align:center;top:813.88px;font-size:9px;font-weight:bold;color:#1f5a30">-</div>
<div class="t" style="left:1383.50px;width:40px;text-align:center;top:813.88px;font-size:9px;font-weight:bold;color:#4a4a4a">-</div>
<div class="t" style="left:1417.77px;width:40px;text-align:center;top:813.88px;font-size:9px;font-weight:bold;color:#4a4a4a">-</div>
<div class="t" style="left:1452.04px;width:40px;text-align:center;top:813.88px;font-size:9px;font-weight:bold;color:#4a4a4a">-</div>
<div class="t" style="left:1486.31px;width:40px;text-align:center;top:813.88px;font-size:9px;font-weight:bold;color:#4a4a4a">-</div>
<div class="t" style="left:1520.58px;width:40px;text-align:center;top:813.88px;font-size:9px;font-weight:bold;color:#4a4a4a">-</div>
<div class="t" style="left:1554.85px;width:40px;text-align:center;top:813.88px;font-size:9px;font-weight:bold;color:#1f5a30">-</div>
<div class="t" style="left:1589.12px;width:40px;text-align:center;top:813.88px;font-size:9px;font-weight:bold;color:#1f5a30">-</div>
<div class="t" style="left:1623.38px;width:40px;text-align:center;top:813.88px;font-size:9px;font-weight:bold;color:#4a4a4a">-</div>
<div class="t" style="left:1657.65px;width:40px;text-align:center;top:813.88px;font-size:9px;font-weight:bold;color:#4a4a4a">-</div>
<div class="t" style="left:1691.92px;width:40px;text-align:center;top:813.88px;font-size:9px;font-weight:bold;color:#4a4a4a">-</div>
<div class="t" style="left:1726.19px;width:40px;text-align:center;top:813.88px;font-size:9px;font-weight:bold;color:#4a4a4a">-</div>
<div class="t" style="left:1760.46px;width:40px;text-align:center;top:813.88px;font-size:9px;font-weight:bold;color:#4a4a4a">-</div>
<div class="t" style="left:1794.74px;width:40px;text-align:center;top:813.88px;font-size:9px;font-weight:bold;color:#1f5a30">-</div>
<div class="t" style="left:599.50px;top:830.75px;font-size:9.6px;color:#3a3a3a">Nadgodziny 100% płatne</div>
<div class="t" style="left:766.63px;width:40px;text-align:center;top:831.35px;font-size:9px;font-weight:bold;color:#1f5a30">-</div>
<div class="t" style="left:800.90px;width:40px;text-align:center;top:831.35px;font-size:9px;font-weight:bold;color:#4a4a4a">-</div>
<div class="t" style="left:835.17px;width:40px;text-align:center;top:831.35px;font-size:10px;font-weight:bold;transform:scaleX(0.86);color:#1f5a30">1:06</div>
<div class="t" style="left:869.44px;width:40px;text-align:center;top:831.35px;font-size:9px;font-weight:bold;color:#1f5a30">-</div>
<div class="t" style="left:903.72px;width:40px;text-align:center;top:831.35px;font-size:9px;font-weight:bold;color:#eef8f1">-</div>
<div class="t" style="left:937.99px;width:40px;text-align:center;top:831.35px;font-size:9px;font-weight:bold;color:#4a4a4a">-</div>
<div class="t" style="left:972.25px;width:40px;text-align:center;top:831.35px;font-size:9px;font-weight:bold;color:#4a4a4a">-</div>
<div class="t" style="left:1006.53px;width:40px;text-align:center;top:831.35px;font-size:9px;font-weight:bold;color:#4a4a4a">-</div>
<div class="t" style="left:1040.80px;width:40px;text-align:center;top:831.35px;font-size:9px;font-weight:bold;color:#4a4a4a">-</div>
<div class="t" style="left:1075.07px;width:40px;text-align:center;top:831.35px;font-size:9px;font-weight:bold;color:#1f5a30">-</div>
<div class="t" style="left:1109.34px;width:40px;text-align:center;top:831.35px;font-size:9px;font-weight:bold;color:#1f5a30">-</div>
<div class="t" style="left:1143.61px;width:40px;text-align:center;top:831.35px;font-size:9px;font-weight:bold;color:#4a4a4a">-</div>
<div class="t" style="left:1177.88px;width:40px;text-align:center;top:831.35px;font-size:10px;font-weight:bold;transform:scaleX(0.86);color:#303030">0:50</div>
<div class="t" style="left:1212.14px;width:40px;text-align:center;top:831.35px;font-size:9px;font-weight:bold;color:#4a4a4a">-</div>
<div class="t" style="left:1246.41px;width:40px;text-align:center;top:831.35px;font-size:9px;font-weight:bold;color:#4a4a4a">-</div>
<div class="t" style="left:1280.69px;width:40px;text-align:center;top:831.35px;font-size:10px;font-weight:bold;transform:scaleX(0.86);color:#303030">0:43</div>
<div class="t" style="left:1314.96px;width:40px;text-align:center;top:831.35px;font-size:9px;font-weight:bold;color:#1f5a30">-</div>
<div class="t" style="left:1349.23px;width:40px;text-align:center;top:831.35px;font-size:9px;font-weight:bold;color:#1f5a30">-</div>
<div class="t" style="left:1383.50px;width:40px;text-align:center;top:831.35px;font-size:9px;font-weight:bold;color:#4a4a4a">-</div>
<div class="t" style="left:1417.77px;width:40px;text-align:center;top:831.35px;font-size:10px;font-weight:bold;transform:scaleX(0.86);color:#303030">0:04</div>
<div class="t" style="left:1452.04px;width:40px;text-align:center;top:831.35px;font-size:9px;font-weight:bold;color:#4a4a4a">-</div>
<div class="t" style="left:1486.31px;width:40px;text-align:center;top:831.35px;font-size:9px;font-weight:bold;color:#4a4a4a">-</div>
<div class="t" style="left:1520.58px;width:40px;text-align:center;top:831.35px;font-size:10px;font-weight:bold;transform:scaleX(0.86);color:#303030">2:24</div>
<div class="t" style="left:1554.85px;width:40px;text-align:center;top:831.35px;font-size:9px;font-weight:bold;color:#1f5a30">-</div>
<div class="t" style="left:1589.12px;width:40px;text-align:center;top:831.35px;font-size:9px;font-weight:bold;color:#1f5a30">-</div>
<div class="t" style="left:1623.38px;width:40px;text-align:center;top:831.35px;font-size:9px;font-weight:bold;color:#4a4a4a">-</div>
<div class="t" style="left:1657.65px;width:40px;text-align:center;top:831.35px;font-size:10px;font-weight:bold;transform:scaleX(0.86);color:#303030">0:11</div>
<div class="t" style="left:1691.92px;width:40px;text-align:center;top:831.35px;font-size:10px;font-weight:bold;transform:scaleX(0.86);color:#303030">0:13</div>
<div class="t" style="left:1726.19px;width:40px;text-align:center;top:831.35px;font-size:9px;font-weight:bold;color:#4a4a4a">-</div>
<div class="t" style="left:1760.46px;width:40px;text-align:center;top:831.35px;font-size:10px;font-weight:bold;transform:scaleX(0.86);color:#303030">0:42</div>
<div class="t" style="left:1794.74px;width:40px;text-align:center;top:831.35px;font-size:10px;font-weight:bold;transform:scaleX(0.86);color:#1f5a30">0:32</div>
<div class="t" style="left:1892.20px;width:60px;text-align:center;top:830.90px;font-size:10.5px;font-weight:bold;color:#2a2a2a">6:14</div>
<div class="t" style="left:599.50px;top:848.22px;font-size:9.6px;color:#3a3a3a">Nadgodziny 100% oddane</div>
<div class="t" style="left:766.63px;width:40px;text-align:center;top:848.82px;font-size:9px;font-weight:bold;color:#1f5a30">-</div>
<div class="t" style="left:800.90px;width:40px;text-align:center;top:848.82px;font-size:9px;font-weight:bold;color:#4a4a4a">-</div>
<div class="t" style="left:835.17px;width:40px;text-align:center;top:848.82px;font-size:9px;font-weight:bold;color:#1f5a30">-</div>
<div class="t" style="left:869.44px;width:40px;text-align:center;top:848.82px;font-size:9px;font-weight:bold;color:#1f5a30">-</div>
<div class="t" style="left:903.72px;width:40px;text-align:center;top:848.82px;font-size:9px;font-weight:bold;color:#eef8f1">-</div>
<div class="t" style="left:937.99px;width:40px;text-align:center;top:848.82px;font-size:9px;font-weight:bold;color:#4a4a4a">-</div>
<div class="t" style="left:972.25px;width:40px;text-align:center;top:848.82px;font-size:9px;font-weight:bold;color:#4a4a4a">-</div>
<div class="t" style="left:1006.53px;width:40px;text-align:center;top:848.82px;font-size:9px;font-weight:bold;color:#4a4a4a">-</div>
<div class="t" style="left:1040.80px;width:40px;text-align:center;top:848.82px;font-size:9px;font-weight:bold;color:#4a4a4a">-</div>
<div class="t" style="left:1075.07px;width:40px;text-align:center;top:848.82px;font-size:9px;font-weight:bold;color:#1f5a30">-</div>
<div class="t" style="left:1109.34px;width:40px;text-align:center;top:848.82px;font-size:9px;font-weight:bold;color:#1f5a30">-</div>
<div class="t" style="left:1143.61px;width:40px;text-align:center;top:848.82px;font-size:9px;font-weight:bold;color:#4a4a4a">-</div>
<div class="t" style="left:1177.88px;width:40px;text-align:center;top:848.82px;font-size:9px;font-weight:bold;color:#4a4a4a">-</div>
<div class="t" style="left:1212.14px;width:40px;text-align:center;top:848.82px;font-size:9px;font-weight:bold;color:#4a4a4a">-</div>
<div class="t" style="left:1246.41px;width:40px;text-align:center;top:848.82px;font-size:9px;font-weight:bold;color:#4a4a4a">-</div>
<div class="t" style="left:1280.69px;width:40px;text-align:center;top:848.82px;font-size:9px;font-weight:bold;color:#4a4a4a">-</div>
<div class="t" style="left:1314.96px;width:40px;text-align:center;top:848.82px;font-size:9px;font-weight:bold;color:#1f5a30">-</div>
<div class="t" style="left:1349.23px;width:40px;text-align:center;top:848.82px;font-size:9px;font-weight:bold;color:#1f5a30">-</div>
<div class="t" style="left:1383.50px;width:40px;text-align:center;top:848.82px;font-size:9px;font-weight:bold;color:#4a4a4a">-</div>
<div class="t" style="left:1417.77px;width:40px;text-align:center;top:848.82px;font-size:9px;font-weight:bold;color:#4a4a4a">-</div>
<div class="t" style="left:1452.04px;width:40px;text-align:center;top:848.82px;font-size:9px;font-weight:bold;color:#4a4a4a">-</div>
<div class="t" style="left:1486.31px;width:40px;text-align:center;top:848.82px;font-size:9px;font-weight:bold;color:#4a4a4a">-</div>
<div class="t" style="left:1520.58px;width:40px;text-align:center;top:848.82px;font-size:9px;font-weight:bold;color:#4a4a4a">-</div>
<div class="t" style="left:1554.85px;width:40px;text-align:center;top:848.82px;font-size:9px;font-weight:bold;color:#1f5a30">-</div>
<div class="t" style="left:1589.12px;width:40px;text-align:center;top:848.82px;font-size:9px;font-weight:bold;color:#1f5a30">-</div>
<div class="t" style="left:1623.38px;width:40px;text-align:center;top:848.82px;font-size:9px;font-weight:bold;color:#4a4a4a">-</div>
<div class="t" style="left:1657.65px;width:40px;text-align:center;top:848.82px;font-size:9px;font-weight:bold;color:#4a4a4a">-</div>
<div class="t" style="left:1691.92px;width:40px;text-align:center;top:848.82px;font-size:9px;font-weight:bold;color:#4a4a4a">-</div>
<div class="t" style="left:1726.19px;width:40px;text-align:center;top:848.82px;font-size:9px;font-weight:bold;color:#4a4a4a">-</div>
<div class="t" style="left:1760.46px;width:40px;text-align:center;top:848.82px;font-size:9px;font-weight:bold;color:#4a4a4a">-</div>
<div class="t" style="left:1794.74px;width:40px;text-align:center;top:848.82px;font-size:9px;font-weight:bold;color:#1f5a30">-</div>
<div class="t" style="left:599.50px;top:865.69px;font-size:9.6px;color:#3a3a3a">Czas wolny za nadg. na wniosek</div>
<div class="t" style="left:766.63px;width:40px;text-align:center;top:866.29px;font-size:9px;font-weight:bold;color:#1f5a30">-</div>
<div class="t" style="left:800.90px;width:40px;text-align:center;top:866.29px;font-size:9px;font-weight:bold;color:#4a4a4a">-</div>
<div class="t" style="left:835.17px;width:40px;text-align:center;top:866.29px;font-size:9px;font-weight:bold;color:#1f5a30">-</div>
<div class="t" style="left:869.44px;width:40px;text-align:center;top:866.29px;font-size:9px;font-weight:bold;color:#1f5a30">-</div>
<div class="t" style="left:903.72px;width:40px;text-align:center;top:866.29px;font-size:9px;font-weight:bold;color:#eef8f1">-</div>
<div class="t" style="left:937.99px;width:40px;text-align:center;top:866.29px;font-size:9px;font-weight:bold;color:#4a4a4a">-</div>
<div class="t" style="left:972.25px;width:40px;text-align:center;top:866.29px;font-size:9px;font-weight:bold;color:#4a4a4a">-</div>
<div class="t" style="left:1006.53px;width:40px;text-align:center;top:866.29px;font-size:9px;font-weight:bold;color:#4a4a4a">-</div>
<div class="t" style="left:1040.80px;width:40px;text-align:center;top:866.29px;font-size:9px;font-weight:bold;color:#4a4a4a">-</div>
<div class="t" style="left:1075.07px;width:40px;text-align:center;top:866.29px;font-size:9px;font-weight:bold;color:#1f5a30">-</div>
<div class="t" style="left:1109.34px;width:40px;text-align:center;top:866.29px;font-size:9px;font-weight:bold;color:#1f5a30">-</div>
<div class="t" style="left:1143.61px;width:40px;text-align:center;top:866.29px;font-size:9px;font-weight:bold;color:#4a4a4a">-</div>
<div class="t" style="left:1177.88px;width:40px;text-align:center;top:866.29px;font-size:9px;font-weight:bold;color:#4a4a4a">-</div>
<div class="t" style="left:1212.14px;width:40px;text-align:center;top:866.29px;font-size:9px;font-weight:bold;color:#4a4a4a">-</div>
<div class="t" style="left:1246.41px;width:40px;text-align:center;top:866.29px;font-size:9px;font-weight:bold;color:#4a4a4a">-</div>
<div class="t" style="left:1280.69px;width:40px;text-align:center;top:866.29px;font-size:9px;font-weight:bold;color:#4a4a4a">-</div>
<div class="t" style="left:1314.96px;width:40px;text-align:center;top:866.29px;font-size:9px;font-weight:bold;color:#1f5a30">-</div>
<div class="t" style="left:1349.23px;width:40px;text-align:center;top:866.29px;font-size:9px;font-weight:bold;color:#1f5a30">-</div>
<div class="t" style="left:1383.50px;width:40px;text-align:center;top:866.29px;font-size:9px;font-weight:bold;color:#4a4a4a">-</div>
<div class="t" style="left:1417.77px;width:40px;text-align:center;top:866.29px;font-size:9px;font-weight:bold;color:#4a4a4a">-</div>
<div class="t" style="left:1452.04px;width:40px;text-align:center;top:866.29px;font-size:9px;font-weight:bold;color:#4a4a4a">-</div>
<div class="t" style="left:1486.31px;width:40px;text-align:center;top:866.29px;font-size:9px;font-weight:bold;color:#4a4a4a">-</div>
<div class="t" style="left:1520.58px;width:40px;text-align:center;top:866.29px;font-size:9px;font-weight:bold;color:#4a4a4a">-</div>
<div class="t" style="left:1554.85px;width:40px;text-align:center;top:866.29px;font-size:9px;font-weight:bold;color:#1f5a30">-</div>
<div class="t" style="left:1589.12px;width:40px;text-align:center;top:866.29px;font-size:9px;font-weight:bold;color:#1f5a30">-</div>
<div class="t" style="left:1623.38px;width:40px;text-align:center;top:866.29px;font-size:9px;font-weight:bold;color:#4a4a4a">-</div>
<div class="t" style="left:1657.65px;width:40px;text-align:center;top:866.29px;font-size:9px;font-weight:bold;color:#4a4a4a">-</div>
<div class="t" style="left:1691.92px;width:40px;text-align:center;top:866.29px;font-size:9px;font-weight:bold;color:#4a4a4a">-</div>
<div class="t" style="left:1726.19px;width:40px;text-align:center;top:866.29px;font-size:9px;font-weight:bold;color:#4a4a4a">-</div>
<div class="t" style="left:1760.46px;width:40px;text-align:center;top:866.29px;font-size:9px;font-weight:bold;color:#4a4a4a">-</div>
<div class="t" style="left:1794.74px;width:40px;text-align:center;top:866.29px;font-size:9px;font-weight:bold;color:#1f5a30">-</div>
<div class="t" style="left:599.50px;top:883.16px;font-size:9.6px;color:#3a3a3a">Czas wolny za nadg. bez wniosku</div>
<div class="t" style="left:766.63px;width:40px;text-align:center;top:883.76px;font-size:9px;font-weight:bold;color:#1f5a30">-</div>
<div class="t" style="left:800.90px;width:40px;text-align:center;top:883.76px;font-size:9px;font-weight:bold;color:#4a4a4a">-</div>
<div class="t" style="left:835.17px;width:40px;text-align:center;top:883.76px;font-size:9px;font-weight:bold;color:#1f5a30">-</div>
<div class="t" style="left:869.44px;width:40px;text-align:center;top:883.76px;font-size:9px;font-weight:bold;color:#1f5a30">-</div>
<div class="t" style="left:903.72px;width:40px;text-align:center;top:883.76px;font-size:9px;font-weight:bold;color:#eef8f1">-</div>
<div class="t" style="left:937.99px;width:40px;text-align:center;top:883.76px;font-size:9px;font-weight:bold;color:#4a4a4a">-</div>
<div class="t" style="left:972.25px;width:40px;text-align:center;top:883.76px;font-size:9px;font-weight:bold;color:#4a4a4a">-</div>
<div class="t" style="left:1006.53px;width:40px;text-align:center;top:883.76px;font-size:9px;font-weight:bold;color:#4a4a4a">-</div>
<div class="t" style="left:1040.80px;width:40px;text-align:center;top:883.76px;font-size:9px;font-weight:bold;color:#4a4a4a">-</div>
<div class="t" style="left:1075.07px;width:40px;text-align:center;top:883.76px;font-size:9px;font-weight:bold;color:#1f5a30">-</div>
<div class="t" style="left:1109.34px;width:40px;text-align:center;top:883.76px;font-size:9px;font-weight:bold;color:#1f5a30">-</div>
<div class="t" style="left:1143.61px;width:40px;text-align:center;top:883.76px;font-size:9px;font-weight:bold;color:#4a4a4a">-</div>
<div class="t" style="left:1177.88px;width:40px;text-align:center;top:883.76px;font-size:9px;font-weight:bold;color:#4a4a4a">-</div>
<div class="t" style="left:1212.14px;width:40px;text-align:center;top:883.76px;font-size:9px;font-weight:bold;color:#4a4a4a">-</div>
<div class="t" style="left:1246.41px;width:40px;text-align:center;top:883.76px;font-size:9px;font-weight:bold;color:#4a4a4a">-</div>
<div class="t" style="left:1280.69px;width:40px;text-align:center;top:883.76px;font-size:9px;font-weight:bold;color:#4a4a4a">-</div>
<div class="t" style="left:1314.96px;width:40px;text-align:center;top:883.76px;font-size:9px;font-weight:bold;color:#1f5a30">-</div>
<div class="t" style="left:1349.23px;width:40px;text-align:center;top:883.76px;font-size:9px;font-weight:bold;color:#1f5a30">-</div>
<div class="t" style="left:1383.50px;width:40px;text-align:center;top:883.76px;font-size:9px;font-weight:bold;color:#4a4a4a">-</div>
<div class="t" style="left:1417.77px;width:40px;text-align:center;top:883.76px;font-size:9px;font-weight:bold;color:#4a4a4a">-</div>
<div class="t" style="left:1452.04px;width:40px;text-align:center;top:883.76px;font-size:9px;font-weight:bold;color:#4a4a4a">-</div>
<div class="t" style="left:1486.31px;width:40px;text-align:center;top:883.76px;font-size:9px;font-weight:bold;color:#4a4a4a">-</div>
<div class="t" style="left:1520.58px;width:40px;text-align:center;top:883.76px;font-size:9px;font-weight:bold;color:#4a4a4a">-</div>
<div class="t" style="left:1554.85px;width:40px;text-align:center;top:883.76px;font-size:9px;font-weight:bold;color:#1f5a30">-</div>
<div class="t" style="left:1589.12px;width:40px;text-align:center;top:883.76px;font-size:9px;font-weight:bold;color:#1f5a30">-</div>
<div class="t" style="left:1623.38px;width:40px;text-align:center;top:883.76px;font-size:9px;font-weight:bold;color:#4a4a4a">-</div>
<div class="t" style="left:1657.65px;width:40px;text-align:center;top:883.76px;font-size:9px;font-weight:bold;color:#4a4a4a">-</div>
<div class="t" style="left:1691.92px;width:40px;text-align:center;top:883.76px;font-size:9px;font-weight:bold;color:#4a4a4a">-</div>
<div class="t" style="left:1726.19px;width:40px;text-align:center;top:883.76px;font-size:9px;font-weight:bold;color:#4a4a4a">-</div>
<div class="t" style="left:1760.46px;width:40px;text-align:center;top:883.76px;font-size:9px;font-weight:bold;color:#4a4a4a">-</div>
<div class="t" style="left:1794.74px;width:40px;text-align:center;top:883.76px;font-size:9px;font-weight:bold;color:#1f5a30">-</div>
<div class="a" style="left:576.00px;top:895.69px;width:1344.00px;height:75.31px;background:#ffffff;"></div>
<div class="a" style="left:590.20px;top:905.30px;width:1329.80px;height:65.70px;background:#ededed;"></div>
<div class="a" style="left:599.50px;top:913.50px;width:118.00px;height:52.50px;background:#ffffff;border-radius:2px"></div>
<div class="t" style="left:608.50px;top:921.50px;font-size:9px;color:#444">Etat</div>
<div class="t" style="left:608.50px;top:939.75px;font-size:11.5px;font-weight:bold;color:#222">1/1</div>
<div class="a" style="left:727.70px;top:913.50px;width:118.00px;height:52.50px;background:#ffffff;border-radius:2px"></div>
<div class="t" style="left:736.70px;top:921.50px;font-size:9px;color:#444">System pracy</div>
<div class="t" style="left:736.70px;top:939.75px;font-size:11.5px;font-weight:bold;color:#222">Równoważny</div>
<div class="a" style="left:855.90px;top:913.50px;width:118.00px;height:52.50px;background:#ffffff;border-radius:2px"></div>
<div class="t" style="left:864.90px;top:921.50px;font-size:9px;color:#444">Angaż</div>
<div class="t" style="left:864.90px;top:939.75px;font-size:11.5px;font-weight:bold;color:#222">Miesięczny</div>
<div class="a" style="left:984.10px;top:913.50px;width:118.00px;height:52.50px;background:#ffffff;border-radius:2px"></div>
<div class="t" style="left:993.10px;top:921.50px;font-size:9px;color:#444">Premia kwota</div>
<div class="t" style="left:993.10px;top:939.75px;font-size:11.5px;font-weight:bold;color:#222">-</div>
<div class="a" style="left:1112.30px;top:913.50px;width:118.00px;height:52.50px;background:#ffffff;border-radius:2px"></div>
<div class="t" style="left:1121.30px;top:921.50px;font-size:9px;color:#444">Typ premi kwotowej %</div>
<div class="t" style="left:1121.30px;top:939.75px;font-size:11.5px;font-weight:bold;color:#222">-</div>
<div class="a" style="left:1240.50px;top:913.50px;width:118.00px;height:52.50px;background:#ffffff;border-radius:2px"></div>
<div class="t" style="left:1249.50px;top:921.80px;font-size:9px;color:#444">Normatywne dni</div>
<div class="t" style="left:1249.50px;top:930.10px;font-size:9px;color:#444">pracujące</div>
<div class="t" style="left:1249.50px;top:945.25px;font-size:11.5px;font-weight:bold;color:#222">21</div>
<div class="a" style="left:1368.70px;top:913.50px;width:118.00px;height:52.50px;background:#ffffff;border-radius:2px"></div>
<div class="t" style="left:1377.70px;top:921.50px;font-size:9px;color:#444">Normatywne dni wolne</div>
<div class="t" style="left:1377.70px;top:939.75px;font-size:11.5px;font-weight:bold;color:#222">8</div>
<div class="a" style="left:1496.90px;top:913.50px;width:118.00px;height:52.50px;background:#ffffff;border-radius:2px"></div>
<div class="t" style="left:1505.90px;top:921.50px;font-size:9px;color:#444">Ilość dni wolnych</div>
<div class="t" style="left:1505.90px;top:939.75px;font-size:11.5px;font-weight:bold;color:#222">8</div>
<div class="a" style="left:1625.10px;top:913.50px;width:118.00px;height:52.50px;background:#ffffff;border-radius:2px"></div>
<div class="t" style="left:1634.10px;top:921.80px;font-size:9px;color:#444">Normatywne godziny</div>
<div class="t" style="left:1634.10px;top:930.10px;font-size:9px;color:#444">pracy</div>
<div class="t" style="left:1634.10px;top:945.25px;font-size:11.5px;font-weight:bold;color:#222">168:00</div>
<div class="a" style="left:1753.30px;top:913.50px;width:118.00px;height:52.50px;background:#ffffff;border-radius:2px"></div>
<div class="t" style="left:1762.30px;top:921.80px;font-size:9px;color:#444">Dni pracy i</div>
<div class="t" style="left:1762.30px;top:930.10px;font-size:9px;color:#444">nieobecności uspr.</div>
<div class="t" style="left:1762.30px;top:945.25px;font-size:11.5px;font-weight:bold;color:#222">-</div>
<div class="a" style="left:1881.50px;top:913.50px;width:118.00px;height:52.50px;background:#ffffff;border-radius:2px"></div>
<div class="t" style="left:1890.50px;top:921.50px;font-size:9px;color:#444">Dni pracy</div>
<div class="t" style="left:1890.50px;top:939.75px;font-size:11.5px;font-weight:bold;color:#222">23</div>
</body></html>
